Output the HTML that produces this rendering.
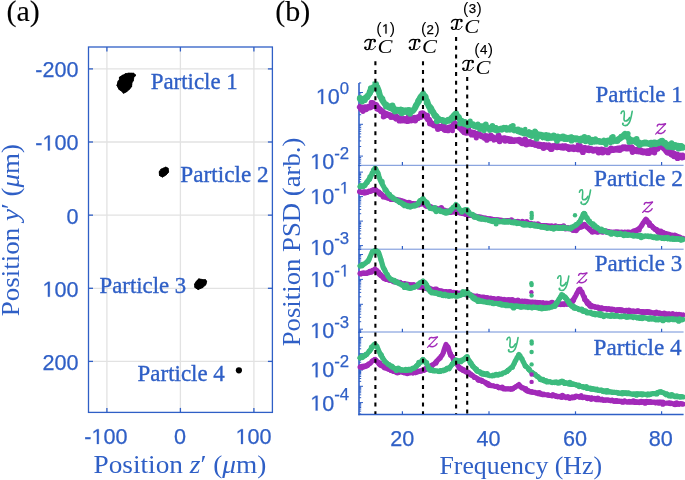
<!DOCTYPE html><html><head><meta charset="utf-8"><style>html,body{margin:0;padding:0;background:#fff;}svg{display:block;will-change:transform;}</style></head><body><svg width="685" height="480" viewBox="0 0 685 480">
<rect width="685" height="480" fill="#fff"/>
<line x1="106.9" y1="47" x2="106.9" y2="412.4" stroke="#e2e2e2" stroke-width="1.3"/>
<line x1="180.4" y1="47" x2="180.4" y2="412.4" stroke="#e2e2e2" stroke-width="1.3"/>
<line x1="253.9" y1="47" x2="253.9" y2="412.4" stroke="#e2e2e2" stroke-width="1.3"/>
<line x1="88.5" y1="68.9" x2="272.4" y2="68.9" stroke="#e2e2e2" stroke-width="1.3"/>
<line x1="88.5" y1="142.0" x2="272.4" y2="142.0" stroke="#e2e2e2" stroke-width="1.3"/>
<line x1="88.5" y1="215.15" x2="272.4" y2="215.15" stroke="#e2e2e2" stroke-width="1.3"/>
<line x1="88.5" y1="288.3" x2="272.4" y2="288.3" stroke="#e2e2e2" stroke-width="1.3"/>
<line x1="88.5" y1="361.4" x2="272.4" y2="361.4" stroke="#e2e2e2" stroke-width="1.3"/>
<rect x="88.5" y="47" width="183.89999999999998" height="365.4" fill="none" stroke="#2f5fc6" stroke-width="1.3"/>
<line x1="106.9" y1="47" x2="106.9" y2="51.5" stroke="#2f5fc6" stroke-width="1.3"/>
<line x1="106.9" y1="412.4" x2="106.9" y2="407.9" stroke="#2f5fc6" stroke-width="1.3"/>
<line x1="180.4" y1="47" x2="180.4" y2="51.5" stroke="#2f5fc6" stroke-width="1.3"/>
<line x1="180.4" y1="412.4" x2="180.4" y2="407.9" stroke="#2f5fc6" stroke-width="1.3"/>
<line x1="253.9" y1="47" x2="253.9" y2="51.5" stroke="#2f5fc6" stroke-width="1.3"/>
<line x1="253.9" y1="412.4" x2="253.9" y2="407.9" stroke="#2f5fc6" stroke-width="1.3"/>
<line x1="88.5" y1="68.9" x2="93.0" y2="68.9" stroke="#2f5fc6" stroke-width="1.3"/>
<line x1="272.4" y1="68.9" x2="267.9" y2="68.9" stroke="#2f5fc6" stroke-width="1.3"/>
<line x1="88.5" y1="142.0" x2="93.0" y2="142.0" stroke="#2f5fc6" stroke-width="1.3"/>
<line x1="272.4" y1="142.0" x2="267.9" y2="142.0" stroke="#2f5fc6" stroke-width="1.3"/>
<line x1="88.5" y1="215.15" x2="93.0" y2="215.15" stroke="#2f5fc6" stroke-width="1.3"/>
<line x1="272.4" y1="215.15" x2="267.9" y2="215.15" stroke="#2f5fc6" stroke-width="1.3"/>
<line x1="88.5" y1="288.3" x2="93.0" y2="288.3" stroke="#2f5fc6" stroke-width="1.3"/>
<line x1="272.4" y1="288.3" x2="267.9" y2="288.3" stroke="#2f5fc6" stroke-width="1.3"/>
<line x1="88.5" y1="361.4" x2="93.0" y2="361.4" stroke="#2f5fc6" stroke-width="1.3"/>
<line x1="272.4" y1="361.4" x2="267.9" y2="361.4" stroke="#2f5fc6" stroke-width="1.3"/>
<path d="M125.6 73.6 L128.8 73.2 L133.8 73.3 L135.5 75.0 L133.8 77.5 L133.4 80.3 L131.9 83.1 L131.6 86.6 L128.8 89.9 L126.2 91.8 L123.4 93.3 L121.9 91.2 L119.0 89.4 L117.1 85.6 L117.9 81.9 L119.4 79.4 L119.4 77.2 L122.5 75.3 L124.7 74.4Z" fill="#000" stroke="#000" stroke-width="0.8" stroke-linejoin="round"/><g fill="#000"><circle cx="125.6" cy="74.3" r="1.05"/><circle cx="128.5" cy="73.8" r="0.97"/><circle cx="130.0" cy="74.0" r="1.19"/><circle cx="131.7" cy="73.8" r="0.93"/><circle cx="133.2" cy="73.9" r="1.14"/><circle cx="134.9" cy="75.4" r="1.06"/><circle cx="133.2" cy="77.8" r="0.93"/><circle cx="132.6" cy="80.4" r="1.13"/><circle cx="131.3" cy="82.9" r="0.92"/><circle cx="131.1" cy="84.5" r="1.10"/><circle cx="131.1" cy="86.2" r="0.93"/><circle cx="129.8" cy="87.7" r="0.94"/><circle cx="128.5" cy="89.2" r="1.09"/><circle cx="126.2" cy="90.9" r="1.27"/><circle cx="124.9" cy="91.9" r="0.96"/><circle cx="123.6" cy="92.6" r="1.00"/><circle cx="122.2" cy="90.4" r="1.18"/><circle cx="121.0" cy="89.5" r="1.33"/><circle cx="119.5" cy="88.8" r="1.16"/><circle cx="118.7" cy="87.1" r="1.08"/><circle cx="118.0" cy="85.2" r="1.34"/><circle cx="118.1" cy="83.6" r="0.92"/><circle cx="118.8" cy="81.9" r="1.29"/><circle cx="120.1" cy="79.6" r="1.03"/><circle cx="120.0" cy="77.6" r="0.96"/><circle cx="121.4" cy="76.7" r="0.95"/><circle cx="122.9" cy="75.9" r="1.04"/><circle cx="124.9" cy="75.3" r="1.27"/></g>
<path d="M165.9 167.1 L168.1 168.2 L168.6 171.9 L166.2 174.9 L162.5 177.1 L159.5 175.5 L159.2 171.9 L160.9 169.2 L163.8 167.9Z" fill="#000" stroke="#000" stroke-width="0.8" stroke-linejoin="round"/><g fill="#000"><circle cx="165.7" cy="167.6" r="0.79"/><circle cx="167.6" cy="168.6" r="0.93"/><circle cx="167.7" cy="170.3" r="0.95"/><circle cx="168.0" cy="171.9" r="0.85"/><circle cx="166.9" cy="173.1" r="0.92"/><circle cx="165.9" cy="174.5" r="0.74"/><circle cx="164.3" cy="175.5" r="0.74"/><circle cx="162.6" cy="176.6" r="0.79"/><circle cx="161.3" cy="175.7" r="0.96"/><circle cx="160.0" cy="175.1" r="0.87"/><circle cx="159.9" cy="173.4" r="0.83"/><circle cx="159.8" cy="171.8" r="0.93"/><circle cx="161.4" cy="169.6" r="0.88"/><circle cx="163.8" cy="168.5" r="0.83"/></g>
<path d="M198.8 278.9 L202.5 279.5 L205.6 279.8 L206.6 281.3 L205.9 284.6 L202.5 287.7 L198.1 289.5 L194.8 287.4 L194.5 284.4 L195.9 281.7Z" fill="#000" stroke="#000" stroke-width="0.8" stroke-linejoin="round"/><g fill="#000"><circle cx="199.0" cy="279.6" r="1.01"/><circle cx="200.6" cy="279.9" r="0.97"/><circle cx="202.2" cy="280.0" r="0.81"/><circle cx="205.1" cy="280.2" r="0.93"/><circle cx="206.0" cy="281.5" r="0.91"/><circle cx="205.5" cy="283.0" r="1.04"/><circle cx="205.2" cy="284.5" r="0.98"/><circle cx="203.7" cy="285.8" r="0.82"/><circle cx="202.2" cy="287.0" r="1.07"/><circle cx="200.3" cy="288.1" r="0.76"/><circle cx="198.3" cy="288.9" r="0.87"/><circle cx="196.9" cy="287.9" r="0.99"/><circle cx="195.2" cy="287.1" r="0.77"/><circle cx="195.1" cy="284.3" r="0.90"/><circle cx="196.4" cy="281.9" r="0.73"/><circle cx="197.8" cy="280.8" r="0.96"/></g>
<circle cx="238.9" cy="370.3" r="3.1" fill="#000"/>
<text x="35.27" y="77.30" font-family='"Liberation Sans", sans-serif' font-size="21.6" fill="#2f5fc6" stroke="#2f5fc6" stroke-width="0.25">-200</text>
<text x="35.27" y="150.40" font-family='"Liberation Sans", sans-serif' font-size="21.6" fill="#2f5fc6" stroke="#2f5fc6" stroke-width="0.25">- 00</text><path transform="translate(42.46 150.40) scale(0.01055 -0.01055)" d="M515 0L696 0L696 1409L530 1409L197 1180L197 1010L515 1237Z" fill="#2f5fc6" stroke="#2f5fc6" stroke-width="23.7" stroke-linejoin="round"/>
<text x="66.49" y="223.55" font-family='"Liberation Sans", sans-serif' font-size="21.6" fill="#2f5fc6" stroke="#2f5fc6" stroke-width="0.25">0</text>
<text x="42.46" y="296.70" font-family='"Liberation Sans", sans-serif' font-size="21.6" fill="#2f5fc6" stroke="#2f5fc6" stroke-width="0.25"> 00</text><path transform="translate(42.46 296.70) scale(0.01055 -0.01055)" d="M515 0L696 0L696 1409L530 1409L197 1180L197 1010L515 1237Z" fill="#2f5fc6" stroke="#2f5fc6" stroke-width="23.7" stroke-linejoin="round"/>
<text x="42.46" y="369.80" font-family='"Liberation Sans", sans-serif' font-size="21.6" fill="#2f5fc6" stroke="#2f5fc6" stroke-width="0.25">200</text>
<text x="84.28" y="444.00" font-family='"Liberation Sans", sans-serif' font-size="21.6" fill="#2f5fc6" stroke="#2f5fc6" stroke-width="0.25">- 00</text><path transform="translate(91.48 444.00) scale(0.01055 -0.01055)" d="M515 0L696 0L696 1409L530 1409L197 1180L197 1010L515 1237Z" fill="#2f5fc6" stroke="#2f5fc6" stroke-width="23.7" stroke-linejoin="round"/>
<text x="173.99" y="444.00" font-family='"Liberation Sans", sans-serif' font-size="21.6" fill="#2f5fc6" stroke="#2f5fc6" stroke-width="0.25">0</text>
<text x="235.58" y="444.00" font-family='"Liberation Sans", sans-serif' font-size="21.6" fill="#2f5fc6" stroke="#2f5fc6" stroke-width="0.25"> 00</text><path transform="translate(235.58 444.00) scale(0.01055 -0.01055)" d="M515 0L696 0L696 1409L530 1409L197 1180L197 1010L515 1237Z" fill="#2f5fc6" stroke="#2f5fc6" stroke-width="23.7" stroke-linejoin="round"/>
<text transform="translate(150.66 88.50) scale(0.9830 1)" font-family='"Liberation Serif", serif' font-size="23.3" fill="#2f5fc6" stroke="#2f5fc6" stroke-width="0.356">Particle 1</text>
<text transform="translate(180.25 181.50) scale(0.9980 1)" font-family='"Liberation Serif", serif' font-size="23.3" fill="#2f5fc6" stroke="#2f5fc6" stroke-width="0.351">Particle 2</text>
<text transform="translate(99.57 292.80) scale(0.9770 1)" font-family='"Liberation Serif", serif' font-size="23.3" fill="#2f5fc6" stroke="#2f5fc6" stroke-width="0.358">Particle 3</text>
<text transform="translate(137.56 380.70) scale(0.9850 1)" font-family='"Liberation Serif", serif' font-size="23.3" fill="#2f5fc6" stroke="#2f5fc6" stroke-width="0.355">Particle 4</text>
<text transform="translate(93.46 472.60) scale(1.0590 1)" font-family='"Liberation Serif", serif' font-size="25.8" fill="#2f5fc6">Position <tspan font-style="italic">z</tspan>′ (<tspan font-style="italic">μ</tspan>m)</text>
<text transform="translate(18.76 316.28) rotate(-90) scale(1.0460 1)" font-family='"Liberation Serif", serif' font-size="25.8" fill="#2f5fc6">Position <tspan font-style="italic">y</tspan>′ (<tspan font-style="italic">μ</tspan>m)</text>
<text x="6.5" y="21" font-family='"Liberation Serif", serif' font-size="30" fill="#000" text-anchor="start" stroke="#000" stroke-width="0.1" >(a)</text>
<text x="275.3" y="21" font-family='"Liberation Serif", serif' font-size="30" fill="#000" text-anchor="start" stroke="#000" stroke-width="0.1" >(b)</text>
<line x1="358.3" y1="165.3" x2="683.6" y2="165.3" stroke="#6f8fd8" stroke-width="1"/>
<line x1="402.4" y1="165.3" x2="402.4" y2="162.0" stroke="#2f5fc6" stroke-width="1.2"/>
<line x1="489.0" y1="165.3" x2="489.0" y2="162.0" stroke="#2f5fc6" stroke-width="1.2"/>
<line x1="575.5" y1="165.3" x2="575.5" y2="162.0" stroke="#2f5fc6" stroke-width="1.2"/>
<line x1="661.6" y1="165.3" x2="661.6" y2="162.0" stroke="#2f5fc6" stroke-width="1.2"/>
<line x1="359" y1="83" x2="359" y2="166.0" stroke="#2f5fc6" stroke-width="1.6"/>
<line x1="359" y1="165.67" x2="361.2" y2="165.67" stroke="#2f5fc6" stroke-width="1"/>
<line x1="359" y1="163.15" x2="361.2" y2="163.15" stroke="#2f5fc6" stroke-width="1"/>
<line x1="359" y1="161.03" x2="361.2" y2="161.03" stroke="#2f5fc6" stroke-width="1"/>
<line x1="359" y1="159.18" x2="361.2" y2="159.18" stroke="#2f5fc6" stroke-width="1"/>
<line x1="359" y1="157.56" x2="361.2" y2="157.56" stroke="#2f5fc6" stroke-width="1"/>
<line x1="359" y1="156.10" x2="363" y2="156.10" stroke="#2f5fc6" stroke-width="1"/>
<line x1="359" y1="146.53" x2="361.2" y2="146.53" stroke="#2f5fc6" stroke-width="1"/>
<line x1="359" y1="140.93" x2="361.2" y2="140.93" stroke="#2f5fc6" stroke-width="1"/>
<line x1="359" y1="136.95" x2="361.2" y2="136.95" stroke="#2f5fc6" stroke-width="1"/>
<line x1="359" y1="133.87" x2="361.2" y2="133.87" stroke="#2f5fc6" stroke-width="1"/>
<line x1="359" y1="131.35" x2="361.2" y2="131.35" stroke="#2f5fc6" stroke-width="1"/>
<line x1="359" y1="129.23" x2="361.2" y2="129.23" stroke="#2f5fc6" stroke-width="1"/>
<line x1="359" y1="127.38" x2="361.2" y2="127.38" stroke="#2f5fc6" stroke-width="1"/>
<line x1="359" y1="125.76" x2="361.2" y2="125.76" stroke="#2f5fc6" stroke-width="1"/>
<line x1="359" y1="124.30" x2="363" y2="124.30" stroke="#2f5fc6" stroke-width="1"/>
<line x1="359" y1="114.73" x2="361.2" y2="114.73" stroke="#2f5fc6" stroke-width="1"/>
<line x1="359" y1="109.13" x2="361.2" y2="109.13" stroke="#2f5fc6" stroke-width="1"/>
<line x1="359" y1="105.15" x2="361.2" y2="105.15" stroke="#2f5fc6" stroke-width="1"/>
<line x1="359" y1="102.07" x2="361.2" y2="102.07" stroke="#2f5fc6" stroke-width="1"/>
<line x1="359" y1="99.55" x2="361.2" y2="99.55" stroke="#2f5fc6" stroke-width="1"/>
<line x1="359" y1="97.43" x2="361.2" y2="97.43" stroke="#2f5fc6" stroke-width="1"/>
<line x1="359" y1="95.58" x2="361.2" y2="95.58" stroke="#2f5fc6" stroke-width="1"/>
<line x1="359" y1="93.96" x2="361.2" y2="93.96" stroke="#2f5fc6" stroke-width="1"/>
<line x1="359" y1="92.50" x2="363" y2="92.50" stroke="#2f5fc6" stroke-width="1"/>
<line x1="359" y1="82.93" x2="361.2" y2="82.93" stroke="#2f5fc6" stroke-width="1"/>
<line x1="358.3" y1="249.2" x2="683.6" y2="249.2" stroke="#6f8fd8" stroke-width="1"/>
<line x1="402.4" y1="249.2" x2="402.4" y2="245.89999999999998" stroke="#2f5fc6" stroke-width="1.2"/>
<line x1="489.0" y1="249.2" x2="489.0" y2="245.89999999999998" stroke="#2f5fc6" stroke-width="1.2"/>
<line x1="575.5" y1="249.2" x2="575.5" y2="245.89999999999998" stroke="#2f5fc6" stroke-width="1.2"/>
<line x1="661.6" y1="249.2" x2="661.6" y2="245.89999999999998" stroke="#2f5fc6" stroke-width="1.2"/>
<line x1="359" y1="165.3" x2="359" y2="249.89999999999998" stroke="#2f5fc6" stroke-width="1.6"/>
<line x1="359" y1="249.40" x2="361.2" y2="249.40" stroke="#2f5fc6" stroke-width="1"/>
<line x1="359" y1="247.97" x2="361.2" y2="247.97" stroke="#2f5fc6" stroke-width="1"/>
<line x1="359" y1="246.72" x2="361.2" y2="246.72" stroke="#2f5fc6" stroke-width="1"/>
<line x1="359" y1="245.60" x2="363" y2="245.60" stroke="#2f5fc6" stroke-width="1"/>
<line x1="359" y1="238.22" x2="361.2" y2="238.22" stroke="#2f5fc6" stroke-width="1"/>
<line x1="359" y1="233.91" x2="361.2" y2="233.91" stroke="#2f5fc6" stroke-width="1"/>
<line x1="359" y1="230.85" x2="361.2" y2="230.85" stroke="#2f5fc6" stroke-width="1"/>
<line x1="359" y1="228.48" x2="361.2" y2="228.48" stroke="#2f5fc6" stroke-width="1"/>
<line x1="359" y1="226.54" x2="361.2" y2="226.54" stroke="#2f5fc6" stroke-width="1"/>
<line x1="359" y1="224.90" x2="361.2" y2="224.90" stroke="#2f5fc6" stroke-width="1"/>
<line x1="359" y1="223.47" x2="361.2" y2="223.47" stroke="#2f5fc6" stroke-width="1"/>
<line x1="359" y1="222.22" x2="361.2" y2="222.22" stroke="#2f5fc6" stroke-width="1"/>
<line x1="359" y1="221.10" x2="363" y2="221.10" stroke="#2f5fc6" stroke-width="1"/>
<line x1="359" y1="213.72" x2="361.2" y2="213.72" stroke="#2f5fc6" stroke-width="1"/>
<line x1="359" y1="209.41" x2="361.2" y2="209.41" stroke="#2f5fc6" stroke-width="1"/>
<line x1="359" y1="206.35" x2="361.2" y2="206.35" stroke="#2f5fc6" stroke-width="1"/>
<line x1="359" y1="203.98" x2="361.2" y2="203.98" stroke="#2f5fc6" stroke-width="1"/>
<line x1="359" y1="202.04" x2="361.2" y2="202.04" stroke="#2f5fc6" stroke-width="1"/>
<line x1="359" y1="200.40" x2="361.2" y2="200.40" stroke="#2f5fc6" stroke-width="1"/>
<line x1="359" y1="198.97" x2="361.2" y2="198.97" stroke="#2f5fc6" stroke-width="1"/>
<line x1="359" y1="197.72" x2="361.2" y2="197.72" stroke="#2f5fc6" stroke-width="1"/>
<line x1="359" y1="196.60" x2="363" y2="196.60" stroke="#2f5fc6" stroke-width="1"/>
<line x1="359" y1="189.22" x2="361.2" y2="189.22" stroke="#2f5fc6" stroke-width="1"/>
<line x1="359" y1="184.91" x2="361.2" y2="184.91" stroke="#2f5fc6" stroke-width="1"/>
<line x1="359" y1="181.85" x2="361.2" y2="181.85" stroke="#2f5fc6" stroke-width="1"/>
<line x1="359" y1="179.48" x2="361.2" y2="179.48" stroke="#2f5fc6" stroke-width="1"/>
<line x1="359" y1="177.54" x2="361.2" y2="177.54" stroke="#2f5fc6" stroke-width="1"/>
<line x1="359" y1="175.90" x2="361.2" y2="175.90" stroke="#2f5fc6" stroke-width="1"/>
<line x1="359" y1="174.47" x2="361.2" y2="174.47" stroke="#2f5fc6" stroke-width="1"/>
<line x1="359" y1="173.22" x2="361.2" y2="173.22" stroke="#2f5fc6" stroke-width="1"/>
<line x1="359" y1="172.10" x2="363" y2="172.10" stroke="#2f5fc6" stroke-width="1"/>
<line x1="358.3" y1="332" x2="683.6" y2="332" stroke="#6f8fd8" stroke-width="1"/>
<line x1="402.4" y1="332" x2="402.4" y2="328.7" stroke="#2f5fc6" stroke-width="1.2"/>
<line x1="489.0" y1="332" x2="489.0" y2="328.7" stroke="#2f5fc6" stroke-width="1.2"/>
<line x1="575.5" y1="332" x2="575.5" y2="328.7" stroke="#2f5fc6" stroke-width="1.2"/>
<line x1="661.6" y1="332" x2="661.6" y2="328.7" stroke="#2f5fc6" stroke-width="1.2"/>
<line x1="359" y1="249.2" x2="359" y2="332.7" stroke="#2f5fc6" stroke-width="1.6"/>
<line x1="359" y1="331.61" x2="361.2" y2="331.61" stroke="#2f5fc6" stroke-width="1"/>
<line x1="359" y1="330.34" x2="361.2" y2="330.34" stroke="#2f5fc6" stroke-width="1"/>
<line x1="359" y1="329.20" x2="363" y2="329.20" stroke="#2f5fc6" stroke-width="1"/>
<line x1="359" y1="321.70" x2="361.2" y2="321.70" stroke="#2f5fc6" stroke-width="1"/>
<line x1="359" y1="317.32" x2="361.2" y2="317.32" stroke="#2f5fc6" stroke-width="1"/>
<line x1="359" y1="314.21" x2="361.2" y2="314.21" stroke="#2f5fc6" stroke-width="1"/>
<line x1="359" y1="311.80" x2="361.2" y2="311.80" stroke="#2f5fc6" stroke-width="1"/>
<line x1="359" y1="309.82" x2="361.2" y2="309.82" stroke="#2f5fc6" stroke-width="1"/>
<line x1="359" y1="308.16" x2="361.2" y2="308.16" stroke="#2f5fc6" stroke-width="1"/>
<line x1="359" y1="306.71" x2="361.2" y2="306.71" stroke="#2f5fc6" stroke-width="1"/>
<line x1="359" y1="305.44" x2="361.2" y2="305.44" stroke="#2f5fc6" stroke-width="1"/>
<line x1="359" y1="304.30" x2="363" y2="304.30" stroke="#2f5fc6" stroke-width="1"/>
<line x1="359" y1="296.80" x2="361.2" y2="296.80" stroke="#2f5fc6" stroke-width="1"/>
<line x1="359" y1="292.42" x2="361.2" y2="292.42" stroke="#2f5fc6" stroke-width="1"/>
<line x1="359" y1="289.31" x2="361.2" y2="289.31" stroke="#2f5fc6" stroke-width="1"/>
<line x1="359" y1="286.90" x2="361.2" y2="286.90" stroke="#2f5fc6" stroke-width="1"/>
<line x1="359" y1="284.92" x2="361.2" y2="284.92" stroke="#2f5fc6" stroke-width="1"/>
<line x1="359" y1="283.26" x2="361.2" y2="283.26" stroke="#2f5fc6" stroke-width="1"/>
<line x1="359" y1="281.81" x2="361.2" y2="281.81" stroke="#2f5fc6" stroke-width="1"/>
<line x1="359" y1="280.54" x2="361.2" y2="280.54" stroke="#2f5fc6" stroke-width="1"/>
<line x1="359" y1="279.40" x2="363" y2="279.40" stroke="#2f5fc6" stroke-width="1"/>
<line x1="359" y1="271.90" x2="361.2" y2="271.90" stroke="#2f5fc6" stroke-width="1"/>
<line x1="359" y1="267.52" x2="361.2" y2="267.52" stroke="#2f5fc6" stroke-width="1"/>
<line x1="359" y1="264.41" x2="361.2" y2="264.41" stroke="#2f5fc6" stroke-width="1"/>
<line x1="359" y1="262.00" x2="361.2" y2="262.00" stroke="#2f5fc6" stroke-width="1"/>
<line x1="359" y1="260.02" x2="361.2" y2="260.02" stroke="#2f5fc6" stroke-width="1"/>
<line x1="359" y1="258.36" x2="361.2" y2="258.36" stroke="#2f5fc6" stroke-width="1"/>
<line x1="359" y1="256.91" x2="361.2" y2="256.91" stroke="#2f5fc6" stroke-width="1"/>
<line x1="359" y1="255.64" x2="361.2" y2="255.64" stroke="#2f5fc6" stroke-width="1"/>
<line x1="359" y1="254.50" x2="363" y2="254.50" stroke="#2f5fc6" stroke-width="1"/>
<line x1="358.3" y1="414.6" x2="683.6" y2="414.6" stroke="#2f5fc6" stroke-width="1.5"/>
<line x1="402.4" y1="414.6" x2="402.4" y2="411.3" stroke="#2f5fc6" stroke-width="1.2"/>
<line x1="489.0" y1="414.6" x2="489.0" y2="411.3" stroke="#2f5fc6" stroke-width="1.2"/>
<line x1="575.5" y1="414.6" x2="575.5" y2="411.3" stroke="#2f5fc6" stroke-width="1.2"/>
<line x1="661.6" y1="414.6" x2="661.6" y2="411.3" stroke="#2f5fc6" stroke-width="1.2"/>
<line x1="359" y1="332" x2="359" y2="415.3" stroke="#2f5fc6" stroke-width="1.6"/>
<line x1="359" y1="413.99" x2="361.2" y2="413.99" stroke="#2f5fc6" stroke-width="1"/>
<line x1="359" y1="411.12" x2="361.2" y2="411.12" stroke="#2f5fc6" stroke-width="1"/>
<line x1="359" y1="409.09" x2="361.2" y2="409.09" stroke="#2f5fc6" stroke-width="1"/>
<line x1="359" y1="407.51" x2="361.2" y2="407.51" stroke="#2f5fc6" stroke-width="1"/>
<line x1="359" y1="406.22" x2="361.2" y2="406.22" stroke="#2f5fc6" stroke-width="1"/>
<line x1="359" y1="405.12" x2="361.2" y2="405.12" stroke="#2f5fc6" stroke-width="1"/>
<line x1="359" y1="404.18" x2="361.2" y2="404.18" stroke="#2f5fc6" stroke-width="1"/>
<line x1="359" y1="403.35" x2="361.2" y2="403.35" stroke="#2f5fc6" stroke-width="1"/>
<line x1="359" y1="402.60" x2="363" y2="402.60" stroke="#2f5fc6" stroke-width="1"/>
<line x1="359" y1="397.69" x2="361.2" y2="397.69" stroke="#2f5fc6" stroke-width="1"/>
<line x1="359" y1="394.82" x2="361.2" y2="394.82" stroke="#2f5fc6" stroke-width="1"/>
<line x1="359" y1="392.79" x2="361.2" y2="392.79" stroke="#2f5fc6" stroke-width="1"/>
<line x1="359" y1="391.21" x2="361.2" y2="391.21" stroke="#2f5fc6" stroke-width="1"/>
<line x1="359" y1="389.92" x2="361.2" y2="389.92" stroke="#2f5fc6" stroke-width="1"/>
<line x1="359" y1="388.82" x2="361.2" y2="388.82" stroke="#2f5fc6" stroke-width="1"/>
<line x1="359" y1="387.88" x2="361.2" y2="387.88" stroke="#2f5fc6" stroke-width="1"/>
<line x1="359" y1="387.05" x2="361.2" y2="387.05" stroke="#2f5fc6" stroke-width="1"/>
<line x1="359" y1="386.30" x2="363" y2="386.30" stroke="#2f5fc6" stroke-width="1"/>
<line x1="359" y1="381.39" x2="361.2" y2="381.39" stroke="#2f5fc6" stroke-width="1"/>
<line x1="359" y1="378.52" x2="361.2" y2="378.52" stroke="#2f5fc6" stroke-width="1"/>
<line x1="359" y1="376.49" x2="361.2" y2="376.49" stroke="#2f5fc6" stroke-width="1"/>
<line x1="359" y1="374.91" x2="361.2" y2="374.91" stroke="#2f5fc6" stroke-width="1"/>
<line x1="359" y1="373.62" x2="361.2" y2="373.62" stroke="#2f5fc6" stroke-width="1"/>
<line x1="359" y1="372.52" x2="361.2" y2="372.52" stroke="#2f5fc6" stroke-width="1"/>
<line x1="359" y1="371.58" x2="361.2" y2="371.58" stroke="#2f5fc6" stroke-width="1"/>
<line x1="359" y1="370.75" x2="361.2" y2="370.75" stroke="#2f5fc6" stroke-width="1"/>
<line x1="359" y1="370.00" x2="363" y2="370.00" stroke="#2f5fc6" stroke-width="1"/>
<line x1="359" y1="365.09" x2="361.2" y2="365.09" stroke="#2f5fc6" stroke-width="1"/>
<line x1="359" y1="362.22" x2="361.2" y2="362.22" stroke="#2f5fc6" stroke-width="1"/>
<line x1="359" y1="360.19" x2="361.2" y2="360.19" stroke="#2f5fc6" stroke-width="1"/>
<line x1="359" y1="358.61" x2="361.2" y2="358.61" stroke="#2f5fc6" stroke-width="1"/>
<line x1="359" y1="357.32" x2="361.2" y2="357.32" stroke="#2f5fc6" stroke-width="1"/>
<line x1="359" y1="356.22" x2="361.2" y2="356.22" stroke="#2f5fc6" stroke-width="1"/>
<line x1="359" y1="355.28" x2="361.2" y2="355.28" stroke="#2f5fc6" stroke-width="1"/>
<line x1="359" y1="354.45" x2="361.2" y2="354.45" stroke="#2f5fc6" stroke-width="1"/>
<line x1="359" y1="353.70" x2="363" y2="353.70" stroke="#2f5fc6" stroke-width="1"/>
<line x1="359" y1="348.79" x2="361.2" y2="348.79" stroke="#2f5fc6" stroke-width="1"/>
<line x1="359" y1="345.92" x2="361.2" y2="345.92" stroke="#2f5fc6" stroke-width="1"/>
<line x1="359" y1="343.89" x2="361.2" y2="343.89" stroke="#2f5fc6" stroke-width="1"/>
<line x1="359" y1="342.31" x2="361.2" y2="342.31" stroke="#2f5fc6" stroke-width="1"/>
<line x1="359" y1="341.02" x2="361.2" y2="341.02" stroke="#2f5fc6" stroke-width="1"/>
<line x1="359" y1="339.92" x2="361.2" y2="339.92" stroke="#2f5fc6" stroke-width="1"/>
<line x1="359" y1="338.98" x2="361.2" y2="338.98" stroke="#2f5fc6" stroke-width="1"/>
<line x1="359" y1="338.15" x2="361.2" y2="338.15" stroke="#2f5fc6" stroke-width="1"/>
<line x1="359" y1="337.40" x2="363" y2="337.40" stroke="#2f5fc6" stroke-width="1"/>
<line x1="359" y1="332.49" x2="361.2" y2="332.49" stroke="#2f5fc6" stroke-width="1"/>
<clipPath id="c0"><rect x="354" y="81.5" width="331" height="83.80000000000001"/></clipPath>
<clipPath id="c1"><rect x="354" y="164.10000000000002" width="331" height="85.09999999999998"/></clipPath>
<clipPath id="c2"><rect x="354" y="248.0" width="331" height="84.00000000000001"/></clipPath>
<clipPath id="c3"><rect x="354" y="330.8" width="331" height="83.80000000000003"/></clipPath>
<g clip-path="url(#c0)" fill="none" stroke-linejoin="round" stroke-linecap="round" stroke-width="6.2">
<path d="M360.0 107.0L361.0 107.7L362.0 107.7L363.0 108.5L364.0 107.9L365.0 108.5L366.0 108.4L367.0 107.8L368.0 107.3L369.0 106.7L370.0 106.3L371.0 106.5L372.0 106.4L373.0 105.4L374.0 105.4L375.0 104.8L376.0 105.0L377.0 107.0L378.0 107.9L379.0 109.3L380.0 109.5L381.0 111.0L382.0 111.1L383.0 112.2L384.0 113.6L385.0 114.3L386.0 113.9L387.0 114.9L388.0 114.7L389.0 115.0L390.0 115.2L391.0 116.6L392.0 115.9L393.0 116.5L394.0 117.0L395.0 117.5L396.0 118.4L397.0 117.4L398.0 118.3L399.0 118.8L400.0 119.6L401.0 119.8L402.0 120.2L403.0 119.5L404.0 120.1L405.0 120.5L406.0 120.2L407.0 120.9L408.0 120.9L409.0 119.5L410.0 119.5L411.0 119.5L412.0 119.4L413.0 119.7L414.0 119.7L415.0 119.5L416.0 118.5L417.0 117.5L418.0 117.6L419.0 116.9L420.0 116.5L421.0 115.6L422.0 115.2L423.0 113.5L424.0 114.6L425.0 115.2L426.0 116.0L427.0 117.7L428.0 119.3L429.0 119.8L430.0 122.0L431.0 123.3L432.0 123.8L433.0 124.7L434.0 125.3L435.0 125.5L436.0 125.8L437.0 126.3L438.0 126.4L439.0 127.7L440.0 128.0L441.0 127.6L442.0 127.8L443.0 128.3L444.0 128.5L445.0 129.3L446.0 128.9L447.0 128.3L448.0 128.0L449.0 128.1L450.0 128.5L451.0 127.2L452.0 126.9L453.0 125.7L454.0 126.4L455.0 125.3L456.0 124.5L457.0 124.9L458.0 125.9L459.0 127.0L460.0 127.9L461.0 128.5L462.0 130.0L463.0 130.9L464.0 131.4L465.0 130.9L466.0 131.2L467.0 130.9L468.0 131.2L469.0 131.9L470.0 132.5L471.0 132.4L472.0 133.6L473.0 132.8L474.0 132.9L475.0 134.6L476.0 134.2L477.0 133.9L478.0 134.8L479.0 134.3L480.0 135.3L481.0 135.6L482.0 136.5L483.0 136.5L484.0 136.5L485.0 136.0L486.0 136.4L487.0 136.3L488.0 137.5L489.0 137.3L490.0 137.5L491.0 138.1L492.0 137.5L493.0 137.4L494.0 138.5L495.0 138.9L496.0 138.8L497.0 138.9L498.0 139.0L499.0 139.1L500.0 138.8L501.0 138.4L502.0 139.0L503.0 138.8L504.0 138.3L505.0 138.4L506.0 138.9L507.0 138.9L508.0 139.7L509.0 140.2L510.0 139.5L511.0 139.6L512.0 140.6L513.0 140.9L514.0 141.0L515.0 140.3L516.0 140.3L517.0 140.5L518.0 140.6L519.0 140.8L520.0 141.5L521.0 141.9L522.0 142.5L523.0 142.6L524.0 142.1L525.0 142.6L526.0 143.0L527.0 142.0L528.0 143.1L529.0 143.7L530.0 143.2L531.0 143.8L532.0 144.0L533.0 143.7L534.0 143.4L535.0 144.6L536.0 144.1L537.0 145.0L538.0 145.4L539.0 144.7L540.0 144.9L541.0 146.0L542.0 145.8L543.0 145.1L544.0 145.2L545.0 146.0L546.0 145.5L547.0 146.7L548.0 146.6L549.0 145.6L550.0 146.7L551.0 147.0L552.0 146.5L553.0 146.1L554.0 146.4L555.0 145.8L556.0 145.7L557.0 147.2L558.0 146.8L559.0 146.6L560.0 146.6L561.0 147.4L562.0 146.7L563.0 147.6L564.0 147.6L565.0 146.7L566.0 146.9L567.0 147.1L568.0 147.1L569.0 147.8L570.0 147.8L571.0 147.5L572.0 147.9L573.0 147.5L574.0 148.9L575.0 148.1L576.0 148.4L577.0 148.7L578.0 149.3L579.0 148.7L580.0 148.9L581.0 149.6L582.0 149.0L583.0 149.2L584.0 149.2L585.0 148.5L586.0 149.2L587.0 148.9L588.0 148.7L589.0 150.0L590.0 149.6L591.0 149.2L592.0 149.8L593.0 150.3L594.0 150.1L595.0 149.9L596.0 150.3L597.0 150.5L598.0 150.9L599.0 150.0L600.0 150.7L601.0 150.7L602.0 150.2L603.0 150.2L604.0 150.9L605.0 150.5L606.0 150.5L607.0 150.8L608.0 151.0L609.0 150.2L610.0 150.2L611.0 150.2L612.0 149.8L613.0 149.7L614.0 149.8L615.0 149.2L616.0 149.2L617.0 148.9L618.0 149.5L619.0 148.9L620.0 148.4L621.0 148.8L622.0 148.7L623.0 147.4L624.0 147.7L625.0 147.4L626.0 148.4L627.0 148.5L628.0 147.7L629.0 147.9L630.0 148.7L631.0 148.4L632.0 148.9L633.0 149.0L634.0 150.2L635.0 150.2L636.0 150.8L637.0 151.2L638.0 150.2L639.0 151.3L640.0 151.4L641.0 150.7L642.0 152.1L643.0 152.4L644.0 151.4L645.0 152.0L646.0 152.5L647.0 151.5L648.0 151.4L649.0 152.1L650.0 151.6L651.0 150.4L652.0 150.6L653.0 150.6L654.0 150.1L655.0 150.2L656.0 148.8L657.0 148.1L658.0 147.5L659.0 146.9L660.0 144.7L661.0 144.5L662.0 145.9L663.0 147.1L664.0 148.5L665.0 148.9L666.0 150.6L667.0 152.0L668.0 152.5L669.0 152.7L670.0 152.3L671.0 154.1L672.0 154.1L673.0 154.8L674.0 153.7L675.0 154.7L676.0 154.6L677.0 154.5L678.0 156.0L679.0 155.5L680.0 155.5L681.0 156.3L682.0 157.4L683.0 157.0" stroke="#a22ab9"/><g fill="#a22ab9" stroke="none"><circle cx="361.1" cy="109.3" r="2.8"/><circle cx="362.0" cy="110.3" r="2.3"/><circle cx="362.9" cy="111.1" r="2.8"/><circle cx="363.3" cy="109.7" r="3.0"/><circle cx="365.2" cy="107.3" r="3.0"/><circle cx="366.1" cy="109.6" r="2.7"/><circle cx="367.0" cy="107.8" r="2.5"/><circle cx="367.9" cy="107.6" r="2.9"/><circle cx="368.8" cy="107.4" r="2.3"/><circle cx="369.9" cy="107.6" r="2.9"/><circle cx="371.1" cy="102.5" r="2.4"/><circle cx="372.0" cy="106.4" r="2.7"/><circle cx="372.5" cy="103.2" r="3.1"/><circle cx="375.8" cy="105.8" r="2.6"/><circle cx="376.8" cy="109.1" r="2.5"/><circle cx="378.3" cy="108.7" r="3.0"/><circle cx="379.5" cy="109.4" r="2.7"/><circle cx="381.1" cy="111.5" r="2.5"/><circle cx="382.4" cy="112.0" r="2.5"/><circle cx="383.4" cy="116.8" r="2.6"/><circle cx="384.1" cy="114.2" r="2.3"/><circle cx="384.8" cy="116.1" r="2.6"/><circle cx="386.1" cy="114.3" r="2.8"/><circle cx="391.0" cy="117.2" r="2.6"/><circle cx="391.8" cy="116.0" r="2.3"/><circle cx="396.0" cy="115.6" r="2.7"/><circle cx="399.4" cy="120.7" r="2.9"/><circle cx="400.4" cy="117.7" r="2.4"/><circle cx="401.5" cy="120.4" r="2.8"/><circle cx="403.4" cy="118.3" r="2.3"/><circle cx="405.2" cy="118.3" r="2.4"/><circle cx="405.7" cy="119.9" r="2.4"/><circle cx="407.6" cy="120.0" r="2.7"/><circle cx="408.8" cy="115.9" r="2.8"/><circle cx="411.1" cy="120.6" r="2.9"/><circle cx="411.8" cy="120.7" r="2.3"/><circle cx="412.9" cy="118.6" r="2.8"/><circle cx="414.0" cy="117.5" r="2.7"/><circle cx="415.2" cy="120.3" r="3.1"/><circle cx="416.1" cy="118.4" r="2.7"/><circle cx="417.4" cy="117.8" r="3.1"/><circle cx="418.5" cy="118.5" r="2.4"/><circle cx="420.5" cy="117.0" r="3.0"/><circle cx="421.2" cy="113.6" r="3.0"/><circle cx="421.9" cy="116.2" r="2.7"/><circle cx="422.9" cy="113.5" r="2.6"/><circle cx="425.1" cy="115.0" r="2.4"/><circle cx="427.4" cy="115.3" r="2.6"/><circle cx="428.9" cy="119.9" r="2.5"/><circle cx="430.0" cy="123.4" r="3.0"/><circle cx="431.9" cy="123.2" r="2.5"/><circle cx="437.9" cy="129.0" r="2.9"/><circle cx="439.7" cy="128.1" r="2.5"/><circle cx="441.8" cy="126.3" r="2.7"/><circle cx="442.9" cy="128.4" r="2.5"/><circle cx="443.6" cy="124.7" r="2.7"/><circle cx="444.6" cy="129.8" r="3.0"/><circle cx="445.9" cy="130.1" r="3.0"/><circle cx="446.3" cy="129.7" r="2.4"/><circle cx="447.1" cy="129.7" r="2.5"/><circle cx="448.1" cy="130.7" r="2.6"/><circle cx="449.0" cy="127.0" r="2.6"/><circle cx="450.0" cy="127.8" r="2.4"/><circle cx="452.5" cy="130.7" r="2.5"/><circle cx="453.9" cy="122.5" r="3.0"/><circle cx="454.7" cy="126.8" r="2.3"/><circle cx="456.6" cy="124.7" r="2.6"/><circle cx="459.6" cy="128.1" r="2.4"/><circle cx="460.9" cy="127.4" r="2.9"/><circle cx="462.2" cy="126.8" r="2.7"/><circle cx="464.1" cy="132.7" r="2.5"/><circle cx="465.5" cy="130.0" r="2.8"/><circle cx="466.1" cy="133.0" r="2.8"/><circle cx="466.7" cy="132.4" r="2.8"/><circle cx="468.3" cy="128.1" r="2.8"/><circle cx="468.7" cy="133.1" r="2.5"/><circle cx="471.5" cy="134.8" r="2.8"/><circle cx="472.8" cy="133.4" r="2.8"/><circle cx="473.5" cy="134.8" r="2.6"/><circle cx="474.5" cy="134.0" r="2.9"/><circle cx="475.5" cy="135.1" r="2.5"/><circle cx="476.3" cy="138.1" r="2.5"/><circle cx="476.8" cy="136.2" r="2.4"/><circle cx="478.3" cy="134.2" r="2.8"/><circle cx="478.5" cy="134.1" r="3.1"/><circle cx="479.6" cy="135.9" r="2.3"/><circle cx="484.7" cy="137.9" r="2.9"/><circle cx="486.8" cy="140.2" r="2.6"/><circle cx="488.2" cy="138.3" r="2.6"/><circle cx="488.5" cy="137.2" r="3.1"/><circle cx="489.2" cy="138.7" r="2.6"/><circle cx="490.8" cy="135.0" r="2.6"/><circle cx="491.3" cy="135.5" r="2.3"/><circle cx="493.8" cy="140.5" r="2.3"/><circle cx="495.7" cy="138.2" r="2.6"/><circle cx="498.5" cy="135.3" r="2.9"/><circle cx="499.6" cy="141.3" r="3.0"/><circle cx="501.3" cy="139.0" r="2.5"/><circle cx="504.3" cy="139.1" r="2.7"/><circle cx="505.1" cy="140.8" r="2.9"/><circle cx="508.2" cy="138.8" r="2.9"/><circle cx="509.2" cy="140.8" r="2.9"/><circle cx="510.7" cy="141.5" r="2.6"/><circle cx="512.7" cy="140.5" r="2.4"/><circle cx="513.8" cy="139.9" r="2.5"/><circle cx="519.1" cy="139.7" r="3.0"/><circle cx="520.0" cy="139.8" r="2.5"/><circle cx="521.4" cy="143.5" r="2.4"/><circle cx="522.0" cy="141.1" r="3.1"/><circle cx="523.0" cy="143.4" r="2.9"/><circle cx="525.0" cy="139.5" r="3.0"/><circle cx="525.3" cy="142.9" r="2.5"/><circle cx="526.4" cy="144.6" r="3.0"/><circle cx="528.5" cy="142.6" r="2.5"/><circle cx="530.0" cy="141.4" r="2.5"/><circle cx="530.8" cy="142.2" r="2.5"/><circle cx="531.8" cy="142.9" r="2.3"/><circle cx="533.5" cy="143.0" r="2.5"/><circle cx="535.5" cy="144.9" r="2.6"/><circle cx="537.5" cy="144.8" r="2.4"/><circle cx="538.0" cy="144.5" r="3.1"/><circle cx="539.0" cy="146.2" r="2.6"/><circle cx="541.4" cy="146.2" r="2.5"/><circle cx="543.5" cy="148.1" r="3.0"/><circle cx="545.5" cy="146.2" r="2.7"/><circle cx="547.1" cy="146.3" r="2.8"/><circle cx="548.4" cy="146.9" r="2.7"/><circle cx="549.2" cy="147.2" r="2.7"/><circle cx="550.8" cy="148.8" r="3.1"/><circle cx="551.6" cy="148.9" r="3.0"/><circle cx="555.6" cy="146.7" r="2.6"/><circle cx="557.0" cy="145.4" r="2.5"/><circle cx="558.2" cy="145.9" r="2.5"/><circle cx="560.0" cy="147.1" r="2.7"/><circle cx="560.7" cy="147.1" r="2.8"/><circle cx="562.6" cy="146.2" r="2.6"/><circle cx="563.0" cy="146.1" r="2.7"/><circle cx="565.4" cy="145.8" r="2.5"/><circle cx="566.7" cy="148.2" r="2.4"/><circle cx="567.9" cy="149.1" r="2.4"/><circle cx="569.0" cy="149.8" r="2.4"/><circle cx="570.6" cy="148.4" r="2.3"/><circle cx="571.9" cy="148.8" r="3.0"/><circle cx="574.2" cy="148.0" r="3.1"/><circle cx="576.8" cy="149.4" r="2.4"/><circle cx="578.5" cy="145.3" r="3.0"/><circle cx="580.3" cy="145.5" r="2.5"/><circle cx="581.0" cy="148.9" r="2.6"/><circle cx="582.6" cy="151.0" r="2.8"/><circle cx="582.9" cy="152.2" r="2.9"/><circle cx="584.1" cy="148.2" r="3.0"/><circle cx="584.7" cy="148.1" r="3.0"/><circle cx="587.8" cy="149.8" r="3.1"/><circle cx="588.6" cy="148.3" r="2.9"/><circle cx="589.3" cy="149.5" r="3.0"/><circle cx="592.1" cy="149.4" r="2.8"/><circle cx="593.0" cy="150.8" r="2.8"/><circle cx="593.7" cy="150.2" r="3.0"/><circle cx="594.8" cy="150.0" r="2.3"/><circle cx="595.6" cy="150.0" r="2.6"/><circle cx="596.7" cy="149.4" r="2.8"/><circle cx="597.4" cy="149.9" r="3.0"/><circle cx="598.7" cy="152.4" r="3.0"/><circle cx="599.0" cy="151.9" r="2.5"/><circle cx="601.5" cy="149.3" r="2.7"/><circle cx="602.6" cy="152.4" r="3.0"/><circle cx="604.1" cy="149.6" r="2.3"/><circle cx="605.2" cy="151.1" r="2.7"/><circle cx="605.8" cy="151.1" r="2.7"/><circle cx="607.3" cy="152.3" r="2.5"/><circle cx="608.0" cy="152.4" r="2.9"/><circle cx="611.1" cy="148.3" r="2.9"/><circle cx="611.9" cy="150.7" r="2.3"/><circle cx="616.4" cy="149.7" r="2.7"/><circle cx="618.1" cy="148.5" r="3.1"/><circle cx="619.9" cy="150.6" r="2.5"/><circle cx="624.0" cy="148.7" r="2.5"/><circle cx="628.4" cy="147.4" r="3.0"/><circle cx="629.8" cy="148.5" r="2.5"/><circle cx="631.5" cy="147.3" r="3.0"/><circle cx="632.4" cy="152.3" r="2.6"/><circle cx="633.8" cy="152.0" r="2.3"/><circle cx="637.5" cy="149.4" r="3.0"/><circle cx="639.3" cy="150.1" r="3.0"/><circle cx="641.1" cy="151.5" r="2.3"/><circle cx="645.0" cy="152.7" r="2.4"/><circle cx="646.9" cy="150.9" r="2.3"/><circle cx="647.9" cy="152.9" r="2.9"/><circle cx="649.0" cy="153.1" r="3.0"/><circle cx="649.7" cy="150.7" r="2.6"/><circle cx="651.9" cy="150.3" r="2.5"/><circle cx="652.2" cy="148.8" r="3.0"/><circle cx="653.0" cy="151.3" r="3.1"/><circle cx="654.5" cy="152.8" r="2.7"/><circle cx="655.0" cy="148.6" r="3.0"/><circle cx="657.2" cy="148.4" r="2.5"/><circle cx="658.1" cy="149.3" r="2.4"/><circle cx="661.4" cy="146.6" r="2.6"/><circle cx="663.1" cy="147.8" r="2.5"/><circle cx="665.4" cy="149.6" r="2.6"/><circle cx="666.2" cy="149.0" r="2.9"/><circle cx="667.5" cy="152.7" r="2.6"/><circle cx="671.1" cy="151.0" r="2.8"/><circle cx="672.1" cy="154.8" r="3.0"/><circle cx="672.9" cy="153.3" r="3.0"/><circle cx="674.0" cy="156.7" r="2.5"/><circle cx="675.4" cy="155.4" r="2.5"/><circle cx="676.5" cy="156.4" r="3.1"/><circle cx="677.6" cy="158.2" r="2.9"/><circle cx="678.3" cy="155.5" r="2.8"/><circle cx="679.7" cy="155.7" r="2.6"/><circle cx="681.3" cy="156.8" r="2.8"/><circle cx="682.5" cy="155.5" r="2.9"/></g>
<path d="M360.0 99.0L361.0 98.8L362.0 99.0L363.0 99.3L364.0 98.7L365.0 98.8L366.0 97.3L367.0 97.0L368.0 95.5L369.0 94.3L370.0 92.3L371.0 90.0L372.0 89.2L373.0 88.3L373.5 87.2L374.0 87.3L375.0 86.8L375.5 86.3L376.0 86.8L377.0 87.7L377.5 88.5L378.0 90.2L379.0 92.4L380.0 96.0L381.0 97.5L382.0 99.7L383.0 101.3L384.0 102.8L385.0 104.2L386.0 104.5L387.0 105.4L388.0 106.1L389.0 107.0L390.0 107.5L391.0 107.8L392.0 108.6L393.0 109.4L394.0 108.6L395.0 109.5L396.0 109.9L397.0 110.3L398.0 109.9L399.0 110.2L400.0 111.2L401.0 109.8L402.0 110.8L403.0 110.4L404.0 111.6L405.0 111.3L406.0 111.9L407.0 111.2L408.0 110.5L409.0 111.2L410.0 111.1L411.0 111.3L412.0 110.9L413.0 110.8L414.0 109.4L415.0 108.0L416.0 105.9L417.0 104.0L418.0 102.5L419.0 101.2L420.0 98.0L421.0 96.5L422.0 95.5L423.0 94.0L424.0 95.1L425.0 96.5L426.0 99.4L427.0 100.9L428.0 104.0L429.0 106.4L430.0 107.0L431.0 108.2L432.0 110.5L433.0 112.0L434.0 114.0L435.0 116.0L436.0 116.0L437.0 117.5L438.0 118.3L439.0 119.5L440.0 120.0L441.0 120.0L442.0 120.0L443.0 120.2L444.0 121.2L445.0 121.0L446.0 121.5L447.0 120.6L448.0 120.0L449.0 120.7L450.0 120.0L451.0 118.8L452.0 117.5L453.0 117.0L454.0 115.2L455.0 115.1L456.0 113.5L457.0 115.6L458.0 117.0L459.0 118.3L460.0 120.0L461.0 120.8L462.0 121.0L463.0 122.8L464.0 122.6L465.0 123.5L466.0 123.9L467.0 124.4L468.0 124.6L469.0 124.2L470.0 124.5L471.0 124.4L472.0 125.0L473.0 124.5L474.0 125.8L475.0 125.3L476.0 126.3L477.0 125.5L478.0 125.9L479.0 125.9L480.0 126.5L481.0 126.6L482.0 126.4L483.0 126.3L484.0 127.7L485.0 127.1L486.0 127.3L487.0 127.6L488.0 128.1L489.0 128.2L490.0 128.5L491.0 128.8L492.0 128.9L493.0 128.5L494.0 129.5L495.0 129.5L496.0 128.3L497.0 129.6L498.0 129.8L499.0 129.7L500.0 129.3L501.0 128.6L502.0 129.5L503.0 129.0L504.0 127.9L505.0 128.5L506.0 127.9L507.0 129.6L508.0 129.3L509.0 128.9L510.0 129.5L511.0 129.0L512.0 129.1L513.0 129.4L514.0 130.3L515.0 130.0L516.0 130.0L517.0 129.8L518.0 131.2L519.0 131.3L520.0 131.0L521.0 130.7L522.0 132.0L523.0 131.8L524.0 132.3L525.0 132.3L526.0 132.8L527.0 132.9L528.0 133.1L529.0 132.3L530.0 133.0L531.0 133.5L532.0 133.5L533.0 134.1L534.0 133.8L535.0 134.7L536.0 134.4L537.0 134.2L538.0 134.4L539.0 134.5L540.0 135.3L541.0 134.8L542.0 135.7L543.0 135.4L544.0 136.2L545.0 136.4L546.0 136.5L547.0 136.6L548.0 137.2L549.0 135.9L550.0 137.3L551.0 136.8L552.0 137.0L553.0 137.3L554.0 137.6L555.0 136.9L556.0 137.1L557.0 138.0L558.0 136.7L559.0 137.6L560.0 137.5L561.0 137.8L562.0 136.9L563.0 137.9L564.0 138.1L565.0 138.6L566.0 137.7L567.0 138.8L568.0 138.2L569.0 138.2L570.0 138.3L571.0 139.0L572.0 137.7L573.0 138.9L574.0 138.9L575.0 138.5L576.0 139.4L577.0 138.7L578.0 139.0L579.0 139.2L580.0 139.2L581.0 139.7L582.0 138.9L583.0 139.4L584.0 139.4L585.0 139.7L586.0 140.3L587.0 139.5L588.0 140.4L589.0 139.9L590.0 140.1L591.0 140.3L592.0 140.0L593.0 140.6L594.0 141.5L595.0 141.1L596.0 141.5L597.0 140.9L598.0 141.0L599.0 141.1L600.0 141.6L601.0 141.7L602.0 141.7L603.0 141.9L604.0 140.7L605.0 141.7L606.0 141.9L607.0 141.3L608.0 140.5L609.0 140.8L610.0 141.1L611.0 140.1L612.0 140.3L613.0 141.3L614.0 140.6L615.0 140.5L616.0 140.6L617.0 140.6L618.0 139.8L619.0 139.2L620.0 138.5L621.0 137.5L622.0 136.8L623.0 136.1L624.0 135.0L625.0 134.0L626.0 135.5L627.0 135.9L628.0 137.5L629.0 138.8L630.0 139.4L631.0 140.5L632.0 141.2L633.0 140.4L634.0 140.8L635.0 140.8L636.0 142.3L637.0 142.8L638.0 142.6L639.0 142.4L640.0 142.9L641.0 143.5L642.0 143.5L643.0 143.3L644.0 142.9L645.0 143.0L646.0 143.3L647.0 143.2L648.0 143.5L649.0 143.9L650.0 143.8L651.0 144.4L652.0 142.9L653.0 143.6L654.0 142.6L655.0 142.6L656.0 143.6L657.0 143.1L658.0 142.9L659.0 143.1L660.0 141.9L661.0 141.6L662.0 141.5L663.0 142.7L664.0 143.5L665.0 144.0L666.0 144.9L667.0 145.3L668.0 144.9L669.0 145.1L670.0 145.6L671.0 145.1L672.0 146.1L673.0 145.6L674.0 145.6L675.0 145.5L676.0 145.6L677.0 146.9L678.0 146.1L679.0 147.6L680.0 146.3L681.0 147.7L682.0 146.7L683.0 147.4" stroke="#3dbb7e"/><g fill="#3dbb7e" stroke="none"><circle cx="359.8" cy="98.0" r="2.9"/><circle cx="362.1" cy="101.5" r="2.9"/><circle cx="363.8" cy="99.7" r="2.8"/><circle cx="364.7" cy="99.9" r="3.1"/><circle cx="365.5" cy="97.9" r="2.3"/><circle cx="367.5" cy="95.4" r="2.4"/><circle cx="368.0" cy="97.6" r="2.3"/><circle cx="369.2" cy="91.5" r="2.4"/><circle cx="370.0" cy="92.9" r="2.8"/><circle cx="371.0" cy="88.3" r="3.1"/><circle cx="371.3" cy="91.0" r="2.5"/><circle cx="375.4" cy="83.0" r="3.0"/><circle cx="376.5" cy="84.4" r="2.6"/><circle cx="377.3" cy="87.2" r="3.0"/><circle cx="377.8" cy="88.1" r="2.3"/><circle cx="378.5" cy="90.3" r="3.0"/><circle cx="382.8" cy="98.6" r="2.5"/><circle cx="385.9" cy="106.6" r="2.9"/><circle cx="388.9" cy="107.7" r="2.8"/><circle cx="389.9" cy="107.6" r="2.9"/><circle cx="390.8" cy="108.9" r="2.4"/><circle cx="392.4" cy="105.6" r="3.0"/><circle cx="393.1" cy="107.2" r="2.8"/><circle cx="394.3" cy="110.2" r="2.6"/><circle cx="394.8" cy="111.7" r="2.7"/><circle cx="396.1" cy="111.2" r="2.4"/><circle cx="397.7" cy="110.0" r="2.8"/><circle cx="399.0" cy="110.6" r="3.1"/><circle cx="399.4" cy="110.4" r="2.8"/><circle cx="401.8" cy="113.2" r="3.0"/><circle cx="402.1" cy="109.9" r="2.3"/><circle cx="403.5" cy="111.4" r="2.7"/><circle cx="404.4" cy="111.4" r="3.1"/><circle cx="405.4" cy="110.0" r="2.4"/><circle cx="406.0" cy="110.3" r="2.8"/><circle cx="409.0" cy="110.2" r="3.1"/><circle cx="409.3" cy="111.3" r="2.3"/><circle cx="410.0" cy="113.7" r="3.0"/><circle cx="415.1" cy="105.7" r="2.4"/><circle cx="417.5" cy="101.0" r="2.4"/><circle cx="418.5" cy="100.1" r="2.4"/><circle cx="419.0" cy="99.8" r="2.8"/><circle cx="421.5" cy="97.1" r="2.3"/><circle cx="421.8" cy="98.0" r="3.0"/><circle cx="423.3" cy="92.7" r="2.4"/><circle cx="425.8" cy="96.7" r="2.7"/><circle cx="426.2" cy="102.9" r="2.5"/><circle cx="428.3" cy="106.6" r="2.5"/><circle cx="429.6" cy="108.6" r="2.5"/><circle cx="430.5" cy="108.5" r="2.6"/><circle cx="430.7" cy="110.6" r="3.1"/><circle cx="433.6" cy="112.5" r="2.5"/><circle cx="435.1" cy="115.6" r="3.1"/><circle cx="436.7" cy="116.4" r="2.3"/><circle cx="437.0" cy="121.1" r="3.1"/><circle cx="439.2" cy="119.4" r="3.0"/><circle cx="440.4" cy="120.1" r="2.6"/><circle cx="441.2" cy="119.4" r="2.4"/><circle cx="442.5" cy="120.2" r="2.4"/><circle cx="444.8" cy="120.8" r="2.8"/><circle cx="446.1" cy="121.8" r="2.5"/><circle cx="448.1" cy="120.3" r="2.9"/><circle cx="451.2" cy="118.6" r="2.3"/><circle cx="452.1" cy="119.0" r="2.4"/><circle cx="452.6" cy="116.4" r="2.4"/><circle cx="453.6" cy="118.2" r="2.7"/><circle cx="454.8" cy="115.3" r="2.9"/><circle cx="455.9" cy="113.6" r="2.9"/><circle cx="459.0" cy="116.9" r="2.7"/><circle cx="459.6" cy="123.9" r="2.5"/><circle cx="461.1" cy="121.1" r="2.5"/><circle cx="461.3" cy="123.2" r="2.5"/><circle cx="462.6" cy="123.2" r="2.8"/><circle cx="464.1" cy="124.8" r="2.3"/><circle cx="465.1" cy="121.8" r="2.7"/><circle cx="466.5" cy="123.0" r="2.8"/><circle cx="467.3" cy="124.4" r="2.8"/><circle cx="467.9" cy="125.8" r="2.6"/><circle cx="470.2" cy="121.2" r="2.6"/><circle cx="472.0" cy="124.9" r="2.6"/><circle cx="476.5" cy="127.1" r="2.7"/><circle cx="477.9" cy="124.1" r="2.6"/><circle cx="478.8" cy="127.3" r="2.6"/><circle cx="480.0" cy="129.1" r="2.9"/><circle cx="484.0" cy="130.5" r="2.8"/><circle cx="485.8" cy="124.3" r="2.8"/><circle cx="487.3" cy="127.0" r="2.6"/><circle cx="487.9" cy="127.3" r="2.4"/><circle cx="489.6" cy="130.5" r="2.5"/><circle cx="490.3" cy="129.0" r="2.4"/><circle cx="491.2" cy="129.3" r="2.5"/><circle cx="492.4" cy="125.8" r="2.8"/><circle cx="494.1" cy="128.0" r="2.9"/><circle cx="494.8" cy="127.6" r="2.5"/><circle cx="495.8" cy="127.8" r="2.7"/><circle cx="496.6" cy="130.5" r="3.0"/><circle cx="497.5" cy="129.2" r="2.7"/><circle cx="499.8" cy="129.4" r="2.4"/><circle cx="500.3" cy="128.3" r="2.3"/><circle cx="501.7" cy="129.0" r="2.5"/><circle cx="503.0" cy="128.1" r="2.6"/><circle cx="507.6" cy="128.8" r="2.9"/><circle cx="510.8" cy="127.1" r="3.0"/><circle cx="512.9" cy="125.8" r="2.8"/><circle cx="516.6" cy="130.4" r="2.7"/><circle cx="518.3" cy="129.2" r="2.6"/><circle cx="520.8" cy="132.5" r="2.7"/><circle cx="521.7" cy="132.6" r="2.8"/><circle cx="524.1" cy="133.4" r="3.0"/><circle cx="525.2" cy="129.1" r="2.3"/><circle cx="526.8" cy="133.8" r="2.7"/><circle cx="528.4" cy="134.5" r="2.7"/><circle cx="529.3" cy="132.8" r="2.6"/><circle cx="529.8" cy="135.2" r="2.7"/><circle cx="531.0" cy="132.5" r="2.6"/><circle cx="531.9" cy="136.3" r="2.7"/><circle cx="534.9" cy="131.3" r="2.7"/><circle cx="535.5" cy="132.5" r="3.0"/><circle cx="536.6" cy="138.4" r="3.0"/><circle cx="540.0" cy="136.0" r="2.7"/><circle cx="541.0" cy="136.5" r="2.4"/><circle cx="542.6" cy="138.1" r="2.3"/><circle cx="544.1" cy="136.2" r="2.9"/><circle cx="545.2" cy="137.6" r="2.8"/><circle cx="546.1" cy="134.8" r="2.7"/><circle cx="547.8" cy="138.7" r="2.6"/><circle cx="548.7" cy="136.7" r="2.9"/><circle cx="550.0" cy="137.7" r="3.0"/><circle cx="551.9" cy="138.5" r="2.3"/><circle cx="552.4" cy="136.6" r="2.4"/><circle cx="553.6" cy="135.6" r="3.0"/><circle cx="554.7" cy="135.6" r="2.3"/><circle cx="555.3" cy="137.6" r="3.1"/><circle cx="557.0" cy="140.7" r="3.0"/><circle cx="560.2" cy="138.5" r="2.8"/><circle cx="560.9" cy="138.7" r="2.6"/><circle cx="561.9" cy="137.3" r="2.5"/><circle cx="562.4" cy="138.0" r="2.4"/><circle cx="563.2" cy="136.7" r="3.1"/><circle cx="564.2" cy="139.3" r="2.6"/><circle cx="565.5" cy="139.2" r="2.4"/><circle cx="565.9" cy="138.0" r="2.5"/><circle cx="566.9" cy="139.1" r="2.8"/><circle cx="568.2" cy="137.9" r="2.5"/><circle cx="569.1" cy="137.5" r="2.7"/><circle cx="571.0" cy="136.9" r="2.6"/><circle cx="571.5" cy="140.4" r="3.1"/><circle cx="572.2" cy="137.7" r="2.9"/><circle cx="574.0" cy="138.9" r="2.6"/><circle cx="576.0" cy="139.4" r="2.7"/><circle cx="576.8" cy="138.4" r="2.9"/><circle cx="578.4" cy="138.5" r="2.4"/><circle cx="580.2" cy="140.7" r="2.8"/><circle cx="581.1" cy="138.1" r="2.5"/><circle cx="582.0" cy="140.8" r="2.5"/><circle cx="584.4" cy="136.8" r="2.9"/><circle cx="585.5" cy="141.7" r="2.5"/><circle cx="588.4" cy="138.0" r="2.9"/><circle cx="590.1" cy="141.3" r="2.8"/><circle cx="590.9" cy="142.4" r="2.9"/><circle cx="592.0" cy="139.1" r="2.4"/><circle cx="593.2" cy="140.2" r="2.5"/><circle cx="594.1" cy="141.0" r="3.0"/><circle cx="595.4" cy="138.8" r="2.6"/><circle cx="598.8" cy="142.3" r="2.3"/><circle cx="600.1" cy="141.6" r="2.9"/><circle cx="602.9" cy="142.2" r="2.9"/><circle cx="606.0" cy="144.5" r="2.6"/><circle cx="610.4" cy="143.1" r="2.3"/><circle cx="611.3" cy="137.4" r="2.4"/><circle cx="612.2" cy="140.5" r="2.9"/><circle cx="612.9" cy="136.7" r="2.8"/><circle cx="613.7" cy="139.3" r="2.3"/><circle cx="614.9" cy="140.7" r="2.4"/><circle cx="616.5" cy="141.3" r="2.5"/><circle cx="617.7" cy="141.2" r="2.5"/><circle cx="618.2" cy="139.0" r="2.8"/><circle cx="620.2" cy="138.3" r="2.8"/><circle cx="621.3" cy="136.6" r="2.9"/><circle cx="621.5" cy="136.4" r="2.5"/><circle cx="623.0" cy="137.3" r="2.5"/><circle cx="623.6" cy="136.2" r="2.7"/><circle cx="624.2" cy="135.2" r="2.4"/><circle cx="627.0" cy="135.8" r="2.8"/><circle cx="628.0" cy="133.5" r="2.6"/><circle cx="629.2" cy="142.1" r="2.8"/><circle cx="631.5" cy="140.9" r="2.5"/><circle cx="632.4" cy="141.4" r="2.5"/><circle cx="636.6" cy="139.0" r="2.9"/><circle cx="638.0" cy="143.6" r="2.6"/><circle cx="639.3" cy="145.3" r="2.6"/><circle cx="640.2" cy="144.8" r="2.8"/><circle cx="643.2" cy="143.7" r="2.7"/><circle cx="644.1" cy="142.7" r="2.9"/><circle cx="645.0" cy="143.1" r="3.1"/><circle cx="645.8" cy="142.5" r="2.9"/><circle cx="649.9" cy="144.2" r="2.5"/><circle cx="650.8" cy="142.5" r="2.7"/><circle cx="653.4" cy="144.1" r="2.5"/><circle cx="654.2" cy="142.7" r="2.4"/><circle cx="655.5" cy="144.0" r="3.1"/><circle cx="660.7" cy="140.8" r="2.5"/><circle cx="662.2" cy="140.6" r="2.8"/><circle cx="663.4" cy="143.3" r="2.5"/><circle cx="664.3" cy="143.3" r="2.4"/><circle cx="665.2" cy="142.5" r="2.7"/><circle cx="665.7" cy="143.4" r="2.4"/><circle cx="667.5" cy="147.2" r="2.5"/><circle cx="668.7" cy="147.1" r="2.5"/><circle cx="669.6" cy="145.8" r="2.4"/><circle cx="670.4" cy="147.7" r="2.4"/><circle cx="671.6" cy="142.9" r="2.7"/><circle cx="673.4" cy="147.2" r="3.1"/><circle cx="674.5" cy="146.9" r="2.4"/><circle cx="674.7" cy="144.9" r="2.9"/><circle cx="676.9" cy="146.7" r="2.3"/><circle cx="677.9" cy="148.2" r="2.5"/><circle cx="678.7" cy="148.4" r="3.0"/><circle cx="681.2" cy="145.8" r="2.9"/></g>
</g>
<g clip-path="url(#c1)" fill="none" stroke-linejoin="round" stroke-linecap="round" stroke-width="5.2">
<path d="M360.0 192.0L361.0 192.3L362.0 192.5L363.0 191.9L364.0 192.3L365.0 192.5L366.0 192.5L367.0 192.5L368.0 192.1L369.0 191.2L370.0 191.5L371.0 191.2L372.0 190.3L373.0 190.3L374.0 190.2L375.0 189.5L376.0 189.9L377.0 191.5L378.0 192.1L379.0 192.5L380.0 193.5L381.0 193.9L382.0 194.8L383.0 195.9L384.0 196.4L385.0 197.0L386.0 196.9L387.0 197.1L388.0 197.4L389.0 198.4L390.0 198.0L391.0 198.7L392.0 198.7L393.0 199.3L394.0 199.3L395.0 199.7L396.0 199.6L397.0 200.5L398.0 200.4L399.0 200.8L400.0 201.2L401.0 201.5L402.0 200.8L403.0 201.4L404.0 201.4L405.0 202.0L406.0 202.2L407.0 202.8L408.0 202.9L409.0 202.3L410.0 202.7L411.0 203.5L412.0 203.6L413.0 203.5L414.0 203.8L415.0 204.0L416.0 203.7L417.0 204.3L418.0 203.9L419.0 204.4L420.0 204.0L421.0 203.9L422.0 203.2L423.0 203.5L424.0 204.0L425.0 204.5L426.0 205.5L427.0 206.3L428.0 206.3L429.0 206.2L430.0 207.0L431.0 206.9L432.0 207.4L433.0 207.7L434.0 208.1L435.0 208.1L436.0 208.4L437.0 208.3L438.0 209.1L439.0 209.1L440.0 209.5L441.0 209.3L442.0 210.0L443.0 210.7L444.0 210.0L445.0 210.4L446.0 211.2L447.0 211.0L448.0 211.3L449.0 211.8L450.0 212.0L451.0 211.7L452.0 211.9L453.0 211.8L454.0 212.1L455.0 212.1L456.0 211.5L457.0 211.3L458.0 212.1L459.0 212.6L460.0 213.0L461.0 213.2L462.0 213.3L463.0 213.6L464.0 213.6L465.0 214.0L466.0 214.0L467.0 214.7L468.0 215.0L469.0 215.2L470.0 215.2L471.0 215.0L472.0 215.7L473.0 215.8L474.0 215.8L475.0 216.0L476.0 216.4L477.0 216.5L478.0 217.0L479.0 217.1L480.0 217.5L481.0 217.2L482.0 217.7L483.0 217.9L484.0 218.7L485.0 218.4L486.0 218.4L487.0 218.5L488.0 218.7L489.0 219.0L490.0 219.3L491.0 219.1L492.0 219.0L493.0 220.0L494.0 219.7L495.0 219.8L496.0 220.1L497.0 219.9L498.0 219.9L499.0 219.9L500.0 220.5L501.0 220.4L502.0 220.4L503.0 220.9L504.0 220.8L505.0 221.2L506.0 220.6L507.0 221.3L508.0 221.0L509.0 220.5L510.0 221.0L511.0 220.8L512.0 221.3L513.0 221.9L514.0 221.4L515.0 221.9L516.0 221.7L517.0 222.3L518.0 221.6L519.0 222.2L520.0 222.3L521.0 222.8L522.0 222.3L523.0 222.4L524.0 222.3L525.0 222.6L526.0 222.8L527.0 223.3L528.0 223.0L529.0 223.3L530.0 223.5L531.0 223.4L532.0 224.0L533.0 224.4L534.0 224.4L535.0 224.1L536.0 224.8L537.0 225.2L538.0 225.0L539.0 224.7L540.0 225.3L541.0 225.8L542.0 226.0L543.0 225.6L544.0 225.5L545.0 225.7L546.0 226.2L547.0 226.7L548.0 226.6L549.0 227.1L550.0 226.8L551.0 226.5L552.0 226.7L553.0 227.1L554.0 227.0L555.0 226.8L556.0 227.1L557.0 226.8L558.0 226.5L559.0 226.9L560.0 227.0L561.0 226.7L562.0 227.4L563.0 227.3L564.0 227.6L565.0 227.8L566.0 227.7L567.0 228.0L568.0 227.7L569.0 228.8L570.0 228.5L571.0 228.9L572.0 229.6L573.0 229.0L574.0 229.8L575.0 230.0L576.0 229.6L577.0 228.6L578.0 227.8L579.0 227.3L580.0 227.0L581.0 226.0L582.0 226.0L583.0 224.7L584.0 224.5L585.0 225.7L586.0 226.2L587.0 227.2L588.0 228.0L589.0 229.0L590.0 229.8L591.0 230.8L592.0 231.5L593.0 231.6L594.0 231.3L595.0 231.7L596.0 231.3L597.0 231.7L598.0 231.8L599.0 231.8L600.0 231.5L601.0 231.4L602.0 231.9L603.0 232.1L604.0 231.7L605.0 231.5L606.0 231.8L607.0 232.3L608.0 231.5L609.0 231.5L610.0 232.0L611.0 232.0L612.0 232.3L613.0 232.4L614.0 232.1L615.0 232.7L616.0 232.0L617.0 232.6L618.0 232.0L619.0 232.0L620.0 232.5L621.0 232.1L622.0 232.1L623.0 232.5L624.0 232.6L625.0 232.2L626.0 232.9L627.0 232.4L628.0 232.1L629.0 232.2L630.0 232.5L631.0 232.4L632.0 232.3L633.0 231.3L634.0 230.8L635.0 231.0L636.0 230.8L637.0 229.7L638.0 229.5L639.0 229.0L640.0 227.5L641.0 226.5L642.0 225.0L643.0 223.1L643.5 222.5L644.0 222.1L645.0 220.5L646.0 219.2L647.0 220.3L648.0 222.2L648.5 222.5L649.0 222.7L650.0 224.7L651.0 225.7L652.0 226.1L653.0 227.6L654.0 228.2L655.0 229.5L656.0 230.0L657.0 229.9L658.0 230.8L659.0 231.1L660.0 232.0L661.0 232.4L662.0 232.5L663.0 232.4L664.0 232.9L665.0 233.5L666.0 233.5L667.0 233.9L668.0 234.0L669.0 234.2L670.0 235.0L671.0 235.1L672.0 235.0L673.0 236.0L674.0 235.5L675.0 236.0L676.0 236.4L677.0 236.2L678.0 237.2L679.0 237.5L680.0 237.2L681.0 238.0L682.0 238.3L683.0 238.3" stroke="#a22ab9"/><g fill="#a22ab9" stroke="none"><circle cx="359.7" cy="191.6" r="2.7"/><circle cx="361.9" cy="192.8" r="2.4"/><circle cx="363.9" cy="192.8" r="2.6"/><circle cx="364.9" cy="192.0" r="2.7"/><circle cx="365.0" cy="192.7" r="2.8"/><circle cx="366.9" cy="192.1" r="2.6"/><circle cx="368.4" cy="191.8" r="2.3"/><circle cx="371.9" cy="190.6" r="2.3"/><circle cx="373.2" cy="189.6" r="2.4"/><circle cx="374.3" cy="189.7" r="2.8"/><circle cx="375.9" cy="190.1" r="2.4"/><circle cx="378.0" cy="191.9" r="2.6"/><circle cx="378.8" cy="192.2" r="2.7"/><circle cx="380.1" cy="193.9" r="2.8"/><circle cx="381.2" cy="194.8" r="2.1"/><circle cx="382.5" cy="195.7" r="2.4"/><circle cx="383.4" cy="196.9" r="2.6"/><circle cx="384.7" cy="196.6" r="2.6"/><circle cx="386.9" cy="197.3" r="2.8"/><circle cx="387.6" cy="198.4" r="2.4"/><circle cx="389.8" cy="197.1" r="2.3"/><circle cx="390.4" cy="197.6" r="2.3"/><circle cx="391.1" cy="199.4" r="2.7"/><circle cx="393.3" cy="198.3" r="2.6"/><circle cx="394.5" cy="199.5" r="2.6"/><circle cx="395.5" cy="199.7" r="2.5"/><circle cx="396.2" cy="199.2" r="2.4"/><circle cx="397.0" cy="199.4" r="2.5"/><circle cx="398.8" cy="200.0" r="2.3"/><circle cx="399.6" cy="200.2" r="2.7"/><circle cx="401.7" cy="200.7" r="2.2"/><circle cx="402.3" cy="201.4" r="2.5"/><circle cx="404.2" cy="202.4" r="2.4"/><circle cx="408.0" cy="203.6" r="2.4"/><circle cx="409.4" cy="203.2" r="2.2"/><circle cx="411.0" cy="203.7" r="2.4"/><circle cx="412.2" cy="204.4" r="2.4"/><circle cx="414.8" cy="204.0" r="2.6"/><circle cx="415.7" cy="204.0" r="2.3"/><circle cx="416.8" cy="204.6" r="2.2"/><circle cx="417.5" cy="204.4" r="2.3"/><circle cx="418.2" cy="204.9" r="2.7"/><circle cx="421.1" cy="202.8" r="2.5"/><circle cx="422.0" cy="204.2" r="2.4"/><circle cx="423.8" cy="203.3" r="2.7"/><circle cx="425.1" cy="205.2" r="2.5"/><circle cx="425.8" cy="206.3" r="2.4"/><circle cx="426.8" cy="205.5" r="2.1"/><circle cx="427.7" cy="205.3" r="2.7"/><circle cx="428.4" cy="206.3" r="2.5"/><circle cx="429.6" cy="207.1" r="2.4"/><circle cx="430.2" cy="206.5" r="2.4"/><circle cx="434.0" cy="208.9" r="2.5"/><circle cx="435.3" cy="208.6" r="2.3"/><circle cx="437.0" cy="209.8" r="2.5"/><circle cx="440.3" cy="210.1" r="2.1"/><circle cx="441.3" cy="207.8" r="2.7"/><circle cx="441.9" cy="208.8" r="2.3"/><circle cx="442.7" cy="210.7" r="2.3"/><circle cx="443.7" cy="210.4" r="2.7"/><circle cx="444.9" cy="210.5" r="2.3"/><circle cx="446.9" cy="211.4" r="2.2"/><circle cx="448.3" cy="211.0" r="2.4"/><circle cx="448.9" cy="212.3" r="2.7"/><circle cx="450.8" cy="212.5" r="2.5"/><circle cx="451.6" cy="212.0" r="2.3"/><circle cx="453.6" cy="211.4" r="2.5"/><circle cx="455.0" cy="210.4" r="2.7"/><circle cx="456.0" cy="211.5" r="2.7"/><circle cx="457.5" cy="211.7" r="2.2"/><circle cx="458.2" cy="212.3" r="2.6"/><circle cx="459.3" cy="211.6" r="2.2"/><circle cx="459.6" cy="213.0" r="2.2"/><circle cx="462.4" cy="213.1" r="2.6"/><circle cx="465.6" cy="215.0" r="2.1"/><circle cx="466.3" cy="214.6" r="2.3"/><circle cx="467.0" cy="214.1" r="2.7"/><circle cx="469.3" cy="214.6" r="2.7"/><circle cx="469.6" cy="215.6" r="2.5"/><circle cx="470.7" cy="215.3" r="2.2"/><circle cx="472.2" cy="215.4" r="2.7"/><circle cx="476.0" cy="216.0" r="2.3"/><circle cx="478.2" cy="217.1" r="2.4"/><circle cx="478.5" cy="217.0" r="2.5"/><circle cx="479.5" cy="217.2" r="2.7"/><circle cx="481.9" cy="219.1" r="2.5"/><circle cx="482.3" cy="218.8" r="2.1"/><circle cx="483.5" cy="217.8" r="2.3"/><circle cx="484.2" cy="218.4" r="2.1"/><circle cx="485.3" cy="217.9" r="2.5"/><circle cx="485.7" cy="218.4" r="2.5"/><circle cx="487.7" cy="218.9" r="2.5"/><circle cx="489.1" cy="218.9" r="2.2"/><circle cx="489.9" cy="218.9" r="2.7"/><circle cx="490.2" cy="219.5" r="2.7"/><circle cx="491.1" cy="219.7" r="2.5"/><circle cx="492.2" cy="220.0" r="2.5"/><circle cx="493.0" cy="220.4" r="2.4"/><circle cx="494.4" cy="219.9" r="2.5"/><circle cx="495.0" cy="221.2" r="2.8"/><circle cx="496.5" cy="219.9" r="2.6"/><circle cx="497.6" cy="219.8" r="2.1"/><circle cx="498.7" cy="220.0" r="2.2"/><circle cx="499.7" cy="221.8" r="2.5"/><circle cx="500.9" cy="220.6" r="2.8"/><circle cx="504.9" cy="221.6" r="2.7"/><circle cx="506.4" cy="221.5" r="2.4"/><circle cx="507.7" cy="220.6" r="2.6"/><circle cx="508.3" cy="220.7" r="2.2"/><circle cx="509.8" cy="221.3" r="2.8"/><circle cx="511.4" cy="220.0" r="2.7"/><circle cx="513.3" cy="221.4" r="2.5"/><circle cx="515.2" cy="221.5" r="2.2"/><circle cx="517.8" cy="221.4" r="2.7"/><circle cx="522.3" cy="221.4" r="2.6"/><circle cx="522.9" cy="223.1" r="2.8"/><circle cx="525.0" cy="224.0" r="2.3"/><circle cx="525.6" cy="222.7" r="2.2"/><circle cx="526.7" cy="221.7" r="2.6"/><circle cx="527.6" cy="223.3" r="2.6"/><circle cx="530.9" cy="224.5" r="2.7"/><circle cx="532.1" cy="224.3" r="2.7"/><circle cx="533.0" cy="223.9" r="2.2"/><circle cx="533.7" cy="224.2" r="2.5"/><circle cx="534.7" cy="224.5" r="2.7"/><circle cx="535.3" cy="225.1" r="2.2"/><circle cx="537.4" cy="224.2" r="2.2"/><circle cx="537.9" cy="224.0" r="2.7"/><circle cx="539.4" cy="225.7" r="2.3"/><circle cx="542.2" cy="225.4" r="2.4"/><circle cx="542.4" cy="226.1" r="2.7"/><circle cx="543.3" cy="225.8" r="2.1"/><circle cx="545.1" cy="226.3" r="2.3"/><circle cx="546.3" cy="225.8" r="2.7"/><circle cx="546.9" cy="227.6" r="2.6"/><circle cx="548.9" cy="226.1" r="2.8"/><circle cx="551.7" cy="225.9" r="2.7"/><circle cx="552.2" cy="226.7" r="2.8"/><circle cx="555.5" cy="225.9" r="2.7"/><circle cx="556.8" cy="227.3" r="2.3"/><circle cx="559.7" cy="226.3" r="2.1"/><circle cx="562.3" cy="226.9" r="2.6"/><circle cx="563.6" cy="225.9" r="2.6"/><circle cx="565.4" cy="228.6" r="2.8"/><circle cx="567.2" cy="228.5" r="2.7"/><circle cx="567.9" cy="228.9" r="2.2"/><circle cx="569.3" cy="228.4" r="2.3"/><circle cx="571.0" cy="228.3" r="2.4"/><circle cx="572.3" cy="228.7" r="2.2"/><circle cx="573.1" cy="230.9" r="2.2"/><circle cx="574.0" cy="228.5" r="2.3"/><circle cx="576.1" cy="230.5" r="2.7"/><circle cx="577.8" cy="229.0" r="2.4"/><circle cx="580.8" cy="227.6" r="2.4"/><circle cx="581.6" cy="225.9" r="2.3"/><circle cx="582.4" cy="226.5" r="2.7"/><circle cx="582.9" cy="225.5" r="2.3"/><circle cx="584.2" cy="224.4" r="2.6"/><circle cx="585.1" cy="225.5" r="2.3"/><circle cx="589.7" cy="229.0" r="2.8"/><circle cx="590.1" cy="229.2" r="2.3"/><circle cx="592.3" cy="232.2" r="2.5"/><circle cx="594.0" cy="231.4" r="2.4"/><circle cx="596.8" cy="231.7" r="2.4"/><circle cx="597.3" cy="232.1" r="2.7"/><circle cx="600.6" cy="230.6" r="2.7"/><circle cx="604.6" cy="231.5" r="2.5"/><circle cx="606.0" cy="230.8" r="2.5"/><circle cx="606.7" cy="231.9" r="2.2"/><circle cx="609.0" cy="232.4" r="2.6"/><circle cx="610.9" cy="233.0" r="2.2"/><circle cx="612.0" cy="232.1" r="2.4"/><circle cx="613.9" cy="232.3" r="2.3"/><circle cx="614.8" cy="232.0" r="2.3"/><circle cx="615.8" cy="232.4" r="2.7"/><circle cx="616.7" cy="231.9" r="2.1"/><circle cx="617.5" cy="231.7" r="2.1"/><circle cx="619.2" cy="232.4" r="2.4"/><circle cx="620.3" cy="232.7" r="2.8"/><circle cx="621.6" cy="233.8" r="2.8"/><circle cx="623.0" cy="233.0" r="2.6"/><circle cx="623.5" cy="233.0" r="2.3"/><circle cx="624.6" cy="232.4" r="2.6"/><circle cx="625.7" cy="232.9" r="2.2"/><circle cx="626.8" cy="232.4" r="2.6"/><circle cx="631.4" cy="232.8" r="2.2"/><circle cx="635.8" cy="230.6" r="2.5"/><circle cx="636.0" cy="230.7" r="2.1"/><circle cx="636.9" cy="230.8" r="2.4"/><circle cx="638.3" cy="228.7" r="2.2"/><circle cx="639.0" cy="229.9" r="2.7"/><circle cx="640.9" cy="226.6" r="2.2"/><circle cx="642.0" cy="225.5" r="2.1"/><circle cx="645.2" cy="220.6" r="2.6"/><circle cx="647.9" cy="222.3" r="2.5"/><circle cx="649.1" cy="223.0" r="2.7"/><circle cx="649.5" cy="225.5" r="2.5"/><circle cx="651.0" cy="225.7" r="2.5"/><circle cx="651.9" cy="225.9" r="2.3"/><circle cx="652.6" cy="226.7" r="2.2"/><circle cx="653.5" cy="228.0" r="2.5"/><circle cx="655.4" cy="230.0" r="2.1"/><circle cx="656.3" cy="229.4" r="2.6"/><circle cx="657.2" cy="230.5" r="2.6"/><circle cx="657.6" cy="231.6" r="2.5"/><circle cx="658.6" cy="232.2" r="2.8"/><circle cx="659.9" cy="231.7" r="2.5"/><circle cx="661.0" cy="230.6" r="2.2"/><circle cx="662.2" cy="232.9" r="2.8"/><circle cx="666.5" cy="234.1" r="2.2"/><circle cx="668.9" cy="235.4" r="2.2"/><circle cx="669.3" cy="234.5" r="2.5"/><circle cx="673.2" cy="236.0" r="2.7"/><circle cx="674.7" cy="235.3" r="2.7"/><circle cx="675.5" cy="235.7" r="2.4"/><circle cx="677.9" cy="236.6" r="2.7"/><circle cx="678.5" cy="237.7" r="2.2"/><circle cx="679.5" cy="237.9" r="2.8"/><circle cx="680.7" cy="238.4" r="2.7"/><circle cx="681.1" cy="238.4" r="2.4"/></g>
<path d="M360.0 186.7L361.0 186.1L362.0 186.3L363.0 186.4L364.0 185.9L365.0 185.4L366.0 183.4L367.0 182.0L368.0 180.6L369.0 179.7L370.0 178.0L371.0 176.1L372.0 174.0L372.5 173.0L373.0 172.2L374.0 170.7L375.0 169.4L375.5 168.5L376.0 169.5L377.0 171.6L378.0 173.0L379.0 176.5L380.0 179.5L381.0 181.7L382.0 183.7L383.0 185.5L384.0 187.3L385.0 189.0L386.0 189.9L387.0 192.0L388.0 193.5L389.0 194.5L390.0 196.0L391.0 197.0L392.0 197.0L393.0 198.4L394.0 198.5L395.0 199.5L396.0 199.7L397.0 200.4L398.0 201.0L399.0 201.7L400.0 202.5L401.0 202.5L402.0 203.3L403.0 204.3L404.0 204.5L405.0 205.2L406.0 205.5L407.0 206.0L408.0 206.6L409.0 206.8L410.0 207.0L411.0 206.4L412.0 206.1L413.0 205.9L414.0 205.2L415.0 205.1L416.0 205.4L417.0 204.7L418.0 203.9L419.0 202.1L420.0 201.0L421.0 200.4L422.0 199.6L423.0 198.5L424.0 200.1L425.0 201.1L426.0 202.0L427.0 203.5L428.0 204.6L429.0 206.8L430.0 208.0L431.0 208.1L432.0 208.7L433.0 208.7L434.0 209.2L435.0 209.9L436.0 209.3L437.0 210.0L438.0 210.4L439.0 210.6L440.0 210.8L441.0 211.5L442.0 211.1L443.0 211.9L444.0 211.8L445.0 212.3L446.0 211.7L447.0 212.0L448.0 212.5L449.0 211.4L450.0 211.2L451.0 209.4L452.0 209.0L453.0 207.6L454.0 207.0L455.0 206.1L456.0 204.5L457.0 205.5L458.0 207.1L459.0 208.5L460.0 209.8L461.0 210.8L462.0 210.7L463.0 210.5L464.0 210.0L465.0 210.3L466.0 209.7L467.0 210.0L468.0 211.1L469.0 212.2L470.0 214.0L471.0 214.8L472.0 214.8L473.0 215.4L474.0 216.7L475.0 216.8L476.0 217.3L477.0 217.7L478.0 218.1L479.0 218.4L480.0 218.7L481.0 219.1L482.0 218.9L483.0 218.8L484.0 219.0L485.0 219.1L486.0 219.6L487.0 219.6L488.0 219.8L489.0 220.3L490.0 220.5L491.0 221.1L492.0 220.9L493.0 220.6L494.0 221.2L495.0 220.7L496.0 220.7L497.0 221.0L498.0 221.2L499.0 221.6L500.0 221.5L501.0 221.5L502.0 221.8L503.0 221.2L504.0 222.1L505.0 221.6L506.0 222.1L507.0 221.4L508.0 222.2L509.0 221.7L510.0 222.0L511.0 222.5L512.0 222.6L513.0 222.6L514.0 222.4L515.0 222.3L516.0 222.6L517.0 223.5L518.0 222.9L519.0 223.5L520.0 223.5L521.0 223.7L522.0 223.9L523.0 223.5L524.0 223.6L525.0 223.7L526.0 224.7L527.0 224.2L528.0 224.6L529.0 224.6L530.0 224.7L531.0 224.6L532.0 224.6L533.0 224.8L534.0 225.8L535.0 225.2L536.0 226.2L537.0 225.8L538.0 226.4L539.0 226.0L540.0 226.5L541.0 226.9L542.0 226.6L543.0 226.8L544.0 227.1L545.0 226.9L546.0 227.1L547.0 227.8L548.0 227.5L549.0 227.7L550.0 228.0L551.0 228.3L552.0 227.7L553.0 227.7L554.0 227.7L555.0 227.9L556.0 227.9L557.0 228.1L558.0 228.0L559.0 228.4L560.0 228.0L561.0 227.6L562.0 228.2L563.0 228.4L564.0 227.9L565.0 227.7L566.0 228.1L567.0 227.8L568.0 228.2L569.0 228.5L570.0 228.3L571.0 227.4L572.0 227.0L573.0 226.9L574.0 226.1L575.0 226.0L576.0 224.9L577.0 224.3L578.0 223.5L579.0 222.2L580.0 221.6L581.0 219.1L582.0 217.4L583.0 215.4L584.0 213.4L585.0 215.5L586.0 216.8L587.0 217.9L588.0 220.0L589.0 221.0L590.0 222.5L591.0 223.5L592.0 224.2L593.0 225.3L594.0 226.2L595.0 226.5L596.0 227.5L597.0 227.3L598.0 228.7L599.0 228.9L600.0 229.5L601.0 229.6L602.0 229.9L603.0 230.9L604.0 230.6L605.0 230.8L606.0 231.4L607.0 232.4L608.0 232.3L609.0 232.9L610.0 233.0L611.0 232.7L612.0 233.2L613.0 233.2L614.0 233.2L615.0 233.8L616.0 233.6L617.0 233.5L618.0 234.5L619.0 234.2L620.0 234.3L621.0 234.1L622.0 234.0L623.0 234.7L624.0 234.6L625.0 234.2L626.0 234.8L627.0 235.1L628.0 235.0L629.0 234.8L630.0 235.1L631.0 235.3L632.0 235.4L633.0 235.0L634.0 235.7L635.0 235.5L636.0 236.0L637.0 235.9L638.0 236.1L639.0 235.7L640.0 236.3L641.0 235.7L642.0 235.8L643.0 236.2L644.0 236.6L645.0 235.9L646.0 236.1L647.0 236.0L648.0 236.5L649.0 236.3L650.0 236.7L651.0 236.5L652.0 237.1L653.0 237.1L654.0 237.5L655.0 237.1L656.0 237.5L657.0 236.9L658.0 237.9L659.0 237.3L660.0 237.7L661.0 237.8L662.0 238.3L663.0 238.0L664.0 238.6L665.0 238.2L666.0 238.4L667.0 238.1L668.0 238.8L669.0 238.2L670.0 239.1L671.0 238.6L672.0 238.4L673.0 239.2L674.0 238.7L675.0 238.8L676.0 238.8L677.0 239.2L678.0 238.7L679.0 239.1L680.0 238.9L681.0 239.7L682.0 238.9L683.0 239.5" stroke="#3dbb7e"/><g fill="#3dbb7e" stroke="none"><circle cx="360.6" cy="185.7" r="2.6"/><circle cx="362.2" cy="186.5" r="2.2"/><circle cx="363.0" cy="186.5" r="2.5"/><circle cx="363.3" cy="186.4" r="2.3"/><circle cx="364.6" cy="184.9" r="2.7"/><circle cx="367.1" cy="182.3" r="2.8"/><circle cx="367.9" cy="181.1" r="2.1"/><circle cx="369.3" cy="179.3" r="2.8"/><circle cx="370.0" cy="176.9" r="2.7"/><circle cx="370.6" cy="176.2" r="2.2"/><circle cx="372.4" cy="173.3" r="2.8"/><circle cx="373.6" cy="170.2" r="2.7"/><circle cx="374.3" cy="170.0" r="2.3"/><circle cx="375.0" cy="168.3" r="2.6"/><circle cx="378.0" cy="172.5" r="2.1"/><circle cx="381.8" cy="181.5" r="2.8"/><circle cx="382.4" cy="182.8" r="2.2"/><circle cx="385.1" cy="190.0" r="2.6"/><circle cx="387.5" cy="193.1" r="2.3"/><circle cx="388.7" cy="194.8" r="2.4"/><circle cx="389.6" cy="194.2" r="2.5"/><circle cx="391.5" cy="196.2" r="2.2"/><circle cx="392.8" cy="197.4" r="2.4"/><circle cx="398.5" cy="201.3" r="2.6"/><circle cx="399.9" cy="202.6" r="2.7"/><circle cx="400.1" cy="201.9" r="2.2"/><circle cx="401.0" cy="203.1" r="2.1"/><circle cx="401.9" cy="203.0" r="2.6"/><circle cx="402.8" cy="203.8" r="2.8"/><circle cx="404.5" cy="205.4" r="2.8"/><circle cx="404.9" cy="204.3" r="2.3"/><circle cx="405.5" cy="205.8" r="2.3"/><circle cx="407.0" cy="205.7" r="2.5"/><circle cx="407.9" cy="206.2" r="2.7"/><circle cx="408.6" cy="206.0" r="2.8"/><circle cx="409.7" cy="206.8" r="2.2"/><circle cx="410.6" cy="206.8" r="2.7"/><circle cx="411.1" cy="206.1" r="2.5"/><circle cx="414.6" cy="206.2" r="2.5"/><circle cx="415.5" cy="205.6" r="2.5"/><circle cx="417.8" cy="203.9" r="2.5"/><circle cx="418.3" cy="203.5" r="2.6"/><circle cx="419.7" cy="201.1" r="2.5"/><circle cx="420.4" cy="200.0" r="2.3"/><circle cx="421.5" cy="200.3" r="2.6"/><circle cx="425.0" cy="201.0" r="2.3"/><circle cx="425.7" cy="201.4" r="2.1"/><circle cx="426.9" cy="202.7" r="2.8"/><circle cx="427.5" cy="204.4" r="2.5"/><circle cx="428.4" cy="205.9" r="2.6"/><circle cx="430.0" cy="208.6" r="2.4"/><circle cx="432.0" cy="208.8" r="2.3"/><circle cx="434.8" cy="207.9" r="2.8"/><circle cx="435.7" cy="210.1" r="2.4"/><circle cx="436.2" cy="211.6" r="2.7"/><circle cx="437.2" cy="210.5" r="2.5"/><circle cx="438.0" cy="210.3" r="2.4"/><circle cx="439.6" cy="209.5" r="2.2"/><circle cx="439.8" cy="210.6" r="2.2"/><circle cx="441.0" cy="212.1" r="2.2"/><circle cx="442.7" cy="211.9" r="2.4"/><circle cx="444.1" cy="212.6" r="2.3"/><circle cx="444.9" cy="211.7" r="2.7"/><circle cx="445.6" cy="213.0" r="2.8"/><circle cx="446.1" cy="211.2" r="2.6"/><circle cx="447.0" cy="212.6" r="2.8"/><circle cx="449.5" cy="211.5" r="2.4"/><circle cx="449.9" cy="211.2" r="2.7"/><circle cx="450.8" cy="209.9" r="2.2"/><circle cx="453.8" cy="206.6" r="2.1"/><circle cx="457.1" cy="206.8" r="2.3"/><circle cx="458.0" cy="206.3" r="2.3"/><circle cx="459.1" cy="208.7" r="2.4"/><circle cx="461.9" cy="212.0" r="2.7"/><circle cx="465.9" cy="209.6" r="2.7"/><circle cx="467.4" cy="209.6" r="2.3"/><circle cx="467.7" cy="212.0" r="2.7"/><circle cx="472.5" cy="214.4" r="2.7"/><circle cx="473.7" cy="215.3" r="2.6"/><circle cx="474.1" cy="217.4" r="2.3"/><circle cx="475.0" cy="216.8" r="2.7"/><circle cx="476.3" cy="217.3" r="2.1"/><circle cx="477.4" cy="216.9" r="2.7"/><circle cx="478.2" cy="218.1" r="2.5"/><circle cx="479.1" cy="219.1" r="2.3"/><circle cx="479.8" cy="218.0" r="2.2"/><circle cx="481.6" cy="218.3" r="2.7"/><circle cx="482.3" cy="219.2" r="2.4"/><circle cx="485.0" cy="219.8" r="2.5"/><circle cx="486.9" cy="219.9" r="2.2"/><circle cx="489.4" cy="220.6" r="2.7"/><circle cx="492.5" cy="221.8" r="2.4"/><circle cx="493.8" cy="220.7" r="2.6"/><circle cx="495.1" cy="221.6" r="2.5"/><circle cx="496.1" cy="223.9" r="2.5"/><circle cx="496.8" cy="220.4" r="2.7"/><circle cx="499.5" cy="221.8" r="2.1"/><circle cx="503.1" cy="221.5" r="2.8"/><circle cx="504.1" cy="220.9" r="2.4"/><circle cx="504.8" cy="220.9" r="2.3"/><circle cx="505.7" cy="221.5" r="2.1"/><circle cx="508.5" cy="222.0" r="2.3"/><circle cx="509.5" cy="220.8" r="2.2"/><circle cx="514.2" cy="221.7" r="2.7"/><circle cx="514.5" cy="223.4" r="2.2"/><circle cx="517.6" cy="222.9" r="2.4"/><circle cx="519.0" cy="223.4" r="2.2"/><circle cx="520.0" cy="223.0" r="2.5"/><circle cx="521.0" cy="223.7" r="2.2"/><circle cx="522.0" cy="224.0" r="2.2"/><circle cx="522.9" cy="224.6" r="2.8"/><circle cx="523.5" cy="223.8" r="2.5"/><circle cx="524.6" cy="225.0" r="2.8"/><circle cx="525.5" cy="224.6" r="2.4"/><circle cx="527.0" cy="225.1" r="2.5"/><circle cx="530.4" cy="225.8" r="2.5"/><circle cx="531.1" cy="224.4" r="2.5"/><circle cx="534.0" cy="225.6" r="2.4"/><circle cx="535.5" cy="225.4" r="2.8"/><circle cx="536.1" cy="225.3" r="2.2"/><circle cx="539.0" cy="226.0" r="2.4"/><circle cx="541.2" cy="227.3" r="2.5"/><circle cx="542.9" cy="226.6" r="2.5"/><circle cx="543.5" cy="227.6" r="2.4"/><circle cx="544.4" cy="227.9" r="2.3"/><circle cx="545.9" cy="227.0" r="2.6"/><circle cx="547.0" cy="228.7" r="2.2"/><circle cx="548.3" cy="228.1" r="2.3"/><circle cx="551.6" cy="228.2" r="2.7"/><circle cx="552.9" cy="227.9" r="2.6"/><circle cx="553.6" cy="229.1" r="2.6"/><circle cx="555.0" cy="228.7" r="2.1"/><circle cx="555.9" cy="227.8" r="2.2"/><circle cx="557.2" cy="227.1" r="2.5"/><circle cx="558.7" cy="228.7" r="2.4"/><circle cx="560.2" cy="227.9" r="2.8"/><circle cx="561.8" cy="228.2" r="2.3"/><circle cx="562.6" cy="228.4" r="2.5"/><circle cx="563.4" cy="227.0" r="2.5"/><circle cx="566.5" cy="228.6" r="2.4"/><circle cx="569.0" cy="228.5" r="2.4"/><circle cx="569.9" cy="228.6" r="2.7"/><circle cx="570.7" cy="229.2" r="2.4"/><circle cx="571.4" cy="227.7" r="2.6"/><circle cx="576.2" cy="224.8" r="2.7"/><circle cx="580.3" cy="220.9" r="2.6"/><circle cx="582.6" cy="217.4" r="2.3"/><circle cx="583.4" cy="214.5" r="2.8"/><circle cx="584.2" cy="213.6" r="2.7"/><circle cx="584.7" cy="214.2" r="2.8"/><circle cx="586.8" cy="218.0" r="2.7"/><circle cx="588.7" cy="221.1" r="2.6"/><circle cx="589.6" cy="220.8" r="2.3"/><circle cx="590.7" cy="222.9" r="2.4"/><circle cx="593.1" cy="223.9" r="2.6"/><circle cx="594.9" cy="225.9" r="2.8"/><circle cx="595.4" cy="227.0" r="2.6"/><circle cx="597.3" cy="227.7" r="2.6"/><circle cx="599.4" cy="229.1" r="2.1"/><circle cx="600.6" cy="230.8" r="2.7"/><circle cx="601.4" cy="229.2" r="2.6"/><circle cx="601.8" cy="230.4" r="2.8"/><circle cx="603.0" cy="230.7" r="2.2"/><circle cx="604.2" cy="230.6" r="2.2"/><circle cx="604.6" cy="231.3" r="2.7"/><circle cx="610.2" cy="232.5" r="2.7"/><circle cx="611.3" cy="234.2" r="2.6"/><circle cx="612.3" cy="232.7" r="2.4"/><circle cx="614.4" cy="233.3" r="2.4"/><circle cx="615.6" cy="233.0" r="2.4"/><circle cx="616.6" cy="233.3" r="2.6"/><circle cx="617.3" cy="234.6" r="2.7"/><circle cx="620.1" cy="232.8" r="2.4"/><circle cx="620.8" cy="233.5" r="2.1"/><circle cx="622.3" cy="234.3" r="2.5"/><circle cx="623.8" cy="235.5" r="2.8"/><circle cx="624.7" cy="235.3" r="2.4"/><circle cx="625.3" cy="234.0" r="2.8"/><circle cx="627.3" cy="235.7" r="2.2"/><circle cx="628.3" cy="235.0" r="2.7"/><circle cx="633.5" cy="236.0" r="2.8"/><circle cx="634.4" cy="235.7" r="2.1"/><circle cx="636.0" cy="235.7" r="2.2"/><circle cx="637.9" cy="235.7" r="2.8"/><circle cx="640.1" cy="235.1" r="2.4"/><circle cx="641.2" cy="237.5" r="2.7"/><circle cx="641.6" cy="236.0" r="2.2"/><circle cx="648.0" cy="236.0" r="2.6"/><circle cx="648.6" cy="237.0" r="2.2"/><circle cx="650.0" cy="236.4" r="2.5"/><circle cx="650.6" cy="235.9" r="2.5"/><circle cx="651.2" cy="236.8" r="2.1"/><circle cx="652.8" cy="237.0" r="2.3"/><circle cx="653.4" cy="238.1" r="2.2"/><circle cx="654.4" cy="236.6" r="2.3"/><circle cx="656.4" cy="238.3" r="2.5"/><circle cx="657.6" cy="237.7" r="2.3"/><circle cx="659.7" cy="237.8" r="2.3"/><circle cx="661.8" cy="238.2" r="2.3"/><circle cx="662.9" cy="238.5" r="2.2"/><circle cx="664.3" cy="238.7" r="2.2"/><circle cx="665.0" cy="237.4" r="2.5"/><circle cx="665.7" cy="238.2" r="2.5"/><circle cx="667.5" cy="237.4" r="2.6"/><circle cx="669.3" cy="238.6" r="2.2"/><circle cx="672.4" cy="239.4" r="2.3"/><circle cx="672.9" cy="238.0" r="2.4"/><circle cx="674.5" cy="239.4" r="2.5"/><circle cx="676.0" cy="238.2" r="2.2"/><circle cx="676.6" cy="239.0" r="2.7"/><circle cx="679.6" cy="239.7" r="2.2"/><circle cx="680.9" cy="240.0" r="2.8"/></g>
</g>
<g clip-path="url(#c2)" fill="none" stroke-linejoin="round" stroke-linecap="round" stroke-width="5.2">
<path d="M360.0 273.5L361.0 273.8L362.0 273.1L363.0 273.3L364.0 273.1L365.0 273.5L366.0 273.3L367.0 273.2L368.0 272.6L369.0 272.7L370.0 272.2L371.0 271.4L372.0 271.1L373.0 270.1L374.0 270.1L375.0 269.0L376.0 270.0L377.0 270.7L378.0 271.9L379.0 273.6L380.0 274.5L381.0 275.8L382.0 276.4L383.0 276.9L384.0 278.5L385.0 279.0L386.0 279.5L387.0 279.1L388.0 279.7L389.0 280.2L390.0 279.8L391.0 280.1L392.0 280.7L393.0 281.5L394.0 281.9L395.0 281.5L396.0 282.3L397.0 282.5L398.0 282.8L399.0 282.8L400.0 283.0L401.0 283.6L402.0 283.5L403.0 284.0L404.0 283.8L405.0 283.6L406.0 284.1L407.0 284.2L408.0 284.3L409.0 284.5L410.0 284.8L411.0 285.1L412.0 284.9L413.0 285.1L414.0 285.5L415.0 285.7L416.0 285.9L417.0 286.1L418.0 286.6L419.0 286.3L420.0 286.9L421.0 286.9L422.0 287.6L423.0 287.7L424.0 288.1L425.0 288.0L426.0 288.2L427.0 288.1L428.0 289.0L429.0 288.8L430.0 288.9L431.0 289.0L432.0 289.3L433.0 289.8L434.0 290.1L435.0 290.0L436.0 290.2L437.0 290.6L438.0 290.3L439.0 290.7L440.0 290.8L441.0 290.9L442.0 291.1L443.0 291.7L444.0 291.9L445.0 291.8L446.0 291.6L447.0 291.8L448.0 292.4L449.0 292.4L450.0 292.6L451.0 292.7L452.0 292.8L453.0 292.5L454.0 292.4L455.0 293.0L456.0 293.0L457.0 292.8L458.0 293.9L459.0 293.6L460.0 293.8L461.0 294.3L462.0 294.2L463.0 293.8L464.0 294.0L465.0 293.9L466.0 294.8L467.0 294.8L468.0 294.7L469.0 294.7L470.0 295.0L471.0 295.0L472.0 295.4L473.0 295.8L474.0 296.2L475.0 296.3L476.0 296.6L477.0 296.3L478.0 296.5L479.0 296.6L480.0 297.0L481.0 297.6L482.0 297.0L483.0 297.1L484.0 297.3L485.0 298.1L486.0 298.2L487.0 297.8L488.0 298.4L489.0 298.6L490.0 298.3L491.0 298.2L492.0 298.9L493.0 298.6L494.0 298.5L495.0 299.0L496.0 299.5L497.0 299.1L498.0 299.2L499.0 299.5L500.0 299.3L501.0 299.1L502.0 299.6L503.0 299.7L504.0 299.4L505.0 299.9L506.0 300.4L507.0 300.0L508.0 300.5L509.0 300.5L510.0 300.5L511.0 300.3L512.0 300.2L513.0 301.0L514.0 301.0L515.0 300.8L516.0 300.8L517.0 301.6L518.0 301.7L519.0 301.1L520.0 301.6L521.0 301.7L522.0 301.5L523.0 301.3L524.0 301.7L525.0 302.0L526.0 302.2L527.0 302.2L528.0 302.2L529.0 301.9L530.0 302.0L531.0 302.2L532.0 302.4L533.0 302.4L534.0 303.0L535.0 302.3L536.0 303.2L537.0 302.5L538.0 303.2L539.0 302.7L540.0 303.0L541.0 303.1L542.0 303.0L543.0 302.7L544.0 303.5L545.0 303.6L546.0 303.1L547.0 303.6L548.0 303.4L549.0 303.9L550.0 303.1L551.0 303.4L552.0 303.3L553.0 303.8L554.0 304.0L555.0 304.1L556.0 303.8L557.0 303.7L558.0 304.2L559.0 303.6L560.0 304.0L561.0 303.8L562.0 304.3L563.0 303.9L564.0 304.5L565.0 303.6L566.0 304.0L567.0 303.7L568.0 304.0L569.0 303.0L570.0 302.6L571.0 302.1L572.0 302.0L573.0 300.2L574.0 298.6L575.0 297.0L576.0 295.2L577.0 293.1L578.0 291.5L579.0 291.2L580.0 290.5L581.0 291.3L582.0 292.0L583.0 295.0L584.0 296.7L585.0 299.5L586.0 300.8L587.0 302.1L588.0 303.3L589.0 305.1L590.0 306.0L591.0 305.9L592.0 306.8L593.0 306.5L594.0 306.6L595.0 307.1L596.0 307.3L597.0 307.2L598.0 307.2L599.0 308.3L600.0 308.0L601.0 308.0L602.0 307.9L603.0 308.5L604.0 308.6L605.0 308.5L606.0 308.6L607.0 309.3L608.0 308.9L609.0 309.1L610.0 309.3L611.0 309.9L612.0 309.4L613.0 309.5L614.0 309.4L615.0 310.0L616.0 310.1L617.0 309.9L618.0 310.0L619.0 309.9L620.0 310.6L621.0 310.4L622.0 310.8L623.0 310.5L624.0 310.9L625.0 310.8L626.0 310.4L627.0 310.6L628.0 311.4L629.0 311.2L630.0 311.3L631.0 311.2L632.0 311.2L633.0 311.0L634.0 311.0L635.0 311.5L636.0 311.7L637.0 311.3L638.0 311.7L639.0 311.3L640.0 311.7L641.0 311.9L642.0 311.5L643.0 312.0L644.0 311.9L645.0 312.2L646.0 311.9L647.0 312.3L648.0 312.5L649.0 312.1L650.0 312.4L651.0 312.8L652.0 312.8L653.0 312.9L654.0 313.2L655.0 313.0L656.0 313.2L657.0 312.9L658.0 313.2L659.0 313.7L660.0 313.6L661.0 313.9L662.0 313.6L663.0 313.7L664.0 314.4L665.0 314.3L666.0 314.3L667.0 313.8L668.0 314.4L669.0 313.9L670.0 314.5L671.0 315.0L672.0 315.0L673.0 314.8L674.0 314.4L675.0 315.0L676.0 314.4L677.0 315.1L678.0 314.8L679.0 314.4L680.0 315.3L681.0 314.9L682.0 315.3L683.0 315.0" stroke="#a22ab9"/><g fill="#a22ab9" stroke="none"><circle cx="360.8" cy="273.8" r="2.7"/><circle cx="361.5" cy="273.2" r="2.3"/><circle cx="362.5" cy="273.3" r="2.2"/><circle cx="363.9" cy="273.3" r="2.7"/><circle cx="366.5" cy="273.3" r="2.7"/><circle cx="368.4" cy="272.2" r="2.2"/><circle cx="369.2" cy="271.5" r="2.2"/><circle cx="369.9" cy="271.4" r="2.7"/><circle cx="371.1" cy="272.2" r="2.6"/><circle cx="371.6" cy="271.0" r="2.6"/><circle cx="372.6" cy="270.9" r="2.4"/><circle cx="373.7" cy="271.5" r="2.1"/><circle cx="376.3" cy="270.5" r="2.6"/><circle cx="376.8" cy="271.9" r="2.5"/><circle cx="379.1" cy="272.1" r="2.2"/><circle cx="379.5" cy="274.2" r="2.7"/><circle cx="380.8" cy="274.6" r="2.4"/><circle cx="381.2" cy="275.4" r="2.4"/><circle cx="383.5" cy="278.0" r="2.5"/><circle cx="384.1" cy="277.6" r="2.6"/><circle cx="388.5" cy="279.3" r="2.2"/><circle cx="389.4" cy="278.8" r="2.5"/><circle cx="390.3" cy="280.9" r="2.2"/><circle cx="391.5" cy="280.3" r="2.2"/><circle cx="392.0" cy="280.3" r="2.7"/><circle cx="394.4" cy="281.7" r="2.1"/><circle cx="394.9" cy="281.3" r="2.6"/><circle cx="397.0" cy="282.1" r="2.5"/><circle cx="398.0" cy="282.2" r="2.6"/><circle cx="398.9" cy="282.7" r="2.5"/><circle cx="399.4" cy="283.6" r="2.1"/><circle cx="400.2" cy="282.0" r="2.3"/><circle cx="401.3" cy="283.3" r="2.4"/><circle cx="403.7" cy="284.3" r="2.3"/><circle cx="405.4" cy="284.7" r="2.6"/><circle cx="406.1" cy="284.7" r="2.1"/><circle cx="406.5" cy="284.8" r="2.3"/><circle cx="408.5" cy="284.3" r="2.4"/><circle cx="411.2" cy="285.3" r="2.7"/><circle cx="413.2" cy="286.0" r="2.4"/><circle cx="413.9" cy="284.3" r="2.2"/><circle cx="416.8" cy="285.6" r="2.5"/><circle cx="418.7" cy="286.9" r="2.6"/><circle cx="419.5" cy="287.1" r="2.5"/><circle cx="421.1" cy="286.6" r="2.5"/><circle cx="421.9" cy="287.5" r="2.6"/><circle cx="424.1" cy="286.6" r="2.2"/><circle cx="424.4" cy="287.6" r="2.8"/><circle cx="426.5" cy="288.6" r="2.5"/><circle cx="427.3" cy="289.1" r="2.5"/><circle cx="429.2" cy="288.4" r="2.8"/><circle cx="431.8" cy="289.6" r="2.6"/><circle cx="432.7" cy="290.3" r="2.7"/><circle cx="433.6" cy="289.9" r="2.6"/><circle cx="435.0" cy="289.3" r="2.8"/><circle cx="435.5" cy="290.0" r="2.5"/><circle cx="436.6" cy="288.9" r="2.3"/><circle cx="438.0" cy="291.1" r="2.7"/><circle cx="438.9" cy="290.7" r="2.4"/><circle cx="439.8" cy="290.8" r="2.1"/><circle cx="441.0" cy="291.3" r="2.2"/><circle cx="441.8" cy="291.4" r="2.7"/><circle cx="443.0" cy="291.5" r="2.1"/><circle cx="443.6" cy="292.8" r="2.8"/><circle cx="444.8" cy="291.9" r="2.1"/><circle cx="445.3" cy="291.6" r="2.6"/><circle cx="446.5" cy="292.2" r="2.3"/><circle cx="447.4" cy="292.7" r="2.3"/><circle cx="447.9" cy="292.4" r="2.3"/><circle cx="449.3" cy="291.6" r="2.5"/><circle cx="450.4" cy="291.2" r="2.3"/><circle cx="453.7" cy="293.6" r="2.7"/><circle cx="454.5" cy="293.9" r="2.7"/><circle cx="455.1" cy="293.0" r="2.7"/><circle cx="456.5" cy="292.9" r="2.4"/><circle cx="456.9" cy="293.0" r="2.6"/><circle cx="457.9" cy="292.8" r="2.1"/><circle cx="459.8" cy="292.9" r="2.4"/><circle cx="463.9" cy="293.4" r="2.2"/><circle cx="466.9" cy="294.3" r="2.7"/><circle cx="472.4" cy="295.7" r="2.3"/><circle cx="477.1" cy="295.7" r="2.2"/><circle cx="478.1" cy="296.4" r="2.2"/><circle cx="478.7" cy="297.0" r="2.7"/><circle cx="480.5" cy="297.0" r="2.1"/><circle cx="481.8" cy="297.8" r="2.1"/><circle cx="482.2" cy="299.0" r="2.3"/><circle cx="483.5" cy="297.4" r="2.2"/><circle cx="484.6" cy="297.1" r="2.3"/><circle cx="485.4" cy="297.7" r="2.8"/><circle cx="486.2" cy="297.9" r="2.6"/><circle cx="487.5" cy="297.9" r="2.7"/><circle cx="488.9" cy="298.1" r="2.2"/><circle cx="489.7" cy="298.9" r="2.6"/><circle cx="490.4" cy="299.4" r="2.5"/><circle cx="492.2" cy="298.1" r="2.2"/><circle cx="498.3" cy="298.3" r="2.3"/><circle cx="501.6" cy="299.9" r="2.6"/><circle cx="502.6" cy="300.2" r="2.3"/><circle cx="504.1" cy="300.5" r="2.7"/><circle cx="504.9" cy="300.4" r="2.2"/><circle cx="505.7" cy="300.0" r="2.4"/><circle cx="507.4" cy="300.9" r="2.5"/><circle cx="508.4" cy="299.4" r="2.4"/><circle cx="510.1" cy="300.1" r="2.8"/><circle cx="510.9" cy="301.4" r="2.1"/><circle cx="512.5" cy="299.6" r="2.6"/><circle cx="513.5" cy="301.5" r="2.5"/><circle cx="514.8" cy="300.9" r="2.1"/><circle cx="515.6" cy="302.0" r="2.4"/><circle cx="516.3" cy="301.0" r="2.5"/><circle cx="517.9" cy="300.1" r="2.7"/><circle cx="519.6" cy="302.1" r="2.3"/><circle cx="521.9" cy="301.0" r="2.5"/><circle cx="522.9" cy="301.9" r="2.3"/><circle cx="524.8" cy="301.1" r="2.7"/><circle cx="526.9" cy="301.3" r="2.6"/><circle cx="528.3" cy="302.4" r="2.5"/><circle cx="531.2" cy="301.8" r="2.1"/><circle cx="532.1" cy="303.7" r="2.6"/><circle cx="532.8" cy="302.2" r="2.6"/><circle cx="535.0" cy="303.0" r="2.5"/><circle cx="537.5" cy="302.2" r="2.3"/><circle cx="538.4" cy="302.8" r="2.5"/><circle cx="539.7" cy="302.9" r="2.8"/><circle cx="542.1" cy="303.8" r="2.5"/><circle cx="542.5" cy="303.0" r="2.2"/><circle cx="544.7" cy="303.6" r="2.2"/><circle cx="545.2" cy="304.0" r="2.7"/><circle cx="548.4" cy="304.3" r="2.1"/><circle cx="550.2" cy="303.6" r="2.5"/><circle cx="552.0" cy="302.5" r="2.7"/><circle cx="552.7" cy="303.2" r="2.7"/><circle cx="553.5" cy="302.8" r="2.3"/><circle cx="554.6" cy="304.6" r="2.3"/><circle cx="556.4" cy="302.8" r="2.6"/><circle cx="557.1" cy="304.3" r="2.6"/><circle cx="558.8" cy="304.3" r="2.2"/><circle cx="560.8" cy="305.0" r="2.2"/><circle cx="561.7" cy="304.5" r="2.3"/><circle cx="563.2" cy="303.8" r="2.3"/><circle cx="566.7" cy="304.1" r="2.6"/><circle cx="567.7" cy="303.9" r="2.6"/><circle cx="569.1" cy="304.1" r="2.3"/><circle cx="570.6" cy="301.6" r="2.8"/><circle cx="571.3" cy="303.3" r="2.7"/><circle cx="572.1" cy="301.9" r="2.6"/><circle cx="573.3" cy="300.3" r="2.8"/><circle cx="573.9" cy="299.1" r="2.4"/><circle cx="578.5" cy="290.0" r="2.5"/><circle cx="579.9" cy="289.3" r="2.7"/><circle cx="580.2" cy="291.2" r="2.8"/><circle cx="584.4" cy="297.4" r="2.7"/><circle cx="584.8" cy="299.5" r="2.7"/><circle cx="587.0" cy="301.5" r="2.7"/><circle cx="587.5" cy="303.2" r="2.8"/><circle cx="589.0" cy="303.4" r="2.7"/><circle cx="590.1" cy="306.5" r="2.2"/><circle cx="591.2" cy="305.6" r="2.8"/><circle cx="591.9" cy="306.1" r="2.4"/><circle cx="593.9" cy="306.1" r="2.3"/><circle cx="595.3" cy="306.8" r="2.4"/><circle cx="595.7" cy="307.2" r="2.2"/><circle cx="598.5" cy="307.9" r="2.6"/><circle cx="599.5" cy="307.7" r="2.1"/><circle cx="601.5" cy="308.1" r="2.7"/><circle cx="601.9" cy="309.0" r="2.6"/><circle cx="602.6" cy="308.7" r="2.4"/><circle cx="605.4" cy="308.3" r="2.2"/><circle cx="607.4" cy="309.1" r="2.6"/><circle cx="609.1" cy="308.8" r="2.5"/><circle cx="611.7" cy="309.0" r="2.5"/><circle cx="612.9" cy="309.7" r="2.1"/><circle cx="616.7" cy="311.2" r="2.3"/><circle cx="617.5" cy="309.9" r="2.6"/><circle cx="619.7" cy="309.7" r="2.8"/><circle cx="621.8" cy="309.9" r="2.6"/><circle cx="622.8" cy="310.4" r="2.6"/><circle cx="624.6" cy="311.8" r="2.3"/><circle cx="625.6" cy="311.1" r="2.3"/><circle cx="628.2" cy="310.9" r="2.2"/><circle cx="628.9" cy="310.1" r="2.6"/><circle cx="630.2" cy="310.9" r="2.3"/><circle cx="631.1" cy="311.4" r="2.2"/><circle cx="631.6" cy="311.2" r="2.2"/><circle cx="633.0" cy="310.9" r="2.3"/><circle cx="634.3" cy="311.4" r="2.5"/><circle cx="637.1" cy="310.5" r="2.3"/><circle cx="638.4" cy="310.3" r="2.1"/><circle cx="639.3" cy="312.2" r="2.1"/><circle cx="639.6" cy="311.8" r="2.4"/><circle cx="640.9" cy="312.1" r="2.3"/><circle cx="641.9" cy="311.6" r="2.6"/><circle cx="642.8" cy="312.7" r="2.7"/><circle cx="643.8" cy="311.4" r="2.2"/><circle cx="645.6" cy="312.2" r="2.7"/><circle cx="646.5" cy="312.1" r="2.5"/><circle cx="647.2" cy="311.9" r="2.4"/><circle cx="647.8" cy="311.9" r="2.8"/><circle cx="649.5" cy="312.1" r="2.3"/><circle cx="650.4" cy="312.2" r="2.7"/><circle cx="653.6" cy="312.8" r="2.3"/><circle cx="654.7" cy="313.5" r="2.4"/><circle cx="655.5" cy="312.8" r="2.8"/><circle cx="656.4" cy="311.6" r="2.2"/><circle cx="659.4" cy="313.0" r="2.8"/><circle cx="662.0" cy="313.5" r="2.6"/><circle cx="664.2" cy="313.3" r="2.7"/><circle cx="665.7" cy="314.0" r="2.4"/><circle cx="669.1" cy="314.3" r="2.8"/><circle cx="670.1" cy="314.2" r="2.5"/><circle cx="672.6" cy="313.6" r="2.5"/><circle cx="672.8" cy="316.1" r="2.3"/><circle cx="674.3" cy="314.9" r="2.8"/><circle cx="675.1" cy="315.5" r="2.6"/><circle cx="676.3" cy="315.8" r="2.4"/><circle cx="676.5" cy="314.6" r="2.8"/><circle cx="680.4" cy="315.0" r="2.6"/><circle cx="681.0" cy="315.4" r="2.7"/></g>
<path d="M360.0 266.0L361.0 265.4L362.0 264.8L363.0 264.2L364.0 264.0L365.0 263.5L366.0 262.7L367.0 261.8L368.0 260.8L369.0 259.3L370.0 257.0L371.0 254.8L372.0 252.5L373.0 251.8L374.0 251.0L375.0 251.5L376.0 250.7L377.0 251.0L378.0 251.8L379.0 253.5L380.0 256.6L381.0 260.0L382.0 263.3L383.0 267.0L384.0 268.6L385.0 270.9L386.0 273.0L387.0 274.0L388.0 276.3L389.0 277.3L390.0 278.7L391.0 279.6L392.0 280.0L393.0 280.5L394.0 281.1L395.0 281.2L396.0 282.1L397.0 282.1L398.0 283.0L399.0 283.6L400.0 284.0L401.0 284.7L402.0 284.5L403.0 285.2L404.0 286.1L405.0 286.5L406.0 287.1L407.0 286.7L408.0 287.2L409.0 287.6L410.0 288.4L411.0 288.3L412.0 288.0L413.0 287.5L414.0 287.3L415.0 286.7L416.0 286.4L417.0 286.0L418.0 285.4L419.0 284.1L420.0 283.0L421.0 282.5L422.0 281.8L423.0 281.0L424.0 282.0L425.0 283.3L426.0 284.0L427.0 285.9L428.0 287.4L429.0 289.6L430.0 291.5L431.0 291.7L432.0 292.0L433.0 292.3L434.0 292.4L435.0 292.7L436.0 293.0L437.0 293.2L438.0 294.1L439.0 293.4L440.0 293.6L441.0 294.6L442.0 294.5L443.0 294.8L444.0 295.2L445.0 295.4L446.0 295.3L447.0 295.3L448.0 295.1L449.0 296.0L450.0 296.1L451.0 295.5L452.0 295.8L453.0 295.7L454.0 295.5L455.0 296.0L456.0 296.3L457.0 296.1L458.0 295.4L459.0 295.4L460.0 295.5L461.0 295.1L462.0 294.5L463.0 293.6L464.0 293.0L465.0 292.4L466.0 291.7L467.0 291.5L468.0 292.8L469.0 293.9L470.0 294.5L471.0 295.8L472.0 296.0L473.0 297.5L474.0 298.8L475.0 299.3L476.0 299.8L477.0 299.9L478.0 299.9L479.0 300.1L480.0 300.9L481.0 301.3L482.0 300.8L483.0 301.7L484.0 301.8L485.0 301.7L486.0 302.3L487.0 302.5L488.0 302.4L489.0 302.1L490.0 302.7L491.0 302.7L492.0 302.7L493.0 303.6L494.0 303.6L495.0 303.5L496.0 303.3L497.0 303.5L498.0 303.8L499.0 304.2L500.0 304.1L501.0 304.3L502.0 304.8L503.0 304.4L504.0 305.0L505.0 304.8L506.0 305.6L507.0 305.7L508.0 305.2L509.0 305.7L510.0 305.7L511.0 305.4L512.0 305.8L513.0 306.1L514.0 306.2L515.0 306.0L516.0 305.8L517.0 305.9L518.0 306.5L519.0 306.2L520.0 306.4L521.0 306.8L522.0 307.1L523.0 306.8L524.0 306.7L525.0 307.0L526.0 307.2L527.0 306.9L528.0 307.5L529.0 306.9L530.0 307.1L531.0 307.3L532.0 307.9L533.0 307.2L534.0 307.3L535.0 307.3L536.0 307.4L537.0 307.6L538.0 307.8L539.0 308.2L540.0 308.0L541.0 307.9L542.0 307.9L543.0 307.7L544.0 308.1L545.0 308.2L546.0 307.6L547.0 308.1L548.0 307.4L549.0 308.0L550.0 307.5L551.0 307.2L552.0 307.1L553.0 306.5L554.0 306.1L555.0 306.0L556.0 304.0L557.0 303.1L558.0 301.0L559.0 299.2L560.0 297.9L561.0 296.0L562.0 295.7L563.0 295.5L564.0 296.4L565.0 296.9L566.0 298.0L567.0 299.3L568.0 301.2L569.0 303.0L570.0 304.3L571.0 305.4L572.0 306.5L573.0 306.4L574.0 307.5L575.0 307.6L576.0 307.7L577.0 308.3L578.0 308.6L579.0 309.6L580.0 309.7L581.0 310.1L582.0 310.2L583.0 310.5L584.0 310.9L585.0 311.5L586.0 311.6L587.0 311.9L588.0 312.7L589.0 313.0L590.0 313.0L591.0 313.4L592.0 313.8L593.0 313.8L594.0 313.4L595.0 313.5L596.0 313.9L597.0 314.2L598.0 314.6L599.0 315.1L600.0 315.0L601.0 315.2L602.0 315.1L603.0 314.9L604.0 315.7L605.0 315.6L606.0 315.2L607.0 315.0L608.0 316.0L609.0 315.4L610.0 316.0L611.0 315.4L612.0 316.0L613.0 315.7L614.0 316.3L615.0 316.0L616.0 315.9L617.0 315.7L618.0 315.9L619.0 316.5L620.0 316.8L621.0 316.5L622.0 316.6L623.0 316.3L624.0 316.3L625.0 316.2L626.0 317.1L627.0 316.3L628.0 316.9L629.0 316.7L630.0 316.9L631.0 316.7L632.0 317.0L633.0 317.6L634.0 316.9L635.0 316.9L636.0 317.5L637.0 317.6L638.0 317.5L639.0 317.2L640.0 318.0L641.0 317.3L642.0 317.5L643.0 317.6L644.0 317.9L645.0 318.0L646.0 318.1L647.0 318.2L648.0 318.5L649.0 318.7L650.0 318.4L651.0 318.1L652.0 318.9L653.0 318.2L654.0 318.6L655.0 318.5L656.0 319.1L657.0 319.3L658.0 318.8L659.0 319.0L660.0 319.3L661.0 319.7L662.0 319.5L663.0 318.9L664.0 319.5L665.0 319.6L666.0 319.3L667.0 319.0L668.0 319.5L669.0 319.2L670.0 319.0L671.0 319.1L672.0 319.3L673.0 319.0L674.0 319.3L675.0 319.5L676.0 319.5L677.0 319.4L678.0 319.8L679.0 319.1L680.0 319.3L681.0 319.9L682.0 319.9L683.0 319.5" stroke="#3dbb7e"/><g fill="#3dbb7e" stroke="none"><circle cx="361.9" cy="265.7" r="2.7"/><circle cx="362.6" cy="264.6" r="2.7"/><circle cx="363.3" cy="264.5" r="2.5"/><circle cx="368.0" cy="261.3" r="2.6"/><circle cx="369.3" cy="259.8" r="2.2"/><circle cx="369.9" cy="257.4" r="2.3"/><circle cx="372.5" cy="251.5" r="2.6"/><circle cx="375.5" cy="250.7" r="2.7"/><circle cx="376.0" cy="251.4" r="2.2"/><circle cx="378.0" cy="252.5" r="2.5"/><circle cx="378.6" cy="252.6" r="2.5"/><circle cx="380.9" cy="259.6" r="2.5"/><circle cx="383.2" cy="268.5" r="2.1"/><circle cx="385.2" cy="270.3" r="2.2"/><circle cx="387.7" cy="275.5" r="2.4"/><circle cx="391.4" cy="279.4" r="2.7"/><circle cx="394.4" cy="280.2" r="2.5"/><circle cx="395.3" cy="281.5" r="2.7"/><circle cx="395.7" cy="281.9" r="2.7"/><circle cx="397.3" cy="282.1" r="2.4"/><circle cx="398.4" cy="282.1" r="2.2"/><circle cx="399.3" cy="283.6" r="2.4"/><circle cx="402.1" cy="285.5" r="2.4"/><circle cx="404.4" cy="287.4" r="2.6"/><circle cx="404.9" cy="286.0" r="2.2"/><circle cx="406.3" cy="284.9" r="2.7"/><circle cx="406.4" cy="287.9" r="2.3"/><circle cx="407.8" cy="288.1" r="2.3"/><circle cx="408.4" cy="288.1" r="2.5"/><circle cx="412.2" cy="287.1" r="2.1"/><circle cx="414.3" cy="287.1" r="2.7"/><circle cx="417.1" cy="286.3" r="2.6"/><circle cx="417.5" cy="285.9" r="2.1"/><circle cx="418.4" cy="284.2" r="2.7"/><circle cx="420.0" cy="282.6" r="2.3"/><circle cx="422.3" cy="281.7" r="2.5"/><circle cx="425.2" cy="282.6" r="2.4"/><circle cx="426.1" cy="284.2" r="2.1"/><circle cx="426.5" cy="285.0" r="2.5"/><circle cx="427.3" cy="288.3" r="2.7"/><circle cx="429.7" cy="289.6" r="2.4"/><circle cx="430.4" cy="291.0" r="2.3"/><circle cx="431.7" cy="292.7" r="2.7"/><circle cx="434.0" cy="292.7" r="2.8"/><circle cx="435.1" cy="292.9" r="2.7"/><circle cx="436.7" cy="293.1" r="2.8"/><circle cx="439.5" cy="294.7" r="2.5"/><circle cx="440.2" cy="294.2" r="2.5"/><circle cx="441.0" cy="294.2" r="2.7"/><circle cx="441.5" cy="293.9" r="2.4"/><circle cx="442.5" cy="295.3" r="2.6"/><circle cx="443.4" cy="295.5" r="2.7"/><circle cx="444.7" cy="294.1" r="2.6"/><circle cx="445.6" cy="296.1" r="2.3"/><circle cx="447.5" cy="295.6" r="2.2"/><circle cx="448.1" cy="295.7" r="2.8"/><circle cx="448.8" cy="296.3" r="2.4"/><circle cx="449.7" cy="295.5" r="2.7"/><circle cx="450.9" cy="295.2" r="2.5"/><circle cx="452.4" cy="295.8" r="2.4"/><circle cx="455.5" cy="295.0" r="2.4"/><circle cx="457.5" cy="296.1" r="2.5"/><circle cx="458.8" cy="296.3" r="2.3"/><circle cx="462.1" cy="293.5" r="2.4"/><circle cx="462.9" cy="291.6" r="2.6"/><circle cx="463.3" cy="292.3" r="2.1"/><circle cx="464.5" cy="294.3" r="2.6"/><circle cx="466.7" cy="291.8" r="2.4"/><circle cx="467.8" cy="292.6" r="2.5"/><circle cx="469.8" cy="294.9" r="2.5"/><circle cx="470.3" cy="295.0" r="2.6"/><circle cx="471.2" cy="295.5" r="2.5"/><circle cx="472.7" cy="298.1" r="2.5"/><circle cx="473.3" cy="297.9" r="2.5"/><circle cx="474.6" cy="298.0" r="2.8"/><circle cx="478.0" cy="301.4" r="2.6"/><circle cx="479.1" cy="300.8" r="2.3"/><circle cx="479.4" cy="301.4" r="2.3"/><circle cx="483.0" cy="301.5" r="2.4"/><circle cx="488.1" cy="302.5" r="2.7"/><circle cx="489.0" cy="302.4" r="2.3"/><circle cx="489.5" cy="302.5" r="2.8"/><circle cx="492.5" cy="303.1" r="2.8"/><circle cx="494.9" cy="303.5" r="2.3"/><circle cx="496.5" cy="303.3" r="2.4"/><circle cx="498.5" cy="303.8" r="2.6"/><circle cx="499.7" cy="303.4" r="2.6"/><circle cx="501.2" cy="305.0" r="2.5"/><circle cx="501.9" cy="303.7" r="2.2"/><circle cx="503.3" cy="304.8" r="2.6"/><circle cx="505.2" cy="305.1" r="2.6"/><circle cx="506.4" cy="304.6" r="2.3"/><circle cx="510.3" cy="305.5" r="2.3"/><circle cx="511.5" cy="305.5" r="2.4"/><circle cx="512.2" cy="306.6" r="2.5"/><circle cx="513.6" cy="307.9" r="2.7"/><circle cx="514.9" cy="306.1" r="2.3"/><circle cx="515.5" cy="306.9" r="2.1"/><circle cx="516.2" cy="306.4" r="2.2"/><circle cx="517.4" cy="306.4" r="2.4"/><circle cx="518.7" cy="307.0" r="2.1"/><circle cx="520.2" cy="307.1" r="2.7"/><circle cx="521.4" cy="306.7" r="2.7"/><circle cx="521.9" cy="305.9" r="2.2"/><circle cx="526.1" cy="307.1" r="2.1"/><circle cx="529.9" cy="307.4" r="2.3"/><circle cx="533.5" cy="307.2" r="2.8"/><circle cx="534.3" cy="307.4" r="2.4"/><circle cx="536.2" cy="307.3" r="2.2"/><circle cx="539.1" cy="308.6" r="2.2"/><circle cx="539.7" cy="307.1" r="2.3"/><circle cx="540.6" cy="307.2" r="2.6"/><circle cx="541.8" cy="309.0" r="2.5"/><circle cx="542.4" cy="308.6" r="2.5"/><circle cx="544.5" cy="308.2" r="2.5"/><circle cx="545.4" cy="308.3" r="2.4"/><circle cx="549.1" cy="307.3" r="2.6"/><circle cx="552.8" cy="306.1" r="2.3"/><circle cx="553.5" cy="306.2" r="2.6"/><circle cx="554.8" cy="305.9" r="2.8"/><circle cx="556.2" cy="303.0" r="2.6"/><circle cx="558.0" cy="300.9" r="2.4"/><circle cx="558.9" cy="299.6" r="2.2"/><circle cx="559.8" cy="298.3" r="2.3"/><circle cx="560.4" cy="297.1" r="2.4"/><circle cx="561.5" cy="294.2" r="2.3"/><circle cx="562.5" cy="295.0" r="2.6"/><circle cx="564.2" cy="296.9" r="2.4"/><circle cx="565.2" cy="297.7" r="2.8"/><circle cx="566.4" cy="299.1" r="2.5"/><circle cx="567.4" cy="299.5" r="2.1"/><circle cx="567.8" cy="301.0" r="2.6"/><circle cx="569.6" cy="303.7" r="2.7"/><circle cx="570.6" cy="305.2" r="2.3"/><circle cx="572.6" cy="306.4" r="2.2"/><circle cx="573.5" cy="306.0" r="2.6"/><circle cx="574.1" cy="308.0" r="2.7"/><circle cx="575.7" cy="308.7" r="2.3"/><circle cx="576.6" cy="308.0" r="2.1"/><circle cx="578.7" cy="309.4" r="2.4"/><circle cx="579.9" cy="309.3" r="2.3"/><circle cx="581.5" cy="309.2" r="2.8"/><circle cx="582.0" cy="309.7" r="2.7"/><circle cx="583.2" cy="311.4" r="2.5"/><circle cx="584.3" cy="311.8" r="2.2"/><circle cx="585.3" cy="311.1" r="2.8"/><circle cx="586.8" cy="313.2" r="2.4"/><circle cx="587.7" cy="312.3" r="2.2"/><circle cx="590.4" cy="311.7" r="2.2"/><circle cx="591.7" cy="313.4" r="2.3"/><circle cx="591.9" cy="313.0" r="2.5"/><circle cx="593.8" cy="314.2" r="2.7"/><circle cx="594.6" cy="313.8" r="2.2"/><circle cx="595.4" cy="314.8" r="2.6"/><circle cx="596.4" cy="314.2" r="2.5"/><circle cx="597.8" cy="314.0" r="2.7"/><circle cx="598.1" cy="314.9" r="2.2"/><circle cx="599.7" cy="313.8" r="2.8"/><circle cx="600.5" cy="313.7" r="2.7"/><circle cx="601.0" cy="316.0" r="2.2"/><circle cx="602.2" cy="315.1" r="2.5"/><circle cx="603.7" cy="317.0" r="2.3"/><circle cx="606.0" cy="315.5" r="2.7"/><circle cx="606.7" cy="315.4" r="2.5"/><circle cx="608.2" cy="315.5" r="2.2"/><circle cx="610.2" cy="316.1" r="2.7"/><circle cx="611.2" cy="316.0" r="2.8"/><circle cx="611.9" cy="314.6" r="2.4"/><circle cx="613.0" cy="315.3" r="2.8"/><circle cx="614.0" cy="315.4" r="2.4"/><circle cx="614.6" cy="315.7" r="2.5"/><circle cx="615.4" cy="316.3" r="2.5"/><circle cx="616.5" cy="315.4" r="2.5"/><circle cx="617.2" cy="316.2" r="2.3"/><circle cx="621.1" cy="315.6" r="2.1"/><circle cx="621.9" cy="317.0" r="2.3"/><circle cx="623.9" cy="315.8" r="2.4"/><circle cx="625.1" cy="317.0" r="2.3"/><circle cx="627.3" cy="317.0" r="2.7"/><circle cx="629.4" cy="316.3" r="2.4"/><circle cx="629.9" cy="316.8" r="2.1"/><circle cx="631.2" cy="316.4" r="2.4"/><circle cx="632.9" cy="316.6" r="2.1"/><circle cx="633.6" cy="316.7" r="2.1"/><circle cx="636.6" cy="316.7" r="2.2"/><circle cx="637.5" cy="317.9" r="2.7"/><circle cx="640.1" cy="318.5" r="2.4"/><circle cx="640.4" cy="318.5" r="2.6"/><circle cx="642.1" cy="318.8" r="2.5"/><circle cx="644.1" cy="317.6" r="2.3"/><circle cx="645.4" cy="317.8" r="2.1"/><circle cx="648.9" cy="318.9" r="2.8"/><circle cx="649.5" cy="317.8" r="2.6"/><circle cx="651.7" cy="319.2" r="2.3"/><circle cx="653.3" cy="318.3" r="2.3"/><circle cx="654.9" cy="319.3" r="2.6"/><circle cx="655.9" cy="319.6" r="2.8"/><circle cx="658.1" cy="319.8" r="2.7"/><circle cx="658.9" cy="319.6" r="2.6"/><circle cx="659.9" cy="318.9" r="2.2"/><circle cx="660.9" cy="318.6" r="2.3"/><circle cx="661.4" cy="318.3" r="2.4"/><circle cx="662.3" cy="319.2" r="2.1"/><circle cx="663.0" cy="320.7" r="2.6"/><circle cx="665.2" cy="319.3" r="2.7"/><circle cx="668.1" cy="319.8" r="2.6"/><circle cx="668.6" cy="318.7" r="2.4"/><circle cx="669.6" cy="320.1" r="2.4"/><circle cx="671.5" cy="318.7" r="2.4"/><circle cx="672.4" cy="318.9" r="2.3"/><circle cx="673.5" cy="319.4" r="2.8"/><circle cx="674.7" cy="319.1" r="2.4"/><circle cx="676.1" cy="319.4" r="2.8"/><circle cx="677.1" cy="319.2" r="2.1"/><circle cx="678.7" cy="320.9" r="2.8"/><circle cx="679.8" cy="318.7" r="2.5"/><circle cx="681.5" cy="319.9" r="2.1"/></g>
</g>
<g clip-path="url(#c3)" fill="none" stroke-linejoin="round" stroke-linecap="round" stroke-width="5.1">
<path d="M360.0 367.0L361.0 367.1L362.0 366.4L363.0 366.3L364.0 367.0L365.0 366.5L366.0 365.8L367.0 365.3L368.0 365.2L369.0 363.8L370.0 363.5L371.0 362.6L372.0 361.1L373.0 360.5L374.0 360.1L375.0 359.5L376.0 360.7L377.0 361.5L378.0 362.2L379.0 363.8L380.0 364.5L381.0 365.5L382.0 366.0L383.0 366.5L384.0 367.3L385.0 367.4L386.0 368.0L387.0 368.3L388.0 369.0L389.0 369.4L390.0 369.7L391.0 370.1L392.0 370.1L393.0 370.7L394.0 371.1L395.0 371.7L396.0 372.1L397.0 372.2L398.0 371.8L399.0 372.5L400.0 371.7L401.0 371.8L402.0 372.1L403.0 372.0L404.0 372.9L405.0 372.4L406.0 372.5L407.0 373.1L408.0 372.9L409.0 373.0L410.0 373.0L411.0 372.8L412.0 372.7L413.0 373.1L414.0 372.3L415.0 372.4L416.0 372.2L417.0 371.8L418.0 372.0L419.0 371.3L420.0 371.3L421.0 371.3L422.0 370.6L423.0 369.8L424.0 370.4L425.0 369.6L426.0 368.7L427.0 368.9L428.0 367.6L429.0 367.7L430.0 367.0L431.0 365.8L432.0 365.2L433.0 364.5L434.0 364.1L435.0 363.0L436.0 361.9L437.0 360.9L438.0 359.9L439.0 359.0L440.0 358.0L441.0 356.2L442.0 355.4L443.0 353.4L444.0 350.1L445.0 347.1L446.0 344.5L447.0 345.8L448.0 347.0L449.0 350.1L450.0 353.4L451.0 355.3L452.0 356.3L453.0 358.6L454.0 359.9L455.0 361.7L456.0 363.5L457.0 364.3L458.0 365.8L459.0 367.1L460.0 368.7L461.0 369.3L462.0 369.6L463.0 370.5L464.0 370.8L465.0 371.6L466.0 371.7L467.0 372.4L468.0 373.0L469.0 373.7L470.0 374.5L471.0 375.1L472.0 375.5L473.0 375.8L474.0 376.5L475.0 377.5L476.0 377.6L477.0 378.2L478.0 378.7L479.0 379.7L480.0 380.0L481.0 380.3L482.0 381.4L483.0 381.2L484.0 381.7L485.0 382.2L486.0 382.6L487.0 383.7L488.0 384.1L489.0 384.3L490.0 385.0L491.0 385.6L492.0 385.7L493.0 385.7L494.0 386.1L495.0 386.5L496.0 386.5L497.0 386.4L498.0 386.9L499.0 387.8L500.0 387.5L501.0 388.0L502.0 387.7L503.0 388.7L504.0 389.0L505.0 388.9L506.0 388.8L507.0 388.8L508.0 389.0L509.0 388.7L510.0 388.7L511.0 388.6L512.0 389.0L513.0 388.6L514.0 387.8L515.0 387.6L516.0 386.5L517.0 386.3L518.0 385.5L519.0 384.5L520.0 386.1L521.0 387.2L522.0 388.0L523.0 388.0L524.0 388.5L525.0 389.8L526.0 390.1L527.0 390.3L528.0 390.7L529.0 391.0L530.0 391.5L531.0 391.7L532.0 391.6L533.0 392.2L534.0 392.2L535.0 392.3L536.0 393.3L537.0 393.2L538.0 393.7L539.0 393.4L540.0 393.8L541.0 394.0L542.0 393.9L543.0 394.6L544.0 394.1L545.0 394.7L546.0 394.8L547.0 394.7L548.0 394.7L549.0 395.2L550.0 395.4L551.0 395.6L552.0 396.0L553.0 395.5L554.0 395.6L555.0 395.9L556.0 396.5L557.0 396.1L558.0 396.7L559.0 396.2L560.0 396.8L561.0 396.5L562.0 397.2L563.0 397.0L564.0 396.7L565.0 397.2L566.0 397.7L567.0 397.3L568.0 397.5L569.0 397.4L570.0 397.6L571.0 397.5L572.0 396.9L573.0 397.6L574.0 397.1L575.0 396.8L576.0 396.6L577.0 396.3L578.0 396.5L579.0 397.1L580.0 397.1L581.0 396.8L582.0 397.2L583.0 397.3L584.0 397.1L585.0 397.0L586.0 397.9L587.0 397.4L588.0 398.0L589.0 397.6L590.0 398.2L591.0 397.8L592.0 398.1L593.0 398.7L594.0 398.8L595.0 399.3L596.0 399.1L597.0 399.1L598.0 398.7L599.0 399.7L600.0 399.4L601.0 399.9L602.0 399.2L603.0 400.1L604.0 399.9L605.0 400.0L606.0 399.8L607.0 400.1L608.0 399.8L609.0 400.4L610.0 400.2L611.0 400.7L612.0 400.3L613.0 400.9L614.0 400.9L615.0 401.1L616.0 401.4L617.0 400.8L618.0 401.3L619.0 401.1L620.0 401.3L621.0 401.7L622.0 401.7L623.0 401.7L624.0 401.6L625.0 401.3L626.0 402.0L627.0 402.1L628.0 402.1L629.0 401.6L630.0 402.1L631.0 402.0L632.0 402.2L633.0 402.2L634.0 401.9L635.0 402.0L636.0 401.9L637.0 402.3L638.0 402.2L639.0 402.1L640.0 402.4L641.0 401.6L642.0 401.6L643.0 402.0L644.0 401.7L645.0 402.4L646.0 401.7L647.0 402.5L648.0 401.8L649.0 401.7L650.0 402.1L651.0 402.3L652.0 402.3L653.0 402.0L654.0 402.2L655.0 402.1L656.0 402.5L657.0 402.0L658.0 402.1L659.0 402.0L660.0 402.0L661.0 402.1L662.0 402.5L663.0 402.1L664.0 402.8L665.0 403.2L666.0 403.2L667.0 403.1L668.0 403.1L669.0 402.9L670.0 403.5L671.0 403.1L672.0 403.6L673.0 404.0L674.0 404.1L675.0 403.4L676.0 404.0L677.0 404.1L678.0 403.8L679.0 404.3L680.0 403.6L681.0 403.8L682.0 404.1L683.0 404.1" stroke="#a22ab9"/><g fill="#a22ab9" stroke="none"><circle cx="360.8" cy="366.6" r="2.4"/><circle cx="362.0" cy="367.9" r="2.4"/><circle cx="363.1" cy="366.4" r="2.1"/><circle cx="364.0" cy="366.1" r="2.5"/><circle cx="364.8" cy="366.9" r="2.2"/><circle cx="365.2" cy="366.4" r="2.1"/><circle cx="366.3" cy="365.9" r="2.7"/><circle cx="366.9" cy="365.6" r="2.5"/><circle cx="367.9" cy="364.5" r="2.5"/><circle cx="372.8" cy="360.7" r="2.2"/><circle cx="374.7" cy="359.4" r="2.4"/><circle cx="375.5" cy="360.0" r="2.6"/><circle cx="376.2" cy="360.3" r="2.4"/><circle cx="377.7" cy="362.1" r="2.7"/><circle cx="379.3" cy="364.3" r="2.4"/><circle cx="379.6" cy="363.0" r="2.8"/><circle cx="380.3" cy="364.9" r="2.6"/><circle cx="381.3" cy="365.1" r="2.4"/><circle cx="382.9" cy="365.4" r="2.4"/><circle cx="384.6" cy="367.7" r="2.7"/><circle cx="385.0" cy="367.2" r="2.3"/><circle cx="386.0" cy="367.8" r="2.5"/><circle cx="387.9" cy="368.8" r="2.7"/><circle cx="389.6" cy="369.2" r="2.6"/><circle cx="391.1" cy="370.5" r="2.6"/><circle cx="393.2" cy="371.3" r="2.6"/><circle cx="394.2" cy="370.5" r="2.2"/><circle cx="394.9" cy="371.8" r="2.5"/><circle cx="396.3" cy="371.9" r="2.4"/><circle cx="397.4" cy="373.1" r="2.5"/><circle cx="400.3" cy="371.5" r="2.6"/><circle cx="403.5" cy="372.3" r="2.7"/><circle cx="403.8" cy="372.2" r="2.7"/><circle cx="406.0" cy="371.6" r="2.7"/><circle cx="407.2" cy="373.5" r="2.8"/><circle cx="407.8" cy="372.2" r="2.6"/><circle cx="408.4" cy="372.2" r="2.3"/><circle cx="413.2" cy="372.6" r="2.5"/><circle cx="414.0" cy="371.1" r="2.2"/><circle cx="415.2" cy="372.9" r="2.3"/><circle cx="415.6" cy="372.6" r="2.7"/><circle cx="418.0" cy="371.1" r="2.4"/><circle cx="418.3" cy="371.7" r="2.1"/><circle cx="419.2" cy="371.3" r="2.7"/><circle cx="421.8" cy="370.5" r="2.5"/><circle cx="424.7" cy="369.2" r="2.6"/><circle cx="425.4" cy="368.8" r="2.5"/><circle cx="426.2" cy="369.6" r="2.4"/><circle cx="427.2" cy="368.0" r="2.7"/><circle cx="430.6" cy="366.9" r="2.5"/><circle cx="431.8" cy="365.8" r="2.8"/><circle cx="433.0" cy="364.6" r="2.3"/><circle cx="435.9" cy="363.3" r="2.5"/><circle cx="436.7" cy="361.4" r="2.5"/><circle cx="439.1" cy="358.4" r="2.5"/><circle cx="440.2" cy="357.9" r="2.5"/><circle cx="442.2" cy="355.0" r="2.2"/><circle cx="444.0" cy="351.7" r="2.4"/><circle cx="446.9" cy="346.5" r="2.5"/><circle cx="448.3" cy="347.8" r="2.4"/><circle cx="448.8" cy="350.9" r="2.2"/><circle cx="450.3" cy="353.7" r="2.7"/><circle cx="450.7" cy="355.2" r="2.6"/><circle cx="453.1" cy="356.9" r="2.1"/><circle cx="453.3" cy="360.2" r="2.1"/><circle cx="455.5" cy="361.8" r="2.6"/><circle cx="456.4" cy="363.1" r="2.7"/><circle cx="459.2" cy="367.4" r="2.7"/><circle cx="459.9" cy="368.0" r="2.6"/><circle cx="460.6" cy="368.8" r="2.5"/><circle cx="461.5" cy="368.5" r="2.6"/><circle cx="462.7" cy="370.0" r="2.5"/><circle cx="463.5" cy="369.7" r="2.7"/><circle cx="466.1" cy="372.0" r="2.3"/><circle cx="467.3" cy="372.1" r="2.8"/><circle cx="468.3" cy="373.0" r="2.6"/><circle cx="469.2" cy="372.6" r="2.4"/><circle cx="470.9" cy="373.7" r="2.2"/><circle cx="471.9" cy="375.0" r="2.6"/><circle cx="473.9" cy="377.5" r="2.4"/><circle cx="474.9" cy="377.4" r="2.4"/><circle cx="477.1" cy="378.8" r="2.3"/><circle cx="478.2" cy="380.0" r="2.6"/><circle cx="479.0" cy="379.6" r="2.3"/><circle cx="479.3" cy="380.6" r="2.5"/><circle cx="481.0" cy="380.1" r="2.4"/><circle cx="481.7" cy="380.6" r="2.8"/><circle cx="483.8" cy="382.0" r="2.3"/><circle cx="485.4" cy="382.9" r="2.2"/><circle cx="486.6" cy="383.6" r="2.8"/><circle cx="488.0" cy="383.2" r="2.2"/><circle cx="488.6" cy="385.0" r="2.7"/><circle cx="489.8" cy="385.5" r="2.5"/><circle cx="490.3" cy="385.6" r="2.3"/><circle cx="493.0" cy="385.8" r="2.4"/><circle cx="496.9" cy="386.6" r="2.1"/><circle cx="498.6" cy="387.9" r="2.4"/><circle cx="502.2" cy="387.2" r="2.6"/><circle cx="503.0" cy="387.9" r="2.3"/><circle cx="504.2" cy="388.5" r="2.3"/><circle cx="506.0" cy="389.1" r="2.5"/><circle cx="508.0" cy="388.7" r="2.2"/><circle cx="510.6" cy="389.5" r="2.4"/><circle cx="512.7" cy="388.8" r="2.6"/><circle cx="515.0" cy="387.0" r="2.2"/><circle cx="517.7" cy="385.3" r="2.4"/><circle cx="520.2" cy="385.9" r="2.5"/><circle cx="521.2" cy="386.9" r="2.4"/><circle cx="523.2" cy="387.4" r="2.2"/><circle cx="524.4" cy="389.1" r="2.2"/><circle cx="525.6" cy="388.8" r="2.8"/><circle cx="527.0" cy="390.8" r="2.6"/><circle cx="528.0" cy="391.0" r="2.7"/><circle cx="529.2" cy="391.2" r="2.5"/><circle cx="529.8" cy="392.2" r="2.4"/><circle cx="531.4" cy="392.3" r="2.4"/><circle cx="532.3" cy="392.0" r="2.5"/><circle cx="533.6" cy="392.5" r="2.5"/><circle cx="537.4" cy="392.6" r="2.4"/><circle cx="538.6" cy="393.6" r="2.4"/><circle cx="539.3" cy="392.7" r="2.7"/><circle cx="539.8" cy="393.8" r="2.6"/><circle cx="542.0" cy="394.2" r="2.3"/><circle cx="542.4" cy="394.6" r="2.7"/><circle cx="548.2" cy="395.2" r="2.6"/><circle cx="549.9" cy="395.3" r="2.2"/><circle cx="552.9" cy="394.4" r="2.3"/><circle cx="555.3" cy="395.5" r="2.4"/><circle cx="556.5" cy="396.7" r="2.2"/><circle cx="557.2" cy="396.6" r="2.7"/><circle cx="561.0" cy="396.9" r="2.3"/><circle cx="561.5" cy="397.6" r="2.5"/><circle cx="562.4" cy="395.5" r="2.8"/><circle cx="565.0" cy="396.8" r="2.5"/><circle cx="567.2" cy="397.5" r="2.5"/><circle cx="567.9" cy="396.2" r="2.2"/><circle cx="568.5" cy="398.2" r="2.4"/><circle cx="569.8" cy="399.0" r="2.1"/><circle cx="570.2" cy="397.7" r="2.7"/><circle cx="572.3" cy="398.0" r="2.4"/><circle cx="573.7" cy="396.7" r="2.3"/><circle cx="574.4" cy="397.6" r="2.7"/><circle cx="575.8" cy="395.7" r="2.2"/><circle cx="576.9" cy="396.7" r="2.4"/><circle cx="579.6" cy="396.5" r="2.6"/><circle cx="580.1" cy="396.9" r="2.7"/><circle cx="581.2" cy="395.1" r="2.2"/><circle cx="582.8" cy="397.5" r="2.8"/><circle cx="584.2" cy="397.0" r="2.2"/><circle cx="587.5" cy="398.9" r="2.4"/><circle cx="588.3" cy="398.0" r="2.5"/><circle cx="589.8" cy="399.0" r="2.1"/><circle cx="591.1" cy="399.8" r="2.2"/><circle cx="592.3" cy="398.1" r="2.5"/><circle cx="593.2" cy="398.7" r="2.3"/><circle cx="594.6" cy="398.1" r="2.4"/><circle cx="596.8" cy="399.4" r="2.8"/><circle cx="597.8" cy="398.4" r="2.8"/><circle cx="598.8" cy="400.2" r="2.1"/><circle cx="603.6" cy="400.6" r="2.3"/><circle cx="605.5" cy="400.6" r="2.3"/><circle cx="610.1" cy="400.9" r="2.4"/><circle cx="611.3" cy="400.7" r="2.3"/><circle cx="612.1" cy="399.5" r="2.1"/><circle cx="614.0" cy="401.6" r="2.3"/><circle cx="615.5" cy="400.9" r="2.7"/><circle cx="616.3" cy="400.5" r="2.5"/><circle cx="617.6" cy="401.5" r="2.5"/><circle cx="618.8" cy="401.3" r="2.2"/><circle cx="619.9" cy="401.2" r="2.5"/><circle cx="621.3" cy="401.5" r="2.8"/><circle cx="621.9" cy="401.4" r="2.6"/><circle cx="622.9" cy="401.9" r="2.8"/><circle cx="624.5" cy="400.9" r="2.7"/><circle cx="629.1" cy="400.8" r="2.1"/><circle cx="629.9" cy="401.6" r="2.6"/><circle cx="632.7" cy="401.4" r="2.4"/><circle cx="633.4" cy="400.9" r="2.7"/><circle cx="634.9" cy="401.4" r="2.2"/><circle cx="635.3" cy="402.5" r="2.6"/><circle cx="636.7" cy="401.5" r="2.2"/><circle cx="636.8" cy="402.5" r="2.4"/><circle cx="638.1" cy="401.6" r="2.2"/><circle cx="639.2" cy="402.7" r="2.5"/><circle cx="640.0" cy="402.0" r="2.2"/><circle cx="641.1" cy="401.3" r="2.6"/><circle cx="641.3" cy="402.3" r="2.6"/><circle cx="643.5" cy="401.7" r="2.4"/><circle cx="644.0" cy="402.2" r="2.5"/><circle cx="645.1" cy="402.9" r="2.8"/><circle cx="646.6" cy="401.6" r="2.8"/><circle cx="646.8" cy="401.8" r="2.3"/><circle cx="647.7" cy="401.9" r="2.7"/><circle cx="648.7" cy="402.9" r="2.2"/><circle cx="650.2" cy="401.6" r="2.6"/><circle cx="651.3" cy="402.3" r="2.6"/><circle cx="655.4" cy="402.6" r="2.6"/><circle cx="655.7" cy="403.1" r="2.5"/><circle cx="658.9" cy="402.9" r="2.8"/><circle cx="659.9" cy="402.0" r="2.3"/><circle cx="661.5" cy="402.6" r="2.4"/><circle cx="662.8" cy="404.2" r="2.6"/><circle cx="663.5" cy="402.8" r="2.4"/><circle cx="669.2" cy="403.0" r="2.4"/><circle cx="670.3" cy="403.5" r="2.8"/><circle cx="672.5" cy="403.6" r="2.4"/><circle cx="675.0" cy="404.6" r="2.6"/><circle cx="675.9" cy="404.3" r="2.7"/><circle cx="676.7" cy="402.9" r="2.6"/><circle cx="678.5" cy="404.0" r="2.6"/><circle cx="681.8" cy="403.7" r="2.5"/></g>
<path d="M360.0 357.8L361.0 357.4L362.0 357.3L363.0 356.0L364.0 356.4L365.0 355.5L366.0 354.6L367.0 354.0L368.0 352.8L369.0 351.8L370.0 350.6L371.0 349.3L372.0 347.5L373.0 346.0L374.0 344.6L375.0 344.0L376.0 345.6L377.0 346.5L378.0 349.2L379.0 351.3L380.0 353.4L381.0 354.8L382.0 356.7L383.0 358.4L384.0 359.9L385.0 361.7L386.0 362.4L387.0 363.2L388.0 364.5L389.0 364.9L390.0 365.5L391.0 366.6L392.0 367.2L393.0 367.1L394.0 368.3L395.0 368.7L396.0 368.8L397.0 369.1L398.0 369.3L399.0 369.6L400.0 369.4L401.0 369.9L402.0 369.8L403.0 370.3L404.0 370.2L405.0 370.4L406.0 370.4L407.0 370.5L408.0 369.6L409.0 369.2L410.0 369.5L411.0 369.5L412.0 368.7L413.0 368.4L414.0 368.2L415.0 367.4L416.0 366.8L417.0 365.3L418.0 364.9L419.0 363.4L420.0 362.5L421.0 361.7L422.0 360.8L423.0 359.5L424.0 360.5L425.0 361.8L426.0 363.0L427.0 364.6L428.0 366.3L429.0 368.2L430.0 370.0L431.0 370.5L432.0 369.8L433.0 370.9L434.0 370.9L435.0 370.8L436.0 371.0L437.0 370.8L438.0 371.4L439.0 371.6L440.0 371.4L441.0 371.0L442.0 370.8L443.0 370.3L444.0 370.0L445.0 370.0L446.0 369.8L447.0 369.1L448.0 368.4L449.0 368.1L450.0 367.4L451.0 365.8L452.0 364.3L453.0 363.5L454.0 362.2L455.0 361.2L456.0 360.0L457.0 360.2L458.0 361.0L459.0 361.5L460.0 361.4L461.0 361.7L462.0 360.6L463.0 360.1L464.0 359.0L465.0 358.2L466.0 357.9L467.0 357.0L468.0 358.9L469.0 360.2L470.0 362.0L471.0 362.9L472.0 365.1L473.0 366.1L474.0 367.5L475.0 368.8L476.0 369.7L477.0 370.3L478.0 371.4L479.0 371.3L480.0 372.5L481.0 373.3L482.0 373.3L483.0 373.4L484.0 374.2L485.0 374.5L486.0 374.6L487.0 374.3L488.0 375.3L489.0 375.4L490.0 375.8L491.0 375.8L492.0 375.9L493.0 375.1L494.0 375.7L495.0 375.1L496.0 375.0L497.0 374.6L498.0 375.0L499.0 374.3L500.0 374.1L501.0 374.0L502.0 374.1L503.0 373.0L504.0 372.8L505.0 372.7L506.0 371.8L507.0 371.3L508.0 370.3L509.0 369.8L510.0 368.6L511.0 367.7L512.0 367.4L513.0 365.6L514.0 363.9L515.0 361.5L516.0 360.0L517.0 357.7L518.0 356.5L519.0 354.5L520.0 355.6L521.0 357.9L522.0 359.0L523.0 361.4L524.0 363.1L525.0 365.7L526.0 366.5L527.0 367.1L528.0 368.1L529.0 369.3L530.0 370.7L531.0 371.7L532.0 372.2L533.0 373.2L534.0 373.9L535.0 374.6L536.0 375.4L537.0 376.3L538.0 376.9L539.0 377.6L540.0 378.5L541.0 379.3L542.0 379.3L543.0 379.9L544.0 380.7L545.0 381.0L546.0 381.7L547.0 381.2L548.0 381.5L549.0 381.7L550.0 381.6L551.0 382.0L552.0 382.6L553.0 382.5L554.0 382.2L555.0 382.6L556.0 382.4L557.0 382.7L558.0 383.0L559.0 382.4L560.0 382.8L561.0 381.9L562.0 381.0L563.0 381.4L564.0 382.5L565.0 383.0L566.0 383.3L567.0 383.0L568.0 383.2L569.0 383.4L570.0 383.6L571.0 384.3L572.0 384.4L573.0 384.5L574.0 384.2L575.0 384.5L576.0 384.9L577.0 385.0L578.0 385.7L579.0 386.6L580.0 386.5L581.0 386.3L582.0 386.8L583.0 386.8L584.0 387.6L585.0 387.3L586.0 387.7L587.0 387.5L588.0 388.3L589.0 388.3L590.0 388.5L591.0 389.0L592.0 389.1L593.0 389.2L594.0 388.9L595.0 389.1L596.0 389.6L597.0 389.2L598.0 390.3L599.0 390.2L600.0 390.2L601.0 390.2L602.0 390.1L603.0 390.7L604.0 391.1L605.0 391.0L606.0 390.8L607.0 390.9L608.0 391.6L609.0 391.5L610.0 392.0L611.0 391.7L612.0 392.4L613.0 392.4L614.0 392.0L615.0 392.4L616.0 392.6L617.0 392.6L618.0 393.1L619.0 393.1L620.0 393.0L621.0 393.4L622.0 392.9L623.0 393.2L624.0 393.3L625.0 393.4L626.0 392.9L627.0 393.8L628.0 393.5L629.0 393.3L630.0 394.0L631.0 393.8L632.0 394.0L633.0 394.1L634.0 394.1L635.0 394.0L636.0 394.4L637.0 393.6L638.0 393.9L639.0 393.8L640.0 394.3L641.0 393.9L642.0 393.8L643.0 393.9L644.0 394.0L645.0 394.4L646.0 394.3L647.0 394.4L648.0 393.9L649.0 394.5L650.0 394.5L651.0 394.1L652.0 393.8L653.0 393.6L654.0 393.5L655.0 393.6L656.0 393.5L657.0 392.8L658.0 392.7L659.0 392.0L660.0 392.1L661.0 391.5L662.0 392.5L663.0 392.6L664.0 392.9L665.0 394.0L666.0 394.8L667.0 394.2L668.0 395.0L669.0 395.4L670.0 395.4L671.0 396.1L672.0 396.0L673.0 395.7L674.0 396.4L675.0 396.7L676.0 396.8L677.0 396.8L678.0 396.5L679.0 396.6L680.0 397.1L681.0 396.7L682.0 396.7L683.0 397.0" stroke="#3dbb7e"/><g fill="#3dbb7e" stroke="none"><circle cx="359.7" cy="358.3" r="2.2"/><circle cx="361.7" cy="356.1" r="2.6"/><circle cx="362.5" cy="357.8" r="2.4"/><circle cx="364.8" cy="356.2" r="2.1"/><circle cx="365.5" cy="355.0" r="2.7"/><circle cx="366.3" cy="354.5" r="2.8"/><circle cx="369.2" cy="351.1" r="2.6"/><circle cx="370.5" cy="349.0" r="2.2"/><circle cx="371.4" cy="347.1" r="2.5"/><circle cx="373.2" cy="346.4" r="2.4"/><circle cx="374.7" cy="344.6" r="2.5"/><circle cx="376.3" cy="346.3" r="2.6"/><circle cx="380.8" cy="354.7" r="2.8"/><circle cx="381.9" cy="356.4" r="2.3"/><circle cx="382.5" cy="358.2" r="2.4"/><circle cx="384.7" cy="361.2" r="2.5"/><circle cx="386.8" cy="362.7" r="2.1"/><circle cx="389.1" cy="364.3" r="2.4"/><circle cx="391.9" cy="366.1" r="2.5"/><circle cx="394.3" cy="368.3" r="2.2"/><circle cx="395.2" cy="368.6" r="2.6"/><circle cx="396.4" cy="370.5" r="2.6"/><circle cx="398.2" cy="368.1" r="2.7"/><circle cx="399.3" cy="368.9" r="2.4"/><circle cx="400.5" cy="370.3" r="2.2"/><circle cx="401.1" cy="369.7" r="2.8"/><circle cx="404.1" cy="369.9" r="2.5"/><circle cx="405.7" cy="369.2" r="2.5"/><circle cx="406.4" cy="370.2" r="2.7"/><circle cx="407.4" cy="369.3" r="2.1"/><circle cx="409.5" cy="369.5" r="2.3"/><circle cx="410.2" cy="370.2" r="2.6"/><circle cx="411.2" cy="369.5" r="2.2"/><circle cx="412.6" cy="368.6" r="2.7"/><circle cx="412.8" cy="367.5" r="2.1"/><circle cx="415.3" cy="367.6" r="2.1"/><circle cx="415.9" cy="366.5" r="2.5"/><circle cx="416.9" cy="365.5" r="2.6"/><circle cx="418.8" cy="364.4" r="2.4"/><circle cx="419.0" cy="362.6" r="2.8"/><circle cx="421.5" cy="361.9" r="2.5"/><circle cx="422.3" cy="360.0" r="2.6"/><circle cx="423.2" cy="359.2" r="2.2"/><circle cx="425.0" cy="361.6" r="2.3"/><circle cx="426.5" cy="362.7" r="2.7"/><circle cx="428.3" cy="368.3" r="2.6"/><circle cx="429.5" cy="368.6" r="2.5"/><circle cx="429.9" cy="370.3" r="2.5"/><circle cx="430.7" cy="369.9" r="2.3"/><circle cx="432.0" cy="369.9" r="2.7"/><circle cx="433.4" cy="370.2" r="2.3"/><circle cx="434.6" cy="370.8" r="2.5"/><circle cx="440.3" cy="371.1" r="2.8"/><circle cx="440.7" cy="370.8" r="2.7"/><circle cx="443.6" cy="371.0" r="2.4"/><circle cx="444.9" cy="370.0" r="2.6"/><circle cx="445.9" cy="369.2" r="2.1"/><circle cx="446.0" cy="369.5" r="2.3"/><circle cx="446.9" cy="368.3" r="2.5"/><circle cx="448.0" cy="368.1" r="2.6"/><circle cx="449.3" cy="369.0" r="2.4"/><circle cx="449.9" cy="367.0" r="2.3"/><circle cx="451.7" cy="365.6" r="2.1"/><circle cx="452.6" cy="364.0" r="2.5"/><circle cx="453.3" cy="363.3" r="2.7"/><circle cx="455.5" cy="360.0" r="2.4"/><circle cx="457.0" cy="360.4" r="2.1"/><circle cx="459.2" cy="361.5" r="2.3"/><circle cx="459.6" cy="361.0" r="2.7"/><circle cx="461.0" cy="361.2" r="2.4"/><circle cx="461.6" cy="360.0" r="2.5"/><circle cx="463.7" cy="359.6" r="2.6"/><circle cx="465.5" cy="358.5" r="2.1"/><circle cx="465.8" cy="357.4" r="2.4"/><circle cx="467.1" cy="356.5" r="2.6"/><circle cx="469.8" cy="361.7" r="2.4"/><circle cx="470.4" cy="362.9" r="2.7"/><circle cx="471.4" cy="364.1" r="2.4"/><circle cx="472.6" cy="365.9" r="2.6"/><circle cx="473.2" cy="366.9" r="2.3"/><circle cx="474.6" cy="367.8" r="2.4"/><circle cx="475.1" cy="368.3" r="2.3"/><circle cx="476.3" cy="369.3" r="2.7"/><circle cx="476.9" cy="370.7" r="2.7"/><circle cx="477.5" cy="371.2" r="2.5"/><circle cx="480.6" cy="371.8" r="2.3"/><circle cx="481.4" cy="373.5" r="2.5"/><circle cx="482.3" cy="374.0" r="2.8"/><circle cx="483.6" cy="373.2" r="2.4"/><circle cx="484.0" cy="373.7" r="2.5"/><circle cx="486.1" cy="374.2" r="2.8"/><circle cx="487.2" cy="373.6" r="2.6"/><circle cx="487.5" cy="374.7" r="2.5"/><circle cx="491.8" cy="375.7" r="2.3"/><circle cx="496.2" cy="374.5" r="2.8"/><circle cx="498.0" cy="374.9" r="2.7"/><circle cx="498.8" cy="374.8" r="2.4"/><circle cx="499.4" cy="374.2" r="2.5"/><circle cx="501.8" cy="373.9" r="2.2"/><circle cx="503.6" cy="372.9" r="2.2"/><circle cx="505.8" cy="372.1" r="2.3"/><circle cx="507.1" cy="371.6" r="2.5"/><circle cx="507.3" cy="371.5" r="2.3"/><circle cx="508.3" cy="370.1" r="2.7"/><circle cx="512.4" cy="367.3" r="2.5"/><circle cx="514.8" cy="362.5" r="2.3"/><circle cx="515.8" cy="359.9" r="2.2"/><circle cx="518.4" cy="354.8" r="2.2"/><circle cx="519.8" cy="356.8" r="2.3"/><circle cx="521.7" cy="358.5" r="2.6"/><circle cx="525.5" cy="365.9" r="2.6"/><circle cx="528.5" cy="369.3" r="2.4"/><circle cx="529.1" cy="369.4" r="2.7"/><circle cx="531.0" cy="371.8" r="2.3"/><circle cx="532.1" cy="372.6" r="2.6"/><circle cx="533.9" cy="374.2" r="2.2"/><circle cx="534.9" cy="374.5" r="2.8"/><circle cx="537.4" cy="376.3" r="2.6"/><circle cx="539.4" cy="378.0" r="2.4"/><circle cx="540.3" cy="379.4" r="2.6"/><circle cx="541.8" cy="380.4" r="2.2"/><circle cx="543.1" cy="379.1" r="2.3"/><circle cx="543.9" cy="380.9" r="2.3"/><circle cx="544.5" cy="380.7" r="2.4"/><circle cx="545.8" cy="380.6" r="2.7"/><circle cx="547.2" cy="382.0" r="2.6"/><circle cx="550.5" cy="382.2" r="2.4"/><circle cx="551.7" cy="382.3" r="2.2"/><circle cx="554.2" cy="382.1" r="2.4"/><circle cx="556.2" cy="381.6" r="2.3"/><circle cx="558.1" cy="383.1" r="2.5"/><circle cx="558.9" cy="382.4" r="2.7"/><circle cx="560.6" cy="381.8" r="2.6"/><circle cx="561.8" cy="381.0" r="2.1"/><circle cx="562.7" cy="381.7" r="2.4"/><circle cx="563.7" cy="382.5" r="2.1"/><circle cx="564.6" cy="383.2" r="2.8"/><circle cx="565.2" cy="382.7" r="2.6"/><circle cx="568.8" cy="384.1" r="2.6"/><circle cx="569.8" cy="382.6" r="2.8"/><circle cx="570.7" cy="384.5" r="2.2"/><circle cx="572.2" cy="384.2" r="2.6"/><circle cx="572.9" cy="383.8" r="2.6"/><circle cx="575.3" cy="384.6" r="2.5"/><circle cx="575.8" cy="385.4" r="2.1"/><circle cx="577.9" cy="385.7" r="2.4"/><circle cx="578.8" cy="385.1" r="2.5"/><circle cx="579.6" cy="386.2" r="2.8"/><circle cx="582.4" cy="386.7" r="2.6"/><circle cx="583.0" cy="386.8" r="2.6"/><circle cx="586.3" cy="386.8" r="2.7"/><circle cx="586.5" cy="388.0" r="2.4"/><circle cx="587.3" cy="388.4" r="2.6"/><circle cx="589.3" cy="388.3" r="2.4"/><circle cx="590.3" cy="388.2" r="2.7"/><circle cx="591.0" cy="389.2" r="2.5"/><circle cx="592.5" cy="388.7" r="2.7"/><circle cx="594.9" cy="389.6" r="2.6"/><circle cx="595.6" cy="389.6" r="2.6"/><circle cx="597.8" cy="390.4" r="2.2"/><circle cx="599.2" cy="390.8" r="2.4"/><circle cx="600.2" cy="390.0" r="2.5"/><circle cx="601.4" cy="389.9" r="2.2"/><circle cx="601.9" cy="391.2" r="2.2"/><circle cx="603.2" cy="391.6" r="2.5"/><circle cx="603.8" cy="391.6" r="2.7"/><circle cx="604.6" cy="390.6" r="2.2"/><circle cx="606.3" cy="392.1" r="2.7"/><circle cx="607.3" cy="390.7" r="2.7"/><circle cx="608.2" cy="392.1" r="2.5"/><circle cx="609.0" cy="391.7" r="2.5"/><circle cx="611.7" cy="392.4" r="2.3"/><circle cx="613.6" cy="392.7" r="2.3"/><circle cx="616.6" cy="392.2" r="2.4"/><circle cx="617.4" cy="392.5" r="2.5"/><circle cx="618.3" cy="393.2" r="2.2"/><circle cx="619.5" cy="393.3" r="2.5"/><circle cx="622.2" cy="394.0" r="2.5"/><circle cx="622.5" cy="392.3" r="2.4"/><circle cx="623.7" cy="393.0" r="2.7"/><circle cx="625.4" cy="392.4" r="2.1"/><circle cx="626.6" cy="393.5" r="2.1"/><circle cx="627.4" cy="393.1" r="2.7"/><circle cx="628.6" cy="392.6" r="2.3"/><circle cx="629.2" cy="393.5" r="2.2"/><circle cx="632.6" cy="394.5" r="2.3"/><circle cx="633.4" cy="394.1" r="2.7"/><circle cx="635.2" cy="393.8" r="2.3"/><circle cx="636.5" cy="395.2" r="2.6"/><circle cx="637.2" cy="394.6" r="2.3"/><circle cx="639.3" cy="394.6" r="2.1"/><circle cx="640.6" cy="394.3" r="2.7"/><circle cx="642.2" cy="394.8" r="2.7"/><circle cx="647.3" cy="395.5" r="2.3"/><circle cx="649.1" cy="394.1" r="2.4"/><circle cx="649.5" cy="395.0" r="2.4"/><circle cx="650.5" cy="394.1" r="2.7"/><circle cx="653.7" cy="393.9" r="2.2"/><circle cx="656.1" cy="393.5" r="2.8"/><circle cx="656.8" cy="394.0" r="2.6"/><circle cx="657.7" cy="392.2" r="2.2"/><circle cx="659.1" cy="391.9" r="2.3"/><circle cx="659.3" cy="391.8" r="2.1"/><circle cx="660.6" cy="392.3" r="2.1"/><circle cx="662.7" cy="392.5" r="2.3"/><circle cx="666.6" cy="394.0" r="2.7"/><circle cx="667.8" cy="394.6" r="2.4"/><circle cx="669.3" cy="395.9" r="2.7"/><circle cx="670.8" cy="395.6" r="2.5"/><circle cx="671.5" cy="394.8" r="2.8"/><circle cx="672.5" cy="395.2" r="2.6"/><circle cx="674.7" cy="396.2" r="2.3"/><circle cx="675.7" cy="395.9" r="2.2"/><circle cx="676.8" cy="396.0" r="2.8"/><circle cx="677.7" cy="396.9" r="2.4"/><circle cx="679.3" cy="396.2" r="2.2"/><circle cx="680.0" cy="396.7" r="2.3"/><circle cx="681.3" cy="396.6" r="2.6"/></g>
</g>
<circle cx="531.6" cy="374.5" r="2.2" fill="#a22ab9"/>
<circle cx="531.6" cy="381.9" r="2.2" fill="#a22ab9"/>
<circle cx="531.4" cy="292.3" r="2.2" fill="#a22ab9"/>
<circle cx="575" cy="215.2" r="2.2" fill="#3dbb7e"/>
<circle cx="531.6" cy="213" r="2.2" fill="#3dbb7e"/>
<circle cx="531.8" cy="215.5" r="2.2" fill="#3dbb7e"/>
<circle cx="531.6" cy="218" r="2.2" fill="#3dbb7e"/>
<circle cx="531.4" cy="283.2" r="2.2" fill="#3dbb7e"/>
<circle cx="531.6" cy="285" r="2.2" fill="#3dbb7e"/>
<circle cx="531.6" cy="295.5" r="2.2" fill="#3dbb7e"/>
<circle cx="531.6" cy="341.5" r="2.2" fill="#3dbb7e"/>
<circle cx="531.7" cy="343.6" r="2.2" fill="#3dbb7e"/>
<circle cx="531.6" cy="352" r="2.2" fill="#3dbb7e"/>
<circle cx="531.6" cy="364.4" r="2.2" fill="#3dbb7e"/>
<line x1="375.4" y1="61.2" x2="375.4" y2="414" stroke="#000" stroke-width="2.1" stroke-dasharray="4.1 4.65"/>
<line x1="423.0" y1="61.2" x2="423.0" y2="414" stroke="#000" stroke-width="2.1" stroke-dasharray="4.1 4.65"/>
<line x1="456.1" y1="37.0" x2="456.1" y2="414" stroke="#000" stroke-width="2.1" stroke-dasharray="4.1 4.65"/>
<line x1="467.2" y1="77.0" x2="467.2" y2="414" stroke="#000" stroke-width="2.1" stroke-dasharray="4.1 4.65"/>
<text x="315.83" y="104.00" font-family='"Liberation Sans", sans-serif' font-size="21.6" fill="#2f5fc6" stroke="#2f5fc6" stroke-width="0.25"> 0</text><path transform="translate(315.83 104.00) scale(0.01055 -0.01055)" d="M515 0L696 0L696 1409L530 1409L197 1180L197 1010L515 1237Z" fill="#2f5fc6" stroke="#2f5fc6" stroke-width="23.7" stroke-linejoin="round"/><text x="339.86" y="93.50" font-family='"Liberation Sans", sans-serif' font-size="16.8" fill="#2f5fc6" stroke="#2f5fc6" stroke-width="0.25">0</text>
<text x="310.24" y="169.00" font-family='"Liberation Sans", sans-serif' font-size="21.6" fill="#2f5fc6" stroke="#2f5fc6" stroke-width="0.25"> 0</text><path transform="translate(310.24 169.00) scale(0.01055 -0.01055)" d="M515 0L696 0L696 1409L530 1409L197 1180L197 1010L515 1237Z" fill="#2f5fc6" stroke="#2f5fc6" stroke-width="23.7" stroke-linejoin="round"/><text x="334.26" y="158.50" font-family='"Liberation Sans", sans-serif' font-size="16.8" fill="#2f5fc6" stroke="#2f5fc6" stroke-width="0.25">-2</text>
<text x="310.24" y="204.10" font-family='"Liberation Sans", sans-serif' font-size="21.6" fill="#2f5fc6" stroke="#2f5fc6" stroke-width="0.25"> 0</text><path transform="translate(310.24 204.10) scale(0.01055 -0.01055)" d="M515 0L696 0L696 1409L530 1409L197 1180L197 1010L515 1237Z" fill="#2f5fc6" stroke="#2f5fc6" stroke-width="23.7" stroke-linejoin="round"/><text x="334.26" y="193.60" font-family='"Liberation Sans", sans-serif' font-size="16.8" fill="#2f5fc6" stroke="#2f5fc6" stroke-width="0.25">- </text><path transform="translate(339.86 193.60) scale(0.00820 -0.00820)" d="M515 0L696 0L696 1409L530 1409L197 1180L197 1010L515 1237Z" fill="#2f5fc6" stroke="#2f5fc6" stroke-width="30.5" stroke-linejoin="round"/>
<text x="310.24" y="254.90" font-family='"Liberation Sans", sans-serif' font-size="21.6" fill="#2f5fc6" stroke="#2f5fc6" stroke-width="0.25"> 0</text><path transform="translate(310.24 254.90) scale(0.01055 -0.01055)" d="M515 0L696 0L696 1409L530 1409L197 1180L197 1010L515 1237Z" fill="#2f5fc6" stroke="#2f5fc6" stroke-width="23.7" stroke-linejoin="round"/><text x="334.26" y="244.40" font-family='"Liberation Sans", sans-serif' font-size="16.8" fill="#2f5fc6" stroke="#2f5fc6" stroke-width="0.25">-3</text>
<text x="310.24" y="286.90" font-family='"Liberation Sans", sans-serif' font-size="21.6" fill="#2f5fc6" stroke="#2f5fc6" stroke-width="0.25"> 0</text><path transform="translate(310.24 286.90) scale(0.01055 -0.01055)" d="M515 0L696 0L696 1409L530 1409L197 1180L197 1010L515 1237Z" fill="#2f5fc6" stroke="#2f5fc6" stroke-width="23.7" stroke-linejoin="round"/><text x="334.26" y="276.40" font-family='"Liberation Sans", sans-serif' font-size="16.8" fill="#2f5fc6" stroke="#2f5fc6" stroke-width="0.25">- </text><path transform="translate(339.86 276.40) scale(0.00820 -0.00820)" d="M515 0L696 0L696 1409L530 1409L197 1180L197 1010L515 1237Z" fill="#2f5fc6" stroke="#2f5fc6" stroke-width="30.5" stroke-linejoin="round"/>
<text x="310.24" y="338.00" font-family='"Liberation Sans", sans-serif' font-size="21.6" fill="#2f5fc6" stroke="#2f5fc6" stroke-width="0.25"> 0</text><path transform="translate(310.24 338.00) scale(0.01055 -0.01055)" d="M515 0L696 0L696 1409L530 1409L197 1180L197 1010L515 1237Z" fill="#2f5fc6" stroke="#2f5fc6" stroke-width="23.7" stroke-linejoin="round"/><text x="334.26" y="327.50" font-family='"Liberation Sans", sans-serif' font-size="16.8" fill="#2f5fc6" stroke="#2f5fc6" stroke-width="0.25">-3</text>
<text x="310.24" y="377.30" font-family='"Liberation Sans", sans-serif' font-size="21.6" fill="#2f5fc6" stroke="#2f5fc6" stroke-width="0.25"> 0</text><path transform="translate(310.24 377.30) scale(0.01055 -0.01055)" d="M515 0L696 0L696 1409L530 1409L197 1180L197 1010L515 1237Z" fill="#2f5fc6" stroke="#2f5fc6" stroke-width="23.7" stroke-linejoin="round"/><text x="334.26" y="366.80" font-family='"Liberation Sans", sans-serif' font-size="16.8" fill="#2f5fc6" stroke="#2f5fc6" stroke-width="0.25">-2</text>
<text x="310.24" y="410.50" font-family='"Liberation Sans", sans-serif' font-size="21.6" fill="#2f5fc6" stroke="#2f5fc6" stroke-width="0.25"> 0</text><path transform="translate(310.24 410.50) scale(0.01055 -0.01055)" d="M515 0L696 0L696 1409L530 1409L197 1180L197 1010L515 1237Z" fill="#2f5fc6" stroke="#2f5fc6" stroke-width="23.7" stroke-linejoin="round"/><text x="334.26" y="400.00" font-family='"Liberation Sans", sans-serif' font-size="16.8" fill="#2f5fc6" stroke="#2f5fc6" stroke-width="0.25">-4</text>
<text x="402.2" y="445.6" font-family='"Liberation Sans", sans-serif' font-size="21.6" fill="#2f5fc6" text-anchor="middle" stroke="#2f5fc6" stroke-width="0.25" >20</text>
<text x="488.6" y="445.6" font-family='"Liberation Sans", sans-serif' font-size="21.6" fill="#2f5fc6" text-anchor="middle" stroke="#2f5fc6" stroke-width="0.25" >40</text>
<text x="575.1" y="445.6" font-family='"Liberation Sans", sans-serif' font-size="21.6" fill="#2f5fc6" text-anchor="middle" stroke="#2f5fc6" stroke-width="0.25" >60</text>
<text x="660.8" y="445.6" font-family='"Liberation Sans", sans-serif' font-size="21.6" fill="#2f5fc6" text-anchor="middle" stroke="#2f5fc6" stroke-width="0.25" >80</text>
<text transform="translate(595.56 102.30) scale(0.9830 1)" font-family='"Liberation Serif", serif' font-size="23.3" fill="#2f5fc6" stroke="#2f5fc6" stroke-width="0.356">Particle 1</text>
<text transform="translate(593.95 186.40) scale(1.0050 1)" font-family='"Liberation Serif", serif' font-size="23.3" fill="#2f5fc6" stroke="#2f5fc6" stroke-width="0.348">Particle 2</text>
<text transform="translate(594.76 270.70) scale(0.9860 1)" font-family='"Liberation Serif", serif' font-size="23.3" fill="#2f5fc6" stroke="#2f5fc6" stroke-width="0.355">Particle 3</text>
<text transform="translate(593.55 355.00) scale(0.9940 1)" font-family='"Liberation Serif", serif' font-size="23.3" fill="#2f5fc6" stroke="#2f5fc6" stroke-width="0.352">Particle 4</text>
<g transform="translate(618.00 108.00)" fill="none" stroke="#3dbb7e" stroke-linecap="round"><path d="M3.1 5.4 C3.6 3.6 4.6 2.7 5.6 3.0 C7.0 3.5 6.2 7.5 6.0 10.5 C5.9 12.3 6.6 13.0 7.6 13.0 C8.8 13.0 10.5 12.0 11.6 9.6" stroke-width="1.6"/><path d="M14.2 3.3 C13.5 7.5 12.5 12.5 11.0 15.0 C10.0 16.8 8.5 17.6 7.2 17.6 C5.9 17.6 4.9 17.1 4.7 16.4" stroke-width="1.6"/><circle cx="4.9" cy="15.6" r="1.0" fill="#3dbb7e" stroke="none"/></g>
<g transform="translate(652.00 120.00)" fill="none" stroke="#a22ab9" stroke-linecap="round"><path d="M5.2 6.0 C5.8 4.3 7.0 4.1 8.2 4.4 C9.5 4.8 11.0 4.6 13.5 3.7" stroke-width="1.5"/><path d="M13.5 4.0 L3.6 14.2" stroke-width="1.15"/><path d="M5.4 12.4 C6.5 13.5 8.0 13.6 9.5 13.4 C11.0 13.0 12.5 11.8 13.1 10.5" stroke-width="1.5"/></g>
<g transform="translate(576.35 186.75)" fill="none" stroke="#3dbb7e" stroke-linecap="round"><path d="M3.1 5.4 C3.6 3.6 4.6 2.7 5.6 3.0 C7.0 3.5 6.2 7.5 6.0 10.5 C5.9 12.3 6.6 13.0 7.6 13.0 C8.8 13.0 10.5 12.0 11.6 9.6" stroke-width="1.6"/><path d="M14.2 3.3 C13.5 7.5 12.5 12.5 11.0 15.0 C10.0 16.8 8.5 17.6 7.2 17.6 C5.9 17.6 4.9 17.1 4.7 16.4" stroke-width="1.6"/><circle cx="4.9" cy="15.6" r="1.0" fill="#3dbb7e" stroke="none"/></g>
<g transform="translate(639.00 198.30)" fill="none" stroke="#a22ab9" stroke-linecap="round"><path d="M5.2 6.0 C5.8 4.3 7.0 4.1 8.2 4.4 C9.5 4.8 11.0 4.6 13.5 3.7" stroke-width="1.5"/><path d="M13.5 4.0 L3.6 14.2" stroke-width="1.15"/><path d="M5.4 12.4 C6.5 13.5 8.0 13.6 9.5 13.4 C11.0 13.0 12.5 11.8 13.1 10.5" stroke-width="1.5"/></g>
<g transform="translate(554.60 272.85)" fill="none" stroke="#3dbb7e" stroke-linecap="round"><path d="M3.1 5.4 C3.6 3.6 4.6 2.7 5.6 3.0 C7.0 3.5 6.2 7.5 6.0 10.5 C5.9 12.3 6.6 13.0 7.6 13.0 C8.8 13.0 10.5 12.0 11.6 9.6" stroke-width="1.6"/><path d="M14.2 3.3 C13.5 7.5 12.5 12.5 11.0 15.0 C10.0 16.8 8.5 17.6 7.2 17.6 C5.9 17.6 4.9 17.1 4.7 16.4" stroke-width="1.6"/><circle cx="4.9" cy="15.6" r="1.0" fill="#3dbb7e" stroke="none"/></g>
<g transform="translate(573.40 269.20)" fill="none" stroke="#a22ab9" stroke-linecap="round"><path d="M5.2 6.0 C5.8 4.3 7.0 4.1 8.2 4.4 C9.5 4.8 11.0 4.6 13.5 3.7" stroke-width="1.5"/><path d="M13.5 4.0 L3.6 14.2" stroke-width="1.15"/><path d="M5.4 12.4 C6.5 13.5 8.0 13.6 9.5 13.4 C11.0 13.0 12.5 11.8 13.1 10.5" stroke-width="1.5"/></g>
<g transform="translate(503.85 334.35)" fill="none" stroke="#3dbb7e" stroke-linecap="round"><path d="M3.1 5.4 C3.6 3.6 4.6 2.7 5.6 3.0 C7.0 3.5 6.2 7.5 6.0 10.5 C5.9 12.3 6.6 13.0 7.6 13.0 C8.8 13.0 10.5 12.0 11.6 9.6" stroke-width="1.6"/><path d="M14.2 3.3 C13.5 7.5 12.5 12.5 11.0 15.0 C10.0 16.8 8.5 17.6 7.2 17.6 C5.9 17.6 4.9 17.1 4.7 16.4" stroke-width="1.6"/><circle cx="4.9" cy="15.6" r="1.0" fill="#3dbb7e" stroke="none"/></g>
<g transform="translate(423.90 333.20)" fill="none" stroke="#a22ab9" stroke-linecap="round"><path d="M5.2 6.0 C5.8 4.3 7.0 4.1 8.2 4.4 C9.5 4.8 11.0 4.6 13.5 3.7" stroke-width="1.5"/><path d="M13.5 4.0 L3.6 14.2" stroke-width="1.15"/><path d="M5.4 12.4 C6.5 13.5 8.0 13.6 9.5 13.4 C11.0 13.0 12.5 11.8 13.1 10.5" stroke-width="1.5"/></g>
<text transform="translate(439.45 473.50)" font-family='"Liberation Serif", serif' font-size="25.8" fill="#2f5fc6">Frequency (Hz)</text>
<text transform="translate(299.60 346.28) rotate(-90) scale(1.0370 1)" font-family='"Liberation Serif", serif' font-size="25.8" fill="#2f5fc6">Position PSD (arb.)</text>
<g transform="translate(364.20 38.80)" stroke="#000" fill="none" stroke-linecap="round"><path d="M6.7 1.2 C6.2 4.1 5.6 7.0 5.0 9.8" stroke-width="1.9"/><path d="M0.5 3.5 C1.3 1.6 3.0 0.6 4.6 0.6 C5.6 0.6 6.3 0.9 6.7 1.5" stroke-width="1.1"/><path d="M6.7 1.5 C7.3 0.8 8.3 0.5 9.2 0.5 C10.1 0.5 10.9 0.8 11.1 1.3" stroke-width="1.1"/><circle cx="10.5" cy="2.3" r="1.3" fill="#000" stroke="none"/><path d="M5.0 9.6 C4.6 10.4 3.6 10.8 2.6 10.8 C1.8 10.8 1.1 10.4 0.9 9.8" stroke-width="1.1"/><circle cx="1.2" cy="9.0" r="1.3" fill="#000" stroke="none"/><path d="M5.0 9.6 C5.4 10.5 6.2 10.8 7.2 10.8 C8.8 10.8 10.4 9.4 11.2 7.6" stroke-width="1.0"/></g><text transform="translate(377.48 53.26) scale(1.2300 1)" font-family='"Liberation Serif", serif' font-size="18.2" fill="#000" font-style="italic">C</text>
<text transform="translate(376.34 33.76)" font-family='"Liberation Sans", sans-serif' font-size="15.8" fill="#000">(</text><text transform="translate(389.86 33.76)" font-family='"Liberation Sans", sans-serif' font-size="15.8" fill="#000">)</text><text x="382.05" y="33.50" font-family='"Liberation Sans", sans-serif' font-size="13.3" fill="#000" stroke="#000" stroke-width="0.25"> </text><path transform="translate(382.05 33.50) scale(0.00649 -0.00649)" d="M515 0L696 0L696 1409L530 1409L197 1180L197 1010L515 1237Z" fill="#000" stroke="#000" stroke-width="38.5" stroke-linejoin="round"/>
<g transform="translate(408.75 38.80)" stroke="#000" fill="none" stroke-linecap="round"><path d="M6.7 1.2 C6.2 4.1 5.6 7.0 5.0 9.8" stroke-width="1.9"/><path d="M0.5 3.5 C1.3 1.6 3.0 0.6 4.6 0.6 C5.6 0.6 6.3 0.9 6.7 1.5" stroke-width="1.1"/><path d="M6.7 1.5 C7.3 0.8 8.3 0.5 9.2 0.5 C10.1 0.5 10.9 0.8 11.1 1.3" stroke-width="1.1"/><circle cx="10.5" cy="2.3" r="1.3" fill="#000" stroke="none"/><path d="M5.0 9.6 C4.6 10.4 3.6 10.8 2.6 10.8 C1.8 10.8 1.1 10.4 0.9 9.8" stroke-width="1.1"/><circle cx="1.2" cy="9.0" r="1.3" fill="#000" stroke="none"/><path d="M5.0 9.6 C5.4 10.5 6.2 10.8 7.2 10.8 C8.8 10.8 10.4 9.4 11.2 7.6" stroke-width="1.0"/></g><text transform="translate(422.03 53.26) scale(1.2300 1)" font-family='"Liberation Serif", serif' font-size="18.2" fill="#000" font-style="italic">C</text>
<text transform="translate(420.89 33.76)" font-family='"Liberation Sans", sans-serif' font-size="15.8" fill="#000">(</text><text transform="translate(434.41 33.76)" font-family='"Liberation Sans", sans-serif' font-size="15.8" fill="#000">)</text><text x="426.60" y="33.50" font-family='"Liberation Sans", sans-serif' font-size="13.3" fill="#000" stroke="#000" stroke-width="0.25">2</text>
<g transform="translate(450.90 18.75)" stroke="#000" fill="none" stroke-linecap="round"><path d="M6.7 1.2 C6.2 4.1 5.6 7.0 5.0 9.8" stroke-width="1.9"/><path d="M0.5 3.5 C1.3 1.6 3.0 0.6 4.6 0.6 C5.6 0.6 6.3 0.9 6.7 1.5" stroke-width="1.1"/><path d="M6.7 1.5 C7.3 0.8 8.3 0.5 9.2 0.5 C10.1 0.5 10.9 0.8 11.1 1.3" stroke-width="1.1"/><circle cx="10.5" cy="2.3" r="1.3" fill="#000" stroke="none"/><path d="M5.0 9.6 C4.6 10.4 3.6 10.8 2.6 10.8 C1.8 10.8 1.1 10.4 0.9 9.8" stroke-width="1.1"/><circle cx="1.2" cy="9.0" r="1.3" fill="#000" stroke="none"/><path d="M5.0 9.6 C5.4 10.5 6.2 10.8 7.2 10.8 C8.8 10.8 10.4 9.4 11.2 7.6" stroke-width="1.0"/></g><text transform="translate(464.18 33.21) scale(1.2300 1)" font-family='"Liberation Serif", serif' font-size="18.2" fill="#000" font-style="italic">C</text>
<text transform="translate(463.04 13.71)" font-family='"Liberation Sans", sans-serif' font-size="15.8" fill="#000">(</text><text transform="translate(476.56 13.71)" font-family='"Liberation Sans", sans-serif' font-size="15.8" fill="#000">)</text><text x="468.75" y="13.45" font-family='"Liberation Sans", sans-serif' font-size="13.3" fill="#000" stroke="#000" stroke-width="0.25">3</text>
<g transform="translate(462.20 59.70)" stroke="#000" fill="none" stroke-linecap="round"><path d="M6.7 1.2 C6.2 4.1 5.6 7.0 5.0 9.8" stroke-width="1.9"/><path d="M0.5 3.5 C1.3 1.6 3.0 0.6 4.6 0.6 C5.6 0.6 6.3 0.9 6.7 1.5" stroke-width="1.1"/><path d="M6.7 1.5 C7.3 0.8 8.3 0.5 9.2 0.5 C10.1 0.5 10.9 0.8 11.1 1.3" stroke-width="1.1"/><circle cx="10.5" cy="2.3" r="1.3" fill="#000" stroke="none"/><path d="M5.0 9.6 C4.6 10.4 3.6 10.8 2.6 10.8 C1.8 10.8 1.1 10.4 0.9 9.8" stroke-width="1.1"/><circle cx="1.2" cy="9.0" r="1.3" fill="#000" stroke="none"/><path d="M5.0 9.6 C5.4 10.5 6.2 10.8 7.2 10.8 C8.8 10.8 10.4 9.4 11.2 7.6" stroke-width="1.0"/></g><text transform="translate(475.48 74.16) scale(1.2300 1)" font-family='"Liberation Serif", serif' font-size="18.2" fill="#000" font-style="italic">C</text>
<text transform="translate(474.34 54.66)" font-family='"Liberation Sans", sans-serif' font-size="15.8" fill="#000">(</text><text transform="translate(487.86 54.66)" font-family='"Liberation Sans", sans-serif' font-size="15.8" fill="#000">)</text><text x="480.05" y="54.40" font-family='"Liberation Sans", sans-serif' font-size="13.3" fill="#000" stroke="#000" stroke-width="0.25">4</text>
</svg></body></html>
